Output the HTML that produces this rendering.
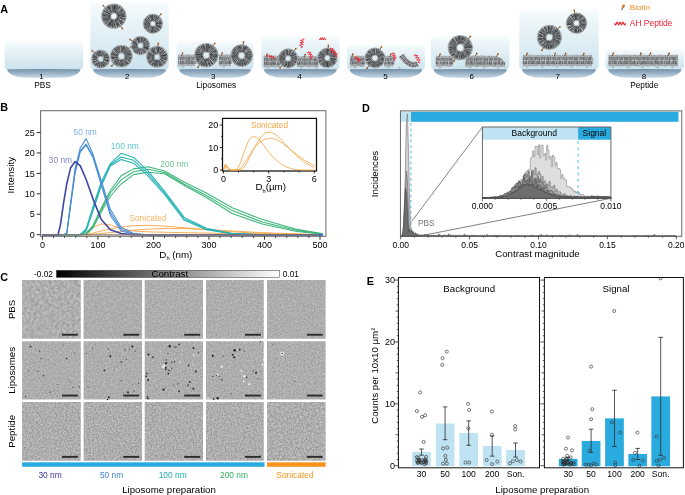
<!DOCTYPE html><html><head><meta charset="utf-8"><title>Figure</title><style>html,body{margin:0;padding:0;background:#fff;overflow:hidden}svg{display:block}text{font-family:"Liberation Sans",sans-serif}</style></head><body>
<svg width="685" height="495" viewBox="0 0 685 495" style="will-change:transform">
<defs>
<linearGradient id="wg" x1="0" y1="0" x2="0" y2="1"><stop offset="0" stop-color="#f9fcfd"/><stop offset="0.15" stop-color="#eff7fa"/><stop offset="1" stop-color="#cbe3ee"/></linearGradient>
<linearGradient id="bg" x1="0" y1="0" x2="0" y2="1"><stop offset="0" stop-color="#728da6"/><stop offset="0.45" stop-color="#96b0c6"/><stop offset="1" stop-color="#c8d8e4"/></linearGradient>
<linearGradient id="cb" x1="0" y1="0" x2="1" y2="0"><stop offset="0" stop-color="#000"/><stop offset="1" stop-color="#fff"/></linearGradient>
<pattern id="lp" patternUnits="userSpaceOnUse" width="9" height="8"><rect width="9" height="8" fill="#a9afb5" fill-opacity="0.6"/><path d="M6.42 5.93a0.82 0.82 0 1 0 0.01 0M0.35 5.92a0.87 0.87 0 1 0 0.01 0M9.35 5.92a0.87 0.87 0 1 0 0.01 0M1.14 3.72a0.88 0.88 0 1 0 0.01 0M10.14 3.72a0.88 0.88 0 1 0 0.01 0M6.39 -0.79a0.55 0.55 0 1 0 0.01 0M6.39 7.21a0.55 0.55 0 1 0 0.01 0M4.94 1.97a0.72 0.72 0 1 0 0.01 0M5.75 0.10a0.59 0.59 0 1 0 0.01 0M5.75 8.10a0.59 0.59 0 1 0 0.01 0M3.32 -0.67a0.81 0.81 0 1 0 0.01 0M3.32 7.33a0.81 0.81 0 1 0 0.01 0M1.99 6.38a0.56 0.56 0 1 0 0.01 0M6.06 1.01a0.50 0.50 0 1 0 0.01 0M8.43 1.68a0.59 0.59 0 1 0 0.01 0M0.46 6.98a0.62 0.62 0 1 0 0.01 0M9.46 6.98a0.62 0.62 0 1 0 0.01 0M0.42 4.31a0.77 0.77 0 1 0 0.01 0M9.42 4.31a0.77 0.77 0 1 0 0.01 0M2.62 -0.47a0.78 0.78 0 1 0 0.01 0M2.62 7.53a0.78 0.78 0 1 0 0.01 0M0.32 -0.85a0.62 0.62 0 1 0 0.01 0M0.32 7.15a0.62 0.62 0 1 0 0.01 0M9.32 -0.85a0.62 0.62 0 1 0 0.01 0M9.32 7.15a0.62 0.62 0 1 0 0.01 0M3.81 1.33a0.56 0.56 0 1 0 0.01 0M1.33 2.41a0.74 0.74 0 1 0 0.01 0M10.33 2.41a0.74 0.74 0 1 0 0.01 0M0.67 5.42a0.64 0.64 0 1 0 0.01 0M9.67 5.42a0.64 0.64 0 1 0 0.01 0M3.48 6.55a0.69 0.69 0 1 0 0.01 0M3.62 3.85a0.78 0.78 0 1 0 0.01 0M1.02 -0.20a0.51 0.51 0 1 0 0.01 0M1.02 7.80a0.51 0.51 0 1 0 0.01 0M10.02 -0.20a0.51 0.51 0 1 0 0.01 0M10.02 7.80a0.51 0.51 0 1 0 0.01 0M7.26 6.76a0.51 0.51 0 1 0 0.01 0M7.82 2.93a0.73 0.73 0 1 0 0.01 0M0.65 0.37a0.57 0.57 0 1 0 0.01 0M0.65 8.37a0.57 0.57 0 1 0 0.01 0M9.65 0.37a0.57 0.57 0 1 0 0.01 0M9.65 8.37a0.57 0.57 0 1 0 0.01 0M0.40 1.57a0.80 0.80 0 1 0 0.01 0M9.40 1.57a0.80 0.80 0 1 0 0.01 0M0.00 -0.46a0.64 0.64 0 1 0 0.01 0M0.00 7.54a0.64 0.64 0 1 0 0.01 0M9.00 -0.46a0.64 0.64 0 1 0 0.01 0M9.00 7.54a0.64 0.64 0 1 0 0.01 0M4.00 4.20a0.81 0.81 0 1 0 0.01 0M1.79 5.99a0.82 0.82 0 1 0 0.01 0M10.79 5.99a0.82 0.82 0 1 0 0.01 0M8.62 0.29a0.88 0.88 0 1 0 0.01 0M8.62 8.29a0.88 0.88 0 1 0 0.01 0M1.56 2.73a0.74 0.74 0 1 0 0.01 0M10.56 2.73a0.74 0.74 0 1 0 0.01 0M0.13 2.72a0.87 0.87 0 1 0 0.01 0M9.13 2.72a0.87 0.87 0 1 0 0.01 0M5.53 2.50a0.63 0.63 0 1 0 0.01 0M2.16 0.63a0.56 0.56 0 1 0 0.01 0M2.16 8.63a0.56 0.56 0 1 0 0.01 0M6.77 -0.03a0.56 0.56 0 1 0 0.01 0M6.77 7.97a0.56 0.56 0 1 0 0.01 0M1.15 -0.11a0.71 0.71 0 1 0 0.01 0M1.15 7.89a0.71 0.71 0 1 0 0.01 0M10.15 -0.11a0.71 0.71 0 1 0 0.01 0M10.15 7.89a0.71 0.71 0 1 0 0.01 0M4.39 1.90a0.74 0.74 0 1 0 0.01 0M8.11 3.65a0.67 0.67 0 1 0 0.01 0M1.01 -0.67a0.51 0.51 0 1 0 0.01 0M1.01 7.33a0.51 0.51 0 1 0 0.01 0M10.01 -0.67a0.51 0.51 0 1 0 0.01 0M10.01 7.33a0.51 0.51 0 1 0 0.01 0M4.99 6.71a0.55 0.55 0 1 0 0.01 0M7.34 -0.40a0.75 0.75 0 1 0 0.01 0M7.34 7.60a0.75 0.75 0 1 0 0.01 0M7.77 0.85a0.67 0.67 0 1 0 0.01 0M7.77 8.85a0.67 0.67 0 1 0 0.01 0M1.96 6.76a0.62 0.62 0 1 0 0.01 0M4.92 -0.01a0.84 0.84 0 1 0 0.01 0M4.92 7.99a0.84 0.84 0 1 0 0.01 0M0.48 3.63a0.70 0.70 0 1 0 0.01 0M9.48 3.63a0.70 0.70 0 1 0 0.01 0M7.18 3.83a0.62 0.62 0 1 0 0.01 0M4.28 1.17a0.65 0.65 0 1 0 0.01 0M0.65 -0.32a0.75 0.75 0 1 0 0.01 0M0.65 7.68a0.75 0.75 0 1 0 0.01 0M9.65 -0.32a0.75 0.75 0 1 0 0.01 0M9.65 7.68a0.75 0.75 0 1 0 0.01 0M5.03 2.71a0.54 0.54 0 1 0 0.01 0M3.30 6.26a0.85 0.85 0 1 0 0.01 0M4.06 6.29a0.81 0.81 0 1 0 0.01 0M7.06 5.31a0.80 0.80 0 1 0 0.01 0M3.88 5.64a0.61 0.61 0 1 0 0.01 0M5.15 6.16a0.78 0.78 0 1 0 0.01 0M3.40 -0.44a0.76 0.76 0 1 0 0.01 0M3.40 7.56a0.76 0.76 0 1 0 0.01 0M5.94 0.09a0.72 0.72 0 1 0 0.01 0M5.94 8.09a0.72 0.72 0 1 0 0.01 0M2.94 5.37a0.69 0.69 0 1 0 0.01 0M8.17 5.18a0.82 0.82 0 1 0 0.01 0M3.93 5.15a0.80 0.80 0 1 0 0.01 0M8.29 2.80a0.84 0.84 0 1 0 0.01 0" fill="none" stroke="#26282a" stroke-width="0.3"/></pattern>
<filter id="soft" x="-5%" y="-5%" width="110%" height="110%"><feGaussianBlur stdDeviation="0.22"/></filter>
<filter id="soft2" x="-2%" y="-2%" width="104%" height="104%"><feGaussianBlur stdDeviation="0.3"/></filter>
</defs>
<g id="panelA">
<text x="0.2" y="12.9" font-size="10.8" text-anchor="start" fill="#000" font-weight="bold">A</text>
<path d="M4.5 45Q4.5 41 8.5 41H79Q83 41 83 45V65.5Q83 68.6 80.6 69.4H6.9Q4.5 68.6 4.5 65.5Z" fill="url(#wg)"/>
<path d="M7.3 69.3Q43.75 68.5 80.2 69.3C80.7 73 73.2 77.8 60.2 77.8H27.3C14.3 77.8 6.8 73 7.3 69.3Z" fill="url(#bg)"/>
<path d="M90.4 6Q90.4 2 94.4 2H164.8Q168.8 2 168.8 6V65.5Q168.8 68.6 166.4 69.4H92.8Q90.4 68.6 90.4 65.5Z" fill="url(#wg)"/>
<path d="M93.2 69.3Q129.6 68.5 166 69.3C166.5 73 159 77.8 146 77.8H113.2C100.2 77.8 92.7 73 93.2 69.3Z" fill="url(#bg)"/>
<path d="M176.5 45Q176.5 41 180.5 41H249.7Q253.7 41 253.7 45V65.5Q253.7 68.6 251.3 69.4H178.9Q176.5 68.6 176.5 65.5Z" fill="url(#wg)"/>
<path d="M179.3 69.3Q215.1 68.5 250.9 69.3C251.4 73 243.9 77.8 230.9 77.8H199.3C186.3 77.8 178.8 73 179.3 69.3Z" fill="url(#bg)"/>
<path d="M261.2 40Q261.2 36 265.2 36H335.5Q339.5 36 339.5 40V65.5Q339.5 68.6 337.1 69.4H263.6Q261.2 68.6 261.2 65.5Z" fill="url(#wg)"/>
<path d="M264 69.3Q300.35 68.5 336.7 69.3C337.2 73 329.7 77.8 316.7 77.8H284C271 77.8 263.5 73 264 69.3Z" fill="url(#bg)"/>
<path d="M347 48.5Q347 44.5 351 44.5H420.9Q424.9 44.5 424.9 48.5V65.5Q424.9 68.6 422.5 69.4H349.4Q347 68.6 347 65.5Z" fill="url(#wg)"/>
<path d="M349.8 69.3Q385.95 68.5 422.1 69.3C422.6 73 415.1 77.8 402.1 77.8H369.8C356.8 77.8 349.3 73 349.8 69.3Z" fill="url(#bg)"/>
<path d="M431 40Q431 36 435 36H505.5Q509.5 36 509.5 40V65.5Q509.5 68.6 507.1 69.4H433.4Q431 68.6 431 65.5Z" fill="url(#wg)"/>
<path d="M433.8 69.3Q470.25 68.5 506.7 69.3C507.2 73 499.7 77.8 486.7 77.8H453.8C440.8 77.8 433.3 73 433.8 69.3Z" fill="url(#bg)"/>
<path d="M519.3 13.4Q519.3 9.4 523.3 9.4H594.6Q598.6 9.4 598.6 13.4V65.5Q598.6 68.6 596.2 69.4H521.7Q519.3 68.6 519.3 65.5Z" fill="url(#wg)"/>
<path d="M522.1 69.3Q558.95 68.5 595.8 69.3C596.3 73 588.8 77.8 575.8 77.8H542.1C529.1 77.8 521.6 73 522.1 69.3Z" fill="url(#bg)"/>
<path d="M605.5 53Q605.5 49 609.5 49H680Q684 49 684 53V65.5Q684 68.6 681.6 69.4H607.9Q605.5 68.6 605.5 65.5Z" fill="url(#wg)"/>
<path d="M608.3 69.3Q644.75 68.5 681.2 69.3C681.7 73 674.2 77.8 661.2 77.8H628.3C615.3 77.8 607.8 73 608.3 69.3Z" fill="url(#bg)"/>
<text x="41.4" y="79.1" font-size="8" text-anchor="middle" fill="#000">1</text>
<text x="127.14" y="79.1" font-size="8" text-anchor="middle" fill="#000">2</text>
<text x="213.28" y="79.1" font-size="8" text-anchor="middle" fill="#000">3</text>
<text x="299.42" y="79.1" font-size="8" text-anchor="middle" fill="#000">4</text>
<text x="385.56" y="79.1" font-size="8" text-anchor="middle" fill="#000">5</text>
<text x="471.7" y="79.1" font-size="8" text-anchor="middle" fill="#000">6</text>
<text x="557.84" y="79.1" font-size="8" text-anchor="middle" fill="#000">7</text>
<text x="643.98" y="79.1" font-size="8" text-anchor="middle" fill="#000">8</text>
<text x="42.5" y="88.2" font-size="8.3" text-anchor="middle" fill="#000">PBS</text>
<text x="216.2" y="88.2" font-size="8.3" text-anchor="middle" fill="#000">Liposomes</text>
<text x="644.2" y="88.1" font-size="8.3" text-anchor="middle" fill="#000">Peptide</text>
<g filter="url(#soft)">
<circle cx="100.6" cy="59" r="5.88" fill="none" stroke="#e9edf0" stroke-width="7.05"/>
<circle cx="100.6" cy="59" r="5.88" fill="none" stroke="url(#lp)" stroke-opacity="0.45" stroke-width="6.65"/>
<path d="M103.67 59.06L109.06 58.87M103.61 59.63L108.91 60.75M103.85 60.36L108.33 61.72M103.12 61.16L107.35 64.25M103.06 61.93L105.97 65.47M101.97 61.76L104.57 66.5M101.44 62.24L102.99 67.07M100.95 62.62L101.55 67.47M99.85 62.59L99.32 67.39M99.23 62L97.26 66.57M98.75 61.68L95.56 65.61M98.47 61.24L94.62 65.11M97.51 60.6L93.24 62.41M97.26 60.24L92.61 62.03M97.43 59.34L92.47 59.52M97.15 58.51L92.48 57.8M97.14 57.64L92.59 56.33M97.36 57.29L93.17 55.49M98.24 56.81L94.65 53.17M98.63 56.15L95.52 52.13M99.1 55.78L97.4 51.14M99.97 55.91L99.06 51.02M100.61 55.61L100.58 50.61M101.45 55.79L102.45 51.04M102.26 55.6L104.6 51.64M103.23 56.27L106.02 52.88M103.62 56.63L107.43 54M103.9 57.5L108.27 55.29M103.99 58.05L108.73 57.08" fill="none" stroke="#111214" stroke-opacity="0.95" stroke-width="0.58"/>
<path d="M106.77 59.93L108.64 60.21M106.13 60.52L108.5 61.17M105.98 62.2L108.04 63.29M104.65 63.64L105.71 65.11M103.87 64.24L104.8 65.86M102.82 64.33L104.16 66.88M101.69 65.42L101.83 67.1M100.23 65.19L99.86 67.25M98.9 64.55L97.55 67.1M97.32 64.03L96.28 66.07M96.88 63.39L95.42 65.11M95.94 62.73L94.01 64.34M94.86 61.55L93.09 62.32M94.27 60.63L92.86 61.01M94.4 59.12L92.39 59.17M94.85 57.83L92.32 57.29M94.94 55.76L93.17 54.75M95.53 55.6L93.89 54.29M96.64 54.69L95.32 53.11M97.59 53.64L96.13 51.62M99 53.64L98.4 50.9M100 52.68L99.44 50.92M101.43 52.82L101.15 51.06M102.57 53.34L103.07 51.12M103.6 54.3L105.26 52.26M105 55.3L106.6 53.62M105.65 55.82L107.71 54.72M106.51 57.36L108.65 56.79M107.01 57.7L108.89 57.3" fill="none" stroke="#1a1c1e" stroke-opacity="0.85" stroke-width="0.46"/>
<circle cx="100.6" cy="59" r="9.05" fill="none" stroke="#6c7074" stroke-width="0.6" stroke-dasharray="0.6 0.55"/>
<circle cx="100.6" cy="59" r="2.65" fill="none" stroke="#55595d" stroke-width="0.6" stroke-dasharray="0.5 0.4"/>
<path d="M94.31 52.71L92.4 50.8" stroke="#5a3c22" stroke-width="0.8"/>
<circle cx="92.22" cy="50.62" r="0.9" fill="#a95c19"/>
<circle cx="121.4" cy="56.2" r="7.08" fill="none" stroke="#e9edf0" stroke-width="8.45"/>
<circle cx="121.4" cy="56.2" r="7.08" fill="none" stroke="url(#lp)" stroke-opacity="0.45" stroke-width="8.05"/>
<path d="M125.49 56.24L131.78 55.83M125.36 56.88L131.39 58.46M124.92 57.6L130.89 60.3M124.68 57.96L130.27 61.57M124.4 59.02L128.41 63.6M124.02 59.61L128.13 64.17M123.08 59.51L126.27 65.14M122.59 59.78L124.4 66.26M121.91 59.72L122.41 66.61M121.37 59.85L120.83 66.53M120.69 59.76L118.96 66.01M119.54 60.11L116.66 65.11M118.95 59.66L115.8 64.6M118.59 59.32L114.71 63.99M118.02 58.76L113.57 62.45M118.05 57.62L112.34 60.47M117.71 57.12L111.5 58.66M117.15 56.81L111.24 57.4M117.61 55.79L111.17 54.66M117.74 55.23L111.29 53.63M117.77 54.55L111.74 52.09M118.38 54.03L113.36 49.82M118.8 53.4L114.76 48.6M119.15 52.98L115.21 48.25M119.93 52.76L116.85 47.1M120.29 52.03L118.24 46.46M121.28 51.86L121.68 46M122.08 52.27L123.39 46.35M122.73 52.46L124.56 46.52M123.15 52.98L126.57 47.19M123.69 53.27L128.13 48.41M124.05 53.83L129.29 49.54M124.87 54.15L130.16 50.62M124.83 54.87L130.8 52.07M125.36 55.27L131.55 53.77" fill="none" stroke="#111214" stroke-opacity="0.95" stroke-width="0.58"/>
<path d="M128.3 57.17L131.42 57.61M128.76 57.93L131.52 58.57M127.99 59.18L130.07 60.28M127.72 60.72L130.08 62.18M125.75 61.25L128.18 63.78M125.58 62.25L127.14 64.7M124.3 63.44L125.72 65.47M122.92 63.02L123.5 66.02M121.49 63.54L121.39 66.2M120.42 63.88L120.6 66.08M119.36 63.35L117.86 66.21M117.86 62.91L115.98 65.31M116.85 61.24L114.3 63.6M116.17 60.77L113.85 63.1M115.27 59.9L112.88 61.32M114.66 58.03L111.36 58.94M114.12 57.42L111.14 57.91M113.9 56.42L111.17 56.5M114.54 54.67L111.3 53.96M114.46 53.33L112.27 52.39M114.95 52.59L112.55 51.26M116.34 51.56L113.71 49.14M117.25 50.64L114.57 47.88M117.64 49.77L116.44 47.24M119.22 48.89L118.3 46.2M119.91 48.62L119.91 46.17M122.16 48.81L122.43 46.18M123.18 49.45L124.26 46.19M124.07 49.71L125.06 46.64M125.25 50.67L127.32 47.78M126.6 50.75L128.6 48.98M127.86 51.72L130.05 50.36M127.42 53.29L130.8 51.72M127.85 54.43L131.33 53.49M128.41 54.88L131.54 54.29" fill="none" stroke="#1a1c1e" stroke-opacity="0.85" stroke-width="0.46"/>
<circle cx="121.4" cy="56.2" r="10.95" fill="none" stroke="#6c7074" stroke-width="0.6" stroke-dasharray="0.6 0.55"/>
<circle cx="121.4" cy="56.2" r="3.15" fill="none" stroke="#55595d" stroke-width="0.6" stroke-dasharray="0.5 0.4"/>
<path d="M129.04 48.56L130.95 46.65" stroke="#5a3c22" stroke-width="0.8"/>
<circle cx="131.12" cy="46.48" r="0.9" fill="#a95c19"/>
<path d="M113.76 63.84L111.85 65.75" stroke="#5a3c22" stroke-width="0.8"/>
<circle cx="111.68" cy="65.92" r="0.9" fill="#a95c19"/>
<circle cx="140.5" cy="45.6" r="6.02" fill="none" stroke="#e9edf0" stroke-width="7.35"/>
<circle cx="140.5" cy="45.6" r="6.02" fill="none" stroke="url(#lp)" stroke-opacity="0.45" stroke-width="6.95"/>
<path d="M143.85 45.71L149 46.22M143.71 46.5L148.68 48.18M143.47 46.71L148.71 48.87M143.44 47.56L147.81 49.99M142.97 48.21L146.36 51.65M142.49 48.68L145.01 52.77M141.56 48.77L143.4 53.75M140.83 49.3L141.31 54.11M140.12 49.02L139.31 54.2M139.35 48.63L137.32 53.66M138.77 48.86L136.06 53.12M138.22 48.42L134.85 52.15M137.99 47.63L133.97 51.13M137.43 46.85L132.68 49.05M136.92 46.34L131.94 47.68M137.37 45.69L131.71 46.13M137.13 44.67L132.16 43.7M137.39 44.23L132.26 42.49M137.52 43.67L132.86 41.09M138.22 42.9L134.81 39.28M139.03 42.65L136.77 37.86M139.58 42.56L137.52 37.31M140 42.02L139.27 37.14M140.97 41.83L141.63 36.99M141.39 42.43L142.86 37.41M142.39 42.71L144.87 38.13M142.91 42.63L145.9 39.06M143.33 43.28L147.3 40.23M143.35 44.33L148.4 41.88M144.2 44.71L148.77 43.66" fill="none" stroke="#111214" stroke-opacity="0.95" stroke-width="0.58"/>
<path d="M146.21 46.25L149.33 46.6M146.5 48.08L148.34 48.78M145.76 48.27L147.89 49.44M145.54 50.05L147.55 51.45M143.88 50.24L145.36 52.45M143.77 51.49L144.77 52.97M141.7 52.05L141.47 54.29M140.23 52.32L139.72 54.33M139.25 52.08L139.45 53.85M138 50.71L137.2 53.14M137.07 50.48L134.88 52.88M135.91 50.02L134.03 51.57M135.29 48.92L133.31 50.21M134.98 47.36L132.31 48.26M134.08 46.26L132.23 46.44M134.83 45.34L131.92 45.21M134.82 43.13L132.86 42.26M135.27 42.29L133.32 41.11M135.86 41.81L133.76 40.34M137.06 40.5L136.1 38.44M138.31 39.27L137.25 37.31M139.04 39.62L138.2 37.3M140.4 38.92L140.54 37.17M142.11 39.14L141.97 37.45M142.52 40.17L143.71 37.64M144.15 40.67L145.4 38.61M145.49 41.05L146.56 39.88M145.52 42.59L147.93 41.21M146.81 43.66L148.89 43.04M146.45 44.79L149.19 44.42" fill="none" stroke="#1a1c1e" stroke-opacity="0.85" stroke-width="0.46"/>
<circle cx="140.5" cy="45.6" r="9.35" fill="none" stroke="#6c7074" stroke-width="0.6" stroke-dasharray="0.6 0.55"/>
<circle cx="140.5" cy="45.6" r="2.65" fill="none" stroke="#55595d" stroke-width="0.6" stroke-dasharray="0.5 0.4"/>
<path d="M132.53 41L130.19 39.65" stroke="#5a3c22" stroke-width="0.8"/>
<circle cx="129.98" cy="39.52" r="0.9" fill="#a95c19"/>
<circle cx="157.1" cy="56.9" r="6.67" fill="none" stroke="#e9edf0" stroke-width="8.65"/>
<circle cx="157.1" cy="56.9" r="6.67" fill="none" stroke="url(#lp)" stroke-opacity="0.45" stroke-width="8.25"/>
<path d="M160.56 56.86L166.81 56.98M160.57 57.65L166.77 58.64M160.72 58.13L166.56 59.79M160.2 59.06L165.53 62.22M159.91 59.33L164.63 63.03M159.23 59.98L162.53 65.37M158.64 59.81L161.2 65.92M158.03 60.26L159.98 66.45M157.29 59.98L157.47 66.72M156.6 60.31L155.62 66.97M156.16 60.18L154.48 66.38M155.55 60.15L152.48 65.63M154.83 59.76L151.46 64.87M154.53 59.12L149.31 63.41M154.07 59L148.92 62.74M154.24 58.13L148.08 60.63M153.92 57.58L147.06 58.68M153.58 56.96L147.22 57.16M153.91 56.31L147.37 55.01M153.8 55.72L147.92 53.3M153.92 55.03L148.48 52.04M154.4 54.35L150.25 49.77M155.28 54.36L151.5 48.55M155.43 53.51L152.51 48.26M156.19 53.89L153.88 47.73M156.95 53.21L157.04 46.88M157.49 53.4L158.7 47.24M158.16 53.27L159.42 47.08M158.66 53.43L161.21 47.73M159.35 54.03L163.03 49.19M159.59 54.62L163.9 49.95M160.07 54.87L165.61 51.78M160.33 55.79L166.49 53.85M160.51 56.11L167.07 54.94" fill="none" stroke="#111214" stroke-opacity="0.95" stroke-width="0.58"/>
<path d="M163.85 57.48L167.17 57.77M164.19 59.18L166.46 59.94M163.55 59.52L166.47 60.61M162.21 61.52L164.34 63.45M161.74 61.79L163.73 63.9M160.81 63.37L161.58 65.48M159.57 62.84L161.12 66.02M158.59 63.89L159.57 66.54M156.68 63.63L155.99 66.68M155.3 64.05L154.82 66.28M154.66 62.86L152.67 66.08M153.12 63.09L151.95 65.29M152.44 62.21L150.18 64.15M151.41 60.65L148.6 62.28M151.18 60.51L148.45 62.04M150.1 59.37L147.59 60.27M150 57.47L147.03 57.7M149.77 56.53L147.02 56.39M150.82 54.79L148.07 53.83M150.6 54.22L148.21 53.12M151.43 52.71L149.44 51.08M152.79 51.85L150.74 49.35M153.69 51.47L152.49 48.54M154.85 50.41L154.28 47.72M155.96 49.63L156.33 47.25M157.12 49.96L157.41 46.97M158.17 50.44L159.38 46.85M160.05 50.09L160.95 47.71M160.48 50.32L161.65 47.9M161.64 52.33L163.65 49.84M162.48 52.71L165.03 50.99M162.96 53.54L165.53 51.88M163.21 55.48L166.48 54.69M163.54 55.84L166.6 55.33" fill="none" stroke="#1a1c1e" stroke-opacity="0.85" stroke-width="0.46"/>
<circle cx="157.1" cy="56.9" r="10.65" fill="none" stroke="#6c7074" stroke-width="0.6" stroke-dasharray="0.6 0.55"/>
<circle cx="157.1" cy="56.9" r="2.65" fill="none" stroke="#55595d" stroke-width="0.6" stroke-dasharray="0.5 0.4"/>
<path d="M158.02 46.44L158.25 43.75" stroke="#5a3c22" stroke-width="0.8"/>
<circle cx="158.27" cy="43.5" r="0.9" fill="#a95c19"/>
<circle cx="113.8" cy="16.2" r="7.67" fill="none" stroke="#e9edf0" stroke-width="9.85"/>
<circle cx="113.8" cy="16.2" r="7.67" fill="none" stroke="url(#lp)" stroke-opacity="0.45" stroke-width="9.45"/>
<path d="M117.97 16.06L125.6 16.31M117.22 16.81L125.33 18.68M117.44 17.51L124.56 20.04M116.81 17.95L123.4 22.36M116.82 18.46L122.98 23.05M116.45 18.74L122.05 24.19M115.78 19.12L119.8 25.95M115.37 19.47L118.89 26.66M114.84 19.62L117.65 26.87M114.15 20.08L114.76 27.67M113.53 20.34L112.42 27.56M113.02 19.74L110.8 27.56M112.17 20.1L109.26 26.65M112.07 19.35L108.53 26.36M111.57 18.98L107.14 25.55M110.82 18.91L105.29 23.81M110.67 18.11L104.02 22.18M110.43 17.66L103.29 20.78M110.26 17.25L102.75 20.02M110.07 16.62L102.42 17.48M110.34 16.07L102.5 15.3M110.41 15.5L102.5 13.43M110.5 14.66L103.39 11.31M110.47 14.24L103.69 10.23M111.15 13.71L104.98 8.48M111.45 13.16L107.1 6.95M111.77 12.59L107.76 6.43M112.28 12.66L109.15 5.53M113.14 12.31L111.83 4.82M113.76 12.23L113.65 4.56M114.22 12.2L114.57 4.68M114.72 12.57L116.55 4.87M115.18 12.95L118 5.54M115.97 12.94L120.13 6.33M116.47 13.64L122.47 8.47M116.94 13.93L123.04 9.39M117.27 14.56L124.15 10.77M117.78 15.01L125.02 12.61M117.83 15.68L125.03 14.28" fill="none" stroke="#111214" stroke-opacity="0.95" stroke-width="0.58"/>
<path d="M121.17 16.28L125.44 16.33M121.26 17.95L125.35 18.88M120.94 19.68L124.34 21.35M120.25 20.7L123.43 22.62M119.07 21.24L122.14 24.33M119.66 22.56L121.64 24.65M117.78 23.51L119.68 26.19M116.49 23.01L117.75 26.94M115.11 23.4L115.46 27.75M114 23.56L113.81 27.78M112.61 23.81L112.55 27.52M111.47 24.18L110.06 27.2M110.4 22.57L107.99 26.12M109.95 22.27L107.65 25.72M108.52 21.53L105.89 24.41M108.24 20.87L104.7 23.73M107.04 19.65L104.03 21.36M106.9 18.43L102.74 19.75M106.34 17.97L102.23 18.93M105.43 16.18L102.06 16.18M105.83 15.2L102.5 14.79M105.76 13.74L102.85 12.91M107.12 12.5L103.51 10.58M107.68 11.52L105.14 9.3M108.29 9.98L105.81 7.66M109.09 9.06L107.7 6.63M110.22 9.23L108.13 5.86M110.76 8.36L110.2 5.24M113.12 7.88L112.8 4.97M114.06 8.93L114.96 4.47M115.06 8.47L115.69 4.81M116.29 8.53L117.54 5.43M117.74 9.06L119.81 6.34M119.19 10L121.52 7.47M120.3 11.25L123.04 9.35M120.34 12.1L123.41 9.99M121.56 12.9L124.79 11.61M121.05 14.86L125.05 14.1M121.58 15.77L125.14 15.58" fill="none" stroke="#1a1c1e" stroke-opacity="0.85" stroke-width="0.46"/>
<circle cx="113.8" cy="16.2" r="12.25" fill="none" stroke="#6c7074" stroke-width="0.6" stroke-dasharray="0.6 0.55"/>
<circle cx="113.8" cy="16.2" r="3.05" fill="none" stroke="#55595d" stroke-width="0.6" stroke-dasharray="0.5 0.4"/>
<path d="M105.24 7.64L103.33 5.73" stroke="#5a3c22" stroke-width="0.8"/>
<circle cx="103.16" cy="5.56" r="0.9" fill="#a95c19"/>
<path d="M120.74 26.11L122.29 28.32" stroke="#5a3c22" stroke-width="0.8"/>
<circle cx="122.43" cy="28.53" r="0.9" fill="#a95c19"/>
<circle cx="152.9" cy="23.7" r="6.08" fill="none" stroke="#e9edf0" stroke-width="7.85"/>
<circle cx="152.9" cy="23.7" r="6.08" fill="none" stroke="url(#lp)" stroke-opacity="0.45" stroke-width="7.45"/>
<path d="M155.98 23.68L161.72 23.59M155.95 24.46L161.23 26.29M156.04 25.26L160.94 27.28M155.89 25.57L160.45 28.17M155.41 26.3L159.25 30.2M154.93 26.73L158.33 30.9M154.1 26.54L156.12 31.87M153.52 26.69L154.62 32.31M152.82 26.59L152.35 32.67M152.27 26.9L151.53 32.67M151.56 26.29L149.31 31.64M150.96 26.28L147.16 30.48M150.3 25.81L145.9 29.05M149.93 25.5L145.13 28.18M149.96 24.64L144.26 26.81M149.86 23.99L144.15 24.87M149.76 23.53L144.18 22.96M149.47 22.63L144.47 20.72M150.19 22.18L145 19.06M150.68 21.86L146.05 18.23M150.71 21.15L147.27 16.66M151.72 21.07L149.43 15.22M152.07 20.19L151.11 14.87M152.66 20.77L152.18 14.9M153.43 20.09L154.66 14.82M154.16 20.75L156.68 15.36M154.8 20.69L157.77 16.4M154.87 21.42L159.12 17.01M155.65 21.81L160.33 18.34M155.62 22.66L161.09 20.72M156.21 23.14L161.95 22.68" fill="none" stroke="#111214" stroke-opacity="0.95" stroke-width="0.58"/>
<path d="M158.92 24.29L161.58 24.55M158.57 25.71L161.34 26.7M158.43 27L160.31 28.15M157.54 27.51L159.89 29.19M156.5 28.14L158.67 30.82M155.77 29.72L156.32 31.65M155.03 29.85L156.48 32.14M153.4 29.98L153.93 32.8M152.18 29.47L151.7 32.29M151.08 29.84L150.44 32.38M149.46 28.95L148.12 30.9M149.13 27.98L147.3 30.25M148.16 26.92L145.32 28.68M146.87 26.48L144.42 27.53M146.34 25.4L144.15 25.93M146.3 23.76L144.23 23.78M146.88 22.5L144.45 22.02M147.64 21.3L145.06 20.03M147.6 20.12L145.64 18.69M148.9 19.22L147.64 17.27M149.11 18.05L147.95 16.13M150.89 17.91L150.14 15.33M152.13 17.44L152.02 14.81M152.96 17.36L152.63 14.66M154.32 18.05L154.95 15.27M156.01 18.5L156.97 15.98M157.08 18.81L158.57 17.06M157.3 19.14L159.44 17.24M158.78 20.86L161.06 19.83M159.15 21.97L161.7 21.3M159.64 23.2L161.98 23.02" fill="none" stroke="#1a1c1e" stroke-opacity="0.85" stroke-width="0.46"/>
<circle cx="152.9" cy="23.7" r="9.65" fill="none" stroke="#6c7074" stroke-width="0.6" stroke-dasharray="0.6 0.55"/>
<circle cx="152.9" cy="23.7" r="2.45" fill="none" stroke="#55595d" stroke-width="0.6" stroke-dasharray="0.5 0.4"/>
<path d="M159.01 16.42L160.74 14.35" stroke="#5a3c22" stroke-width="0.8"/>
<circle cx="160.9" cy="14.16" r="0.9" fill="#a95c19"/>
<rect x="178.3" y="54.9" width="17.7" height="10.8" fill="#f2f4f5" fill-opacity="0.9"/>
<rect x="178.3" y="56.6" width="17.7" height="7.4" fill="url(#lp)" fill-opacity="0.32"/>
<path d="M178.8 56.7L178.56 59.96M178.57 63.9L178.71 60.38M180.13 56.7L180.41 59.9M180.37 63.9L180.47 60.54M181.22 56.7L181.08 60.1M181.24 63.9L181.01 60.85M182.32 56.7L182.43 60.18M182.47 63.9L182.71 60.55M183.61 56.7L183.28 60.21M183.3 63.9L183.35 60.62M184.89 56.7L184.84 60.1M184.99 63.9L185.08 60.33M186.23 56.7L186.22 60.25M186.44 63.9L186.3 60.16M187.3 56.7L187.26 59.86M187.29 63.9L187.36 60.35M188.56 56.7L188.73 60.48M188.82 63.9L188.56 60.4M189.78 56.7L189.66 59.91M189.76 63.9L189.58 60.18M190.92 56.7L190.84 59.9M191 63.9L191.26 60.23M192.07 56.7L192.12 60.31M191.94 63.9L191.94 60.51M193.27 56.7L193.13 60.46M192.93 63.9L192.94 60.87M194.38 56.7L194.28 60.1M194.07 63.9L194.34 60.62M195.57 56.7L195.6 60.04M195.82 63.9L196.08 60.68" fill="none" stroke="#101214" stroke-opacity="0.9" stroke-width="0.5"/>
<path d="M180.38 55.7a0.88 0.88 0 1 0 -1.76 0a0.88 0.88 0 1 0 1.76 0M182.78 55.88a0.88 0.88 0 1 0 -1.76 0a0.88 0.88 0 1 0 1.76 0M185.18 55.65a0.88 0.88 0 1 0 -1.76 0a0.88 0.88 0 1 0 1.76 0M187.58 55.53a0.88 0.88 0 1 0 -1.76 0a0.88 0.88 0 1 0 1.76 0M189.98 55.79a0.88 0.88 0 1 0 -1.76 0a0.88 0.88 0 1 0 1.76 0M192.38 55.84a0.88 0.88 0 1 0 -1.76 0a0.88 0.88 0 1 0 1.76 0M194.78 55.57a0.88 0.88 0 1 0 -1.76 0a0.88 0.88 0 1 0 1.76 0M180.38 64.9a0.88 0.88 0 1 0 -1.76 0a0.88 0.88 0 1 0 1.76 0M182.78 65.08a0.88 0.88 0 1 0 -1.76 0a0.88 0.88 0 1 0 1.76 0M185.18 64.85a0.88 0.88 0 1 0 -1.76 0a0.88 0.88 0 1 0 1.76 0M187.58 64.73a0.88 0.88 0 1 0 -1.76 0a0.88 0.88 0 1 0 1.76 0M189.98 64.99a0.88 0.88 0 1 0 -1.76 0a0.88 0.88 0 1 0 1.76 0M192.38 65.04a0.88 0.88 0 1 0 -1.76 0a0.88 0.88 0 1 0 1.76 0M194.78 64.77a0.88 0.88 0 1 0 -1.76 0a0.88 0.88 0 1 0 1.76 0" fill="#f8f9fa" stroke="#3c4044" stroke-width="0.48"/>
<path d="M181.8 67h2.4" fill="none" stroke="#9aa1a7" stroke-width="0.9"/>
<path d="M181.5 55.8L182.51 53.3" stroke="#5a3c22" stroke-width="0.8"/>
<circle cx="182.61" cy="53.06" r="0.9" fill="#a95c19"/>
<rect x="219" y="54.9" width="13" height="10.8" fill="#f2f4f5" fill-opacity="0.9"/>
<rect x="219" y="56.6" width="13" height="7.4" fill="url(#lp)" fill-opacity="0.32"/>
<path d="M219.5 56.7L219.41 60.16M219.43 63.9L219.22 60.54M220.57 56.7L220.58 59.92M220.76 63.9L221.1 60.64M221.66 56.7L221.99 60.34M221.58 63.9L221.47 60.85M222.93 56.7L222.72 60.1M222.94 63.9L222.62 60.21M224.08 56.7L224.07 60.19M224.05 63.9L224.06 60.36M225.32 56.7L225.08 60.29M225.66 63.9L225.52 60.37M226.62 56.7L226.64 59.94M226.76 63.9L226.98 60.39M227.87 56.7L228.2 60.34M227.93 63.9L228.08 60.65M228.93 56.7L228.91 60.33M229.25 63.9L229.45 60.56M230.19 56.7L230.25 60.2M229.96 63.9L230.05 60.77M231.29 56.7L231.41 60.46M230.96 63.9L230.69 60.12" fill="none" stroke="#101214" stroke-opacity="0.9" stroke-width="0.5"/>
<path d="M221.08 55.7a0.88 0.88 0 1 0 -1.76 0a0.88 0.88 0 1 0 1.76 0M223.48 55.88a0.88 0.88 0 1 0 -1.76 0a0.88 0.88 0 1 0 1.76 0M225.88 55.65a0.88 0.88 0 1 0 -1.76 0a0.88 0.88 0 1 0 1.76 0M228.28 55.53a0.88 0.88 0 1 0 -1.76 0a0.88 0.88 0 1 0 1.76 0M230.68 55.79a0.88 0.88 0 1 0 -1.76 0a0.88 0.88 0 1 0 1.76 0M221.08 64.9a0.88 0.88 0 1 0 -1.76 0a0.88 0.88 0 1 0 1.76 0M223.48 65.08a0.88 0.88 0 1 0 -1.76 0a0.88 0.88 0 1 0 1.76 0M225.88 64.85a0.88 0.88 0 1 0 -1.76 0a0.88 0.88 0 1 0 1.76 0M228.28 64.73a0.88 0.88 0 1 0 -1.76 0a0.88 0.88 0 1 0 1.76 0M230.68 64.99a0.88 0.88 0 1 0 -1.76 0a0.88 0.88 0 1 0 1.76 0" fill="#f8f9fa" stroke="#3c4044" stroke-width="0.48"/>
<path d="M222.5 67h2.4" fill="none" stroke="#9aa1a7" stroke-width="0.9"/>
<path d="M221.2 55.8L222.21 53.3" stroke="#5a3c22" stroke-width="0.8"/>
<circle cx="222.31" cy="53.06" r="0.9" fill="#a95c19"/>
<circle cx="206.3" cy="55.3" r="7.52" fill="none" stroke="#e9edf0" stroke-width="9.35"/>
<circle cx="206.3" cy="55.3" r="7.52" fill="none" stroke="url(#lp)" stroke-opacity="0.45" stroke-width="8.95"/>
<path d="M210.4 55.16L217.49 55.28M209.98 55.78L217.41 56.97M209.94 56.49L216.68 58.99M209.86 57.11L216.05 60.98M209.36 57.6L214.81 62.16M209 58.53L213 63.93M208.37 58.43L212.79 64.38M207.87 59L210.5 65.77M207.12 58.84L209.41 65.87M206.48 59.23L206.18 66.6M205.94 59.26L204.73 66.23M205.06 59.47L203.11 66.04M204.87 59.04L201.65 65.65M203.83 58.74L200.13 64.61M203.59 58.43L199.03 63.57M203.1 57.63L196.98 61.79M203.06 57.16L196.45 60.25M202.87 56.4L195.59 59.03M202.72 55.97L195.6 57.57M202.27 55.2L195.11 54.96M202.19 54.72L195.38 54.31M202.48 54.17L195.64 52.05M202.71 53.49L196.17 50.18M203.1 53.03L197.51 48.7M203.58 52.61L198.72 46.83M203.99 51.83L200.73 45.8M204.73 51.32L202.41 44.79M205.2 51.48L203.52 44.52M206.04 51.32L206 44.17M206.68 51.68L207.35 44.35M207.04 51.8L208.86 44.5M207.89 51.37L210.58 44.76M208.57 51.9L212.31 45.8M209.08 52.01L213.77 47.28M209.63 52.93L215.13 48.73M210.01 53.28L216.31 50.17M209.77 54.13L216.85 51.32M209.96 54.77L217.48 53.93" fill="none" stroke="#111214" stroke-opacity="0.95" stroke-width="0.58"/>
<path d="M214.55 56.05L217.26 56.29M213.63 56.9L217.15 57.71M213.66 58.52L216.62 59.72M212.73 59.09L215.82 61.03M211.81 59.97L214.82 62.41M210.72 61.31L213.02 64.13M210.3 62.65L212.1 64.95M208.77 62.86L209.98 66.11M207.46 63.58L207.07 66.35M206.14 63.26L206.8 66.15M204.75 62.44L204.55 65.92M202.9 62.99L201.33 65.22M202.81 62.99L201.74 65.39M201.8 61.03L199.77 64.05M200.95 60.28L197.88 62.72M200.22 59.26L197.17 61.42M199.06 58.86L195.96 60.33M198.76 57.13L195.67 57.86M198.96 55.96L195.1 56.32M198.53 54.49L195.32 54.15M198.45 53.56L195.24 52.85M199.2 52.83L195.62 51.66M199.87 51.08L196.98 49.22M199.97 50.08L197.94 48.33M201.9 49.66L199.01 46.76M202.7 48.55L201.03 45.77M204.16 47.79L203.02 44.71M204.72 48.42L203.4 44.2M206.24 47.76L207 44.07M208.06 47.19L208.2 44.17M208.27 47.45L208.55 44.48M209.84 47.9L210.75 45.42M211.04 48.87L212.69 46.23M211.77 49.94L214.8 47.53M212.52 51.54L216.09 49.52M214.03 52.16L216.83 51.14M214.44 53.42L216.73 52.84M214.57 54.89L217.59 54.73" fill="none" stroke="#1a1c1e" stroke-opacity="0.85" stroke-width="0.46"/>
<circle cx="206.3" cy="55.3" r="11.85" fill="none" stroke="#6c7074" stroke-width="0.6" stroke-dasharray="0.6 0.55"/>
<circle cx="206.3" cy="55.3" r="3.15" fill="none" stroke="#55595d" stroke-width="0.6" stroke-dasharray="0.5 0.4"/>
<path d="M213.01 45.72L214.56 43.5" stroke="#5a3c22" stroke-width="0.8"/>
<circle cx="214.7" cy="43.3" r="0.9" fill="#a95c19"/>
<path d="M199.59 64.88L198.04 67.1" stroke="#5a3c22" stroke-width="0.8"/>
<circle cx="197.9" cy="67.3" r="0.9" fill="#a95c19"/>
<circle cx="241.6" cy="55.6" r="7.08" fill="none" stroke="#e9edf0" stroke-width="8.45"/>
<circle cx="241.6" cy="55.6" r="7.08" fill="none" stroke="url(#lp)" stroke-opacity="0.45" stroke-width="8.05"/>
<path d="M245.6 55.7L251.84 56.3M245.15 56.43L251.34 57.85M245.5 57.09L251.22 59.32M245.41 57.66L250.43 60.84M244.43 57.93L249.26 62.59M244.27 58.86L247.95 63.65M243.42 59.1L246.06 65.01M242.84 59.47L245.34 65.38M242.21 59.78L242.84 65.91M241.35 59.64L240.97 65.84M240.74 59.85L239.13 65.8M240.31 59.03L237.9 65.32M239.43 58.96L236.45 64.18M239.02 58.15L234.22 62.8M238.24 58.08L233.12 61.31M237.69 57.29L232.42 60.19M237.52 56.95L231.62 58.3M237.95 56.1L231.27 56.59M237.26 55.38L231.48 55.08M237.57 54.56L231.86 53.22M238.14 53.94L232.52 51.33M238.35 53.07L233.08 49.53M239.04 53.14L234.02 48.56M239.48 52.35L235.72 46.92M240 52.09L237.74 45.88M240.74 52.04L239.16 45.54M241.26 51.86L240.82 45.25M242.29 51.85L243.82 45.65M242.91 52.18L245.81 46.15M243.46 51.94L246.34 46.51M243.96 52.37L247.67 47.4M244.59 53.1L249.7 49.15M244.84 53.73L250.53 50.74M245.29 54.17L251.04 52.19M245.6 54.89L251.95 54.11" fill="none" stroke="#111214" stroke-opacity="0.95" stroke-width="0.58"/>
<path d="M249.43 56.36L251.94 56.62M248.7 57.74L251.31 58.6M247.92 58.58L250.82 59.94M247.37 59.78L249.84 61.61M246.68 60.68L249.16 62.96M245.41 61.45L246.43 63.98M244.7 62.5L245.15 64.91M243.05 63.32L243.04 65.53M242.35 62.85L242.47 65.82M240.84 62.91L240.47 66.04M239.28 62.91L239.19 65.09M238.36 61.8L237.03 64.69M236.73 61.6L234.79 63.45M236.65 60.07L233.88 62.57M235.5 59.65L233.15 61.39M234.28 58.37L232.25 59.13M234.18 57.27L231.81 57.81M233.82 56.04L231.3 56.18M235 54.34L231.66 53.68M235.36 53.19L232.28 51.87M235.24 51.65L232.83 50.09M236.25 50.4L234.19 48.59M237.01 50.56L234.54 47.92M237.86 49.2L236.24 46.7M239.3 48.05L238.13 45.89M240.23 48.53L239.63 45.54M241.66 48.7L241.36 45.16M243.39 48.75L244.68 45.91M244.51 49.18L246.36 46.56M245.24 49.47L246.56 46.99M246.55 50.17L248.25 48.27M248.03 51.44L250.21 50.03M247.8 52.94L250.69 51.69M248.97 53.52L251.65 52.8M248.69 55.1L251.61 54.89" fill="none" stroke="#1a1c1e" stroke-opacity="0.85" stroke-width="0.46"/>
<circle cx="241.6" cy="55.6" r="10.95" fill="none" stroke="#6c7074" stroke-width="0.6" stroke-dasharray="0.6 0.55"/>
<circle cx="241.6" cy="55.6" r="3.15" fill="none" stroke="#55595d" stroke-width="0.6" stroke-dasharray="0.5 0.4"/>
<path d="M243.1 44.91L243.48 42.23" stroke="#5a3c22" stroke-width="0.8"/>
<circle cx="243.51" cy="41.98" r="0.9" fill="#a95c19"/>
<rect x="263.6" y="55.9" width="16.4" height="11" fill="#f2f4f5" fill-opacity="0.9"/>
<rect x="263.6" y="57.6" width="16.4" height="7.6" fill="url(#lp)" fill-opacity="0.32"/>
<path d="M264.1 57.7L264.44 61.12M264.22 65.1L264.4 61.97M265.28 57.7L264.94 61.21M265.11 65.1L265.12 61.66M266.5 57.7L266.46 61.42M266.43 65.1L266.49 61.6M267.66 57.7L267.32 61.13M267.38 65.1L267.7 61.29M268.99 57.7L268.74 61.16M268.86 65.1L268.65 61.59M270.18 57.7L270.14 61.06M270.32 65.1L270.18 61.85M271.26 57.7L271.51 61.34M271.37 65.1L271.13 61.99M272.39 57.7L272.16 61.25M272.15 65.1L272.47 61.39M273.56 57.7L273.34 61.15M273.66 65.1L273.33 61.69M274.67 57.7L274.73 61.36M274.59 65.1L274.38 61.8M275.96 57.7L275.66 61.5M275.68 65.1L275.46 61.46M277.15 57.7L276.98 61.22M277.4 65.1L277.5 61.68M278.38 57.7L278.44 61.48M278.28 65.1L278.36 61.85M279.64 57.7L279.5 60.87M279.72 65.1L279.47 61.29" fill="none" stroke="#101214" stroke-opacity="0.9" stroke-width="0.5"/>
<path d="M265.68 56.7a0.88 0.88 0 1 0 -1.76 0a0.88 0.88 0 1 0 1.76 0M268.08 56.88a0.88 0.88 0 1 0 -1.76 0a0.88 0.88 0 1 0 1.76 0M270.48 56.65a0.88 0.88 0 1 0 -1.76 0a0.88 0.88 0 1 0 1.76 0M272.88 56.53a0.88 0.88 0 1 0 -1.76 0a0.88 0.88 0 1 0 1.76 0M275.28 56.79a0.88 0.88 0 1 0 -1.76 0a0.88 0.88 0 1 0 1.76 0M277.68 56.84a0.88 0.88 0 1 0 -1.76 0a0.88 0.88 0 1 0 1.76 0M280.08 56.57a0.88 0.88 0 1 0 -1.76 0a0.88 0.88 0 1 0 1.76 0M265.68 66.1a0.88 0.88 0 1 0 -1.76 0a0.88 0.88 0 1 0 1.76 0M268.08 66.28a0.88 0.88 0 1 0 -1.76 0a0.88 0.88 0 1 0 1.76 0M270.48 66.05a0.88 0.88 0 1 0 -1.76 0a0.88 0.88 0 1 0 1.76 0M272.88 65.93a0.88 0.88 0 1 0 -1.76 0a0.88 0.88 0 1 0 1.76 0M275.28 66.19a0.88 0.88 0 1 0 -1.76 0a0.88 0.88 0 1 0 1.76 0M277.68 66.24a0.88 0.88 0 1 0 -1.76 0a0.88 0.88 0 1 0 1.76 0M280.08 65.97a0.88 0.88 0 1 0 -1.76 0a0.88 0.88 0 1 0 1.76 0" fill="#f8f9fa" stroke="#3c4044" stroke-width="0.48"/>
<path d="M267.1 68.2h2.4" fill="none" stroke="#9aa1a7" stroke-width="0.9"/>
<path d="M266 56.8L267.01 54.3" stroke="#5a3c22" stroke-width="0.8"/>
<circle cx="267.11" cy="54.06" r="0.9" fill="#a95c19"/>
<rect x="296.9" y="56.5" width="21.6" height="10.1" fill="#f2f4f5" fill-opacity="0.9"/>
<rect x="296.9" y="58.2" width="21.6" height="6.7" fill="url(#lp)" fill-opacity="0.32"/>
<path d="M297.4 58.3L297.18 61.36M297.54 64.8L297.48 61.46M298.57 58.3L298.35 61.5M298.66 64.8L298.76 62.15M299.78 58.3L299.77 61.2M299.53 64.8L299.5 61.39M300.94 58.3L300.6 61.6M300.68 64.8L301.01 61.75M302.14 58.3L302.27 61.62M302.08 64.8L302.07 61.42M303.2 58.3L303.38 61.17M303.05 64.8L303.08 61.48M304.38 58.3L304.55 61.39M304.57 64.8L304.3 61.44M305.67 58.3L305.89 61.61M305.57 64.8L305.25 61.93M306.88 58.3L307.22 61.61M306.6 64.8L306.78 61.59M308.23 58.3L308.2 61.6M308.12 64.8L308.08 62.15M309.51 58.3L309.33 61.42M309.73 64.8L309.63 61.92M310.75 58.3L310.52 61.12M310.5 64.8L310.3 61.4M311.91 58.3L311.76 61.21M311.94 64.8L312.08 61.58M313.04 58.3L313.29 61.49M313.38 64.8L313.09 62.12M314.32 58.3L314.62 61.64M314.67 64.8L314.41 62.04M315.45 58.3L315.6 61.56M315.68 64.8L315.8 61.74M316.67 58.3L316.51 61.31M316.61 64.8L316.71 62.05M317.75 58.3L317.76 61.7M317.59 64.8L317.5 62.11" fill="none" stroke="#101214" stroke-opacity="0.9" stroke-width="0.5"/>
<path d="M298.98 57.3a0.88 0.88 0 1 0 -1.76 0a0.88 0.88 0 1 0 1.76 0M301.38 57.48a0.88 0.88 0 1 0 -1.76 0a0.88 0.88 0 1 0 1.76 0M303.78 57.25a0.88 0.88 0 1 0 -1.76 0a0.88 0.88 0 1 0 1.76 0M306.18 57.13a0.88 0.88 0 1 0 -1.76 0a0.88 0.88 0 1 0 1.76 0M308.58 57.39a0.88 0.88 0 1 0 -1.76 0a0.88 0.88 0 1 0 1.76 0M310.98 57.44a0.88 0.88 0 1 0 -1.76 0a0.88 0.88 0 1 0 1.76 0M313.38 57.17a0.88 0.88 0 1 0 -1.76 0a0.88 0.88 0 1 0 1.76 0M315.78 57.19a0.88 0.88 0 1 0 -1.76 0a0.88 0.88 0 1 0 1.76 0M318.18 57.45a0.88 0.88 0 1 0 -1.76 0a0.88 0.88 0 1 0 1.76 0M298.98 65.8a0.88 0.88 0 1 0 -1.76 0a0.88 0.88 0 1 0 1.76 0M301.38 65.98a0.88 0.88 0 1 0 -1.76 0a0.88 0.88 0 1 0 1.76 0M303.78 65.75a0.88 0.88 0 1 0 -1.76 0a0.88 0.88 0 1 0 1.76 0M306.18 65.63a0.88 0.88 0 1 0 -1.76 0a0.88 0.88 0 1 0 1.76 0M308.58 65.89a0.88 0.88 0 1 0 -1.76 0a0.88 0.88 0 1 0 1.76 0M310.98 65.94a0.88 0.88 0 1 0 -1.76 0a0.88 0.88 0 1 0 1.76 0M313.38 65.67a0.88 0.88 0 1 0 -1.76 0a0.88 0.88 0 1 0 1.76 0M315.78 65.69a0.88 0.88 0 1 0 -1.76 0a0.88 0.88 0 1 0 1.76 0M318.18 65.95a0.88 0.88 0 1 0 -1.76 0a0.88 0.88 0 1 0 1.76 0" fill="#f8f9fa" stroke="#3c4044" stroke-width="0.48"/>
<path d="M300.4 67.9h2.4M315.2 67.9h2.4" fill="none" stroke="#9aa1a7" stroke-width="0.9"/>
<path d="M304 57.4L305.01 54.9" stroke="#5a3c22" stroke-width="0.8"/>
<circle cx="305.11" cy="54.66" r="0.9" fill="#a95c19"/>
<circle cx="288.1" cy="58.4" r="6.17" fill="none" stroke="#e9edf0" stroke-width="7.65"/>
<circle cx="288.1" cy="58.4" r="6.17" fill="none" stroke="url(#lp)" stroke-opacity="0.45" stroke-width="7.25"/>
<path d="M291.76 58.18L296.93 58.11M291.26 59.06L296.95 59.94M291.25 59.78L296.29 62.21M291.26 60.39L295.97 62.72M290.25 60.74L294.17 64.68M290 61.18L293.01 66M289.2 61.36L291.1 66.98M288.61 61.51L289.7 67.42M288.08 62.07L288.43 67.22M287.19 61.68L285.6 66.88M286.86 61.28L284.53 66.47M286.26 60.92L282.75 65.54M285.56 60.5L281.2 64.08M285 59.9L279.87 62.39M285.04 59.18L279.59 60.51M285.04 58.61L278.98 59.29M284.67 58L279.2 57.13M284.78 57.44L279.46 55.56M285.42 56.83L280.58 53.73M285.4 56.11L281.38 52.35M285.65 55.48L282.58 51.37M286.35 55.07L283.56 50.84M287.35 55.38L285.79 49.73M287.75 54.91L286.94 49.64M288.6 55.08L289.92 49.46M289.22 55.29L291.36 50.02M289.92 55.78L293.52 51.47M290.48 56.1L294.14 51.83M290.98 56.37L295.59 53.5M291.12 56.88L296.14 54.17M291.77 57.72L296.7 56.38" fill="none" stroke="#111214" stroke-opacity="0.95" stroke-width="0.58"/>
<path d="M294.65 58.64L297.08 58.73M294.57 60.3L296.7 60.93M293.37 61.07L295.91 62.35M292.67 62.32L295.09 64.12M291.66 63.33L292.87 65.68M291.37 64.07L293.08 66M290.08 64.69L290.06 66.71M288.32 64.31L287.88 67.41M287.17 64.28L287.4 67.17M286.02 64.31L284.71 66.69M284.82 64.47L284.28 66.33M283.57 63.32L281.8 64.87M282.92 61.68L280.06 63.3M282.07 60.54L279.78 61.28M281.61 59.47L279.39 59.82M282.24 58.48L279.37 58.51M281.79 57.27L279.36 56.85M282.32 56.05L280.12 55.08M283.49 54.79L280.84 52.76M284.09 54.03L282.38 51.93M284.84 53.38L283.48 50.75M285.99 52.67L285.23 49.8M287.18 52.02L286.48 49.51M288.12 52.56L287.77 49.72M289.91 52.23L290.86 50.1M290.52 53.04L291.79 50.22M292.12 54.12L293.97 51.89M293.04 54.26L295.12 52.61M293.95 54.88L295.4 53.89M294.53 56.2L296.01 55.6M294.15 57.92L296.91 57.7" fill="none" stroke="#1a1c1e" stroke-opacity="0.85" stroke-width="0.46"/>
<circle cx="288.1" cy="58.4" r="9.65" fill="none" stroke="#6c7074" stroke-width="0.6" stroke-dasharray="0.6 0.55"/>
<circle cx="288.1" cy="58.4" r="2.65" fill="none" stroke="#55595d" stroke-width="0.6" stroke-dasharray="0.5 0.4"/>
<path d="M293.95 50.91L295.61 48.79" stroke="#5a3c22" stroke-width="0.8"/>
<circle cx="295.76" cy="48.59" r="0.9" fill="#a95c19"/>
<path d="M281.99 65.68L280.26 67.75" stroke="#5a3c22" stroke-width="0.8"/>
<circle cx="280.1" cy="67.94" r="0.9" fill="#a95c19"/>
<circle cx="327.3" cy="57.9" r="6.27" fill="none" stroke="#e9edf0" stroke-width="7.85"/>
<circle cx="327.3" cy="57.9" r="6.27" fill="none" stroke="url(#lp)" stroke-opacity="0.45" stroke-width="7.45"/>
<path d="M330.91 58.11L336.6 58.92M330.32 58.68L336.45 59.83M330.22 59.3L335.74 61.72M329.93 59.56L335 63.12M329.79 60.33L333.89 63.91M329.29 61.03L332.58 65.25M328.68 61.07L331.15 66.1M327.84 61.1L328.49 66.99M327.46 61.61L327.56 67.11M326.87 60.97L326.11 66.77M326.16 61.12L324.13 66.66M325.61 60.65L322.64 65.96M324.97 60.35L321.36 64.83M324.34 59.87L319.63 62.61M323.81 59.35L318.9 61.53M324.24 58.4L318.51 59.32M324.04 57.84L318.33 57.28M324.06 57.14L318.65 55.48M324.52 56.59L319.34 53.6M324.53 55.86L319.85 52.43M324.47 55.39L320.08 52.04M325.18 55.09L322.16 50.58M326.18 54.73L323.97 49.16M326.79 54.37L326.5 48.62M327.33 54.71L327.61 48.66M328 54.12L328.43 49.05M328.78 54.4L331.19 49.42M329.16 54.8L332.33 50.34M329.45 55.62L333.66 50.98M330.17 55.92L334.99 52.58M330.67 56.3L335.57 53.75M330.74 57.31L336.04 55.97" fill="none" stroke="#111214" stroke-opacity="0.95" stroke-width="0.58"/>
<path d="M333.67 59.17L336.14 59.65M332.84 60.13L335.74 61.28M332.93 61.55L334.95 62.78M332.06 61.66L334.63 63.67M331.37 62.57L333.81 64.93M329.94 63.58L331.58 66.37M328.84 63.62L329.74 66.74M327.92 63.76L327.55 66.75M326.85 64.45L326.2 67.12M325.91 64.71L325.76 66.62M324.43 63.56L322.81 66.27M323.54 62.48L321.86 64.88M322.81 61.95L320.04 64.11M321.14 60.79L318.96 61.8M321.38 59.92L318.36 60.89M320.25 58.17L318.53 58.24M320.26 57.39L318.11 57.23M321.01 55.97L318.86 55.29M321.71 54.5L319.76 53.08M322.56 53.98L320.18 51.99M322.69 52.68L321.22 51.24M323.92 51.89L322.82 50.21M325.63 52.07L325.27 49.41M327.13 50.93L326.69 48.97M327.78 51.18L328.56 49.09M329.31 51.23L329.46 49.45M330.5 51.63L332.03 49.62M330.97 52.91L332.25 50.44M332.71 53.41L334.12 52.24M333.23 54.9L335.09 53.84M333 56.14L336.13 55.16M333.89 57.49L336.33 57.34" fill="none" stroke="#1a1c1e" stroke-opacity="0.85" stroke-width="0.46"/>
<circle cx="327.3" cy="57.9" r="9.85" fill="none" stroke="#6c7074" stroke-width="0.6" stroke-dasharray="0.6 0.55"/>
<circle cx="327.3" cy="57.9" r="2.65" fill="none" stroke="#55595d" stroke-width="0.6" stroke-dasharray="0.5 0.4"/>
<path d="M328.15 48.24L328.38 45.55" stroke="#5a3c22" stroke-width="0.8"/>
<circle cx="328.4" cy="45.3" r="0.9" fill="#a95c19"/>
<path d="M300.8 47.8L302.7 46.93L299.59 45.1L303.16 44.55L300.06 42.71L303.63 42.17L300.52 40.33L304.09 39.79L302.65 38.28" fill="none" stroke="#e8242c" stroke-width="0.85" stroke-linejoin="round"/>
<path d="M319.1 38.8L319.99 40L320.88 37.6L321.76 40L322.65 37.6L323.54 40L324.43 37.6L325.31 40L326.2 38.8" fill="none" stroke="#e8242c" stroke-width="0.85" stroke-linejoin="round"/>
<path d="M267.4 55.2L267.9 56.68L269.7 54.8L269.77 57.4L271.56 55.51L271.64 58.11L273.43 56.23L273.51 58.83L274.87 58.07" fill="none" stroke="#e8242c" stroke-width="0.85" stroke-linejoin="round"/>
<path d="M308.6 51.2L307.61 52.82L310.94 52.34L308.51 54.67L311.84 54.18L309.41 56.51L312.73 56.03L310.31 58.35L312.19 58.57" fill="none" stroke="#e8242c" stroke-width="0.85" stroke-linejoin="round"/>
<path d="M330.6 47.7L330.01 49.54L333.2 48.43L331.35 51.26L334.55 50.15L332.69 52.98L335.89 51.87L334.04 54.7L337.23 53.59L335.38 56.42L337.31 56.29" fill="none" stroke="#e8242c" stroke-width="0.85" stroke-linejoin="round"/>
<rect x="350.3" y="56.1" width="15.2" height="10.2" fill="#f2f4f5" fill-opacity="0.9"/>
<rect x="350.3" y="57.8" width="15.2" height="6.8" fill="url(#lp)" fill-opacity="0.32"/>
<path d="M350.8 57.9L351.11 61.31M350.57 64.5L350.33 61.08M351.91 57.9L351.69 61.18M352.05 64.5L352.21 61.21M353.05 57.9L352.86 61.06M352.73 64.5L352.97 61.12M354.2 57.9L354.15 61.13M354.06 64.5L354.13 61.16M355.26 57.9L355.03 60.67M355.12 64.5L355.36 61.25M356.43 57.9L356.42 60.67M356.54 64.5L356.57 61.15M357.75 57.9L357.66 60.81M357.71 64.5L357.68 61.18M358.88 57.9L358.57 61.13M359.05 64.5L358.76 61.28M360.09 57.9L360.42 61.04M360.15 64.5L360.39 61.65M361.27 57.9L361.29 60.98M361.52 64.5L361.79 61.38M362.34 57.9L362.62 61M362.49 64.5L362.77 61.64M363.59 57.9L363.68 61.21M363.33 64.5L363.1 61.79M364.93 57.9L365.15 60.94M364.67 64.5L365.01 61.35" fill="none" stroke="#101214" stroke-opacity="0.9" stroke-width="0.5"/>
<path d="M352.38 56.9a0.88 0.88 0 1 0 -1.76 0a0.88 0.88 0 1 0 1.76 0M354.78 57.08a0.88 0.88 0 1 0 -1.76 0a0.88 0.88 0 1 0 1.76 0M357.18 56.85a0.88 0.88 0 1 0 -1.76 0a0.88 0.88 0 1 0 1.76 0M359.58 56.73a0.88 0.88 0 1 0 -1.76 0a0.88 0.88 0 1 0 1.76 0M361.98 56.99a0.88 0.88 0 1 0 -1.76 0a0.88 0.88 0 1 0 1.76 0M364.38 57.04a0.88 0.88 0 1 0 -1.76 0a0.88 0.88 0 1 0 1.76 0M352.38 65.5a0.88 0.88 0 1 0 -1.76 0a0.88 0.88 0 1 0 1.76 0M354.78 65.68a0.88 0.88 0 1 0 -1.76 0a0.88 0.88 0 1 0 1.76 0M357.18 65.45a0.88 0.88 0 1 0 -1.76 0a0.88 0.88 0 1 0 1.76 0M359.58 65.33a0.88 0.88 0 1 0 -1.76 0a0.88 0.88 0 1 0 1.76 0M361.98 65.59a0.88 0.88 0 1 0 -1.76 0a0.88 0.88 0 1 0 1.76 0M364.38 65.64a0.88 0.88 0 1 0 -1.76 0a0.88 0.88 0 1 0 1.76 0" fill="#f8f9fa" stroke="#3c4044" stroke-width="0.48"/>
<path d="M353.8 67.6h2.4" fill="none" stroke="#9aa1a7" stroke-width="0.9"/>
<path d="M351.8 57L352.81 54.5" stroke="#5a3c22" stroke-width="0.8"/>
<circle cx="352.91" cy="54.26" r="0.9" fill="#a95c19"/>
<rect x="384" y="56.1" width="10.5" height="10.2" fill="#f2f4f5" fill-opacity="0.9"/>
<rect x="384" y="57.8" width="10.5" height="6.8" fill="url(#lp)" fill-opacity="0.32"/>
<path d="M384.5 57.9L384.59 60.81M384.73 64.5L385.02 61.73M385.57 57.9L385.49 60.86M385.5 64.5L385.34 61.37M386.88 57.9L387.08 61.02M386.97 64.5L386.91 61.33M387.98 57.9L388.04 61.35M388.16 64.5L388.45 61.45M389.06 57.9L388.91 60.88M389.08 64.5L389.02 61.31M390.25 57.9L390.33 60.82M389.93 64.5L389.68 61.49M391.51 57.9L391.19 60.87M391.78 64.5L391.6 61.6M392.84 57.9L393.11 61.25M392.5 64.5L392.36 61.22M394.03 57.9L394.17 61.3M393.75 64.5L393.5 61.78" fill="none" stroke="#101214" stroke-opacity="0.9" stroke-width="0.5"/>
<path d="M386.08 56.9a0.88 0.88 0 1 0 -1.76 0a0.88 0.88 0 1 0 1.76 0M388.48 57.08a0.88 0.88 0 1 0 -1.76 0a0.88 0.88 0 1 0 1.76 0M390.88 56.85a0.88 0.88 0 1 0 -1.76 0a0.88 0.88 0 1 0 1.76 0M393.28 56.73a0.88 0.88 0 1 0 -1.76 0a0.88 0.88 0 1 0 1.76 0M386.08 65.5a0.88 0.88 0 1 0 -1.76 0a0.88 0.88 0 1 0 1.76 0M388.48 65.68a0.88 0.88 0 1 0 -1.76 0a0.88 0.88 0 1 0 1.76 0M390.88 65.45a0.88 0.88 0 1 0 -1.76 0a0.88 0.88 0 1 0 1.76 0M393.28 65.33a0.88 0.88 0 1 0 -1.76 0a0.88 0.88 0 1 0 1.76 0" fill="#f8f9fa" stroke="#3c4044" stroke-width="0.48"/>
<path d="M387.5 67.6h2.4" fill="none" stroke="#9aa1a7" stroke-width="0.9"/>
<path d="M389.7 57L390.71 54.5" stroke="#5a3c22" stroke-width="0.8"/>
<circle cx="390.81" cy="54.26" r="0.9" fill="#a95c19"/>
<circle cx="375" cy="58" r="6.48" fill="none" stroke="#e9edf0" stroke-width="7.85"/>
<circle cx="375" cy="58" r="6.48" fill="none" stroke="url(#lp)" stroke-opacity="0.45" stroke-width="7.45"/>
<path d="M378.46 58.13L384.38 58.52M378.84 58.89L383.95 60.08M378.59 59.66L383.84 61.71M378.06 60.27L382.38 63.93M377.67 60.59L381.52 64.92M377.02 61.22L380.13 65.95M376.39 61.53L378.57 66.77M375.56 61.73L376.91 67.1M374.94 61.59L375.01 67.41M374.39 61.28L373.11 67.15M373.8 61.11L371.03 66.71M372.93 60.81L369.11 65.48M372.27 60.63L368.23 64.28M371.95 60.29L367.76 63.86M371.44 59.28L366.08 60.79M371.64 58.82L366 59.9M371.16 58.07L365.55 57.83M371.13 57.24L365.97 55.73M371.76 56.71L366.26 54.09M372.09 55.85L367.56 52.19M372.74 55.66L368.63 51M372.77 54.99L369.39 50.61M373.71 55.01L371.61 49.19M374.39 54.53L373.22 48.63M374.91 54.17L374.59 48.71M375.61 54.65L377.08 49.11M376.52 54.6L378.74 49.25M376.84 55.27L380.23 50.55M377.57 55.36L381.24 51.02M377.92 56.13L382.6 52.65M378.02 56.59L383.45 53.66M378.2 57.28L384.05 55.64" fill="none" stroke="#111214" stroke-opacity="0.95" stroke-width="0.58"/>
<path d="M381.3 58.67L384.01 58.96M381.18 59.85L384.05 60.67M380.97 61.79L383.01 63.06M380.06 62.59L382.51 64.4M379.15 62.99L380.6 65.31M378.21 63.94L378.83 65.94M377.24 64.63L378.59 66.66M375.52 65.01L375 67.39M374.4 64.61L373.7 67.16M372.97 64.2L371.98 66.75M371.72 64.29L370.35 66.37M370.09 63.03L368.53 64.52M369.8 61.7L367.48 63.42M369.5 61.17L366.76 62.63M368.05 59.5L365.87 60M368.22 59.19L365.87 59.62M368.62 57.59L365.64 57.39M368.09 56.25L366.14 55.72M369.29 55.3L366.58 54.01M370.19 53.4L368.01 51.63M370.48 52.68L369.28 50.91M371.91 52.24L370.07 49.56M372.7 51.52L371.57 49.31M374.58 51.73L374.1 48.91M375.81 50.79L376.65 48.66M376.68 51.88L376.9 49.16M378.12 52.72L379.31 50.19M378.96 53.36L380.87 51.01M380.3 53.7L382.46 52.06M380.62 55.36L383.05 54.11M381.26 55.62L383.96 54.63M381.45 57.49L384.59 57.24" fill="none" stroke="#1a1c1e" stroke-opacity="0.85" stroke-width="0.46"/>
<circle cx="375" cy="58" r="10.05" fill="none" stroke="#6c7074" stroke-width="0.6" stroke-dasharray="0.6 0.55"/>
<circle cx="375" cy="58" r="2.85" fill="none" stroke="#55595d" stroke-width="0.6" stroke-dasharray="0.5 0.4"/>
<path d="M379.95 49.43L381.3 47.09" stroke="#5a3c22" stroke-width="0.8"/>
<circle cx="381.43" cy="46.87" r="0.9" fill="#a95c19"/>
<path d="M368.9 65.8L367.24 67.93" stroke="#5a3c22" stroke-width="0.8"/>
<circle cx="367.09" cy="68.13" r="0.9" fill="#a95c19"/>
<path d="M401.5 55.5Q405.5 62 411 64.3Q414.5 65.3 417.5 63.8" fill="none" stroke="#eef0f2" stroke-width="6.8"/>
<path d="M401.5 55.5Q405.5 62 411 64.3Q414.5 65.3 417.5 63.8" fill="none" stroke="url(#lp)" stroke-opacity="0.4" stroke-width="5"/>
<path d="M401.5 55.5Q405.5 62 411 64.3Q414.5 65.3 417.5 63.8" fill="none" stroke="#101214" stroke-opacity="0.8" stroke-width="4.4" stroke-dasharray="0.5 0.8"/><path d="M401.5 55.5Q405.5 62 411 64.3Q414.5 65.3 417.5 63.8" fill="none" stroke="#eef0f2" stroke-opacity="0.8" stroke-width="0.5"/><path d="M401.5 55.5Q405.5 62 411 64.3Q414.5 65.3 417.5 63.8" fill="none" stroke="#4a4e52" stroke-width="6.8" stroke-opacity="0.35" stroke-dasharray="1.2 1.1"/>
<path d="M399 66.6v1.8h1.6" fill="none" stroke="#8d9499" stroke-width="0.6"/>
<path d="M355.3 56.5L354.93 58.11L357.53 56.75L356.17 59.35L358.76 57.98L357.4 60.58L360 59.22L358.64 61.82L360.25 61.45" fill="none" stroke="#e8242c" stroke-width="0.85" stroke-linejoin="round"/>
<path d="M393 52.3L391.87 53.74L395.05 53.87L392.49 55.75L395.66 55.88L393.1 57.76L396.28 57.89L393.71 59.77L395.46 60.33" fill="none" stroke="#e8242c" stroke-width="0.85" stroke-linejoin="round"/>
<path d="M415.1 54L414.34 55.88L417.74 55.37L415.59 58.05L418.99 57.53L416.84 60.21L420.24 59.7L418.09 62.38L420.1 62.66" fill="none" stroke="#e8242c" stroke-width="0.85" stroke-linejoin="round"/>
<rect x="435.7" y="56.1" width="17.8" height="10.2" fill="#f2f4f5" fill-opacity="0.9"/>
<rect x="435.7" y="57.8" width="17.8" height="6.8" fill="url(#lp)" fill-opacity="0.32"/>
<path d="M436.2 57.9L436.48 61.14M436.43 64.5L436.19 61.07M437.4 57.9L437.56 60.8M437.12 64.5L436.94 61.79M438.54 57.9L438.52 60.74M438.26 64.5L437.94 61.23M439.83 57.9L439.7 60.68M440 64.5L440.18 61.04M441.14 57.9L441.25 60.89M440.91 64.5L440.86 61.5M442.45 57.9L442.17 60.75M442.67 64.5L442.6 61.77M443.58 57.9L443.5 61.24M443.83 64.5L443.93 61.64M444.67 57.9L444.8 61.35M444.36 64.5L444.12 61.33M445.89 57.9L446.11 60.75M446.02 64.5L445.94 61.29M446.95 57.9L447.08 61.38M447.19 64.5L446.93 61.74M448.04 57.9L447.98 60.81M447.72 64.5L447.59 61.56M449.29 57.9L449.48 61.05M449.34 64.5L449.68 61.54M450.44 57.9L450.46 60.68M450.58 64.5L450.7 61.2M451.6 57.9L451.72 61.27M451.52 64.5L451.56 61.79M452.66 57.9L452.76 61.28M452.42 64.5L452.67 61.7" fill="none" stroke="#101214" stroke-opacity="0.9" stroke-width="0.5"/>
<path d="M437.78 56.9a0.88 0.88 0 1 0 -1.76 0a0.88 0.88 0 1 0 1.76 0M440.18 57.08a0.88 0.88 0 1 0 -1.76 0a0.88 0.88 0 1 0 1.76 0M442.58 56.85a0.88 0.88 0 1 0 -1.76 0a0.88 0.88 0 1 0 1.76 0M444.98 56.73a0.88 0.88 0 1 0 -1.76 0a0.88 0.88 0 1 0 1.76 0M447.38 56.99a0.88 0.88 0 1 0 -1.76 0a0.88 0.88 0 1 0 1.76 0M449.78 57.04a0.88 0.88 0 1 0 -1.76 0a0.88 0.88 0 1 0 1.76 0M452.18 56.77a0.88 0.88 0 1 0 -1.76 0a0.88 0.88 0 1 0 1.76 0M437.78 65.5a0.88 0.88 0 1 0 -1.76 0a0.88 0.88 0 1 0 1.76 0M440.18 65.68a0.88 0.88 0 1 0 -1.76 0a0.88 0.88 0 1 0 1.76 0M442.58 65.45a0.88 0.88 0 1 0 -1.76 0a0.88 0.88 0 1 0 1.76 0M444.98 65.33a0.88 0.88 0 1 0 -1.76 0a0.88 0.88 0 1 0 1.76 0M447.38 65.59a0.88 0.88 0 1 0 -1.76 0a0.88 0.88 0 1 0 1.76 0M449.78 65.64a0.88 0.88 0 1 0 -1.76 0a0.88 0.88 0 1 0 1.76 0M452.18 65.37a0.88 0.88 0 1 0 -1.76 0a0.88 0.88 0 1 0 1.76 0" fill="#f8f9fa" stroke="#3c4044" stroke-width="0.48"/>
<path d="M439.2 67.6h2.4" fill="none" stroke="#9aa1a7" stroke-width="0.9"/>
<path d="M439 57L440.01 54.5" stroke="#5a3c22" stroke-width="0.8"/>
<circle cx="440.11" cy="54.26" r="0.9" fill="#a95c19"/>
<clipPath id="c6"><path d="M465 68L465.6 60L468.5 56.6L474 55.2L486 55.6L497 56L502 59L505.5 63.5L505 68Z"/></clipPath>
<g clip-path="url(#c6)">
<rect x="465" y="55.7" width="41" height="10.8" fill="#f2f4f5" fill-opacity="0.9"/>
<rect x="465" y="57.4" width="41" height="7.4" fill="url(#lp)" fill-opacity="0.32"/>
<path d="M465.5 57.5L465.49 61.28M465.32 64.7L465 61.08M466.74 57.5L466.68 60.87M466.56 64.7L466.77 61.26M468.05 57.5L468.01 60.9M467.78 64.7L467.89 60.98M469.22 57.5L469.26 60.57M468.87 64.7L468.95 61.4M470.37 57.5L470.37 61.04M470.16 64.7L470.48 61.19M471.43 57.5L471.24 60.95M471.4 64.7L471.48 61.28M472.68 57.5L472.83 61.11M472.41 64.7L472.21 61.17M473.98 57.5L474.3 60.92M473.83 64.7L473.97 60.94M475.08 57.5L474.83 61.08M475.23 64.7L474.95 61.39M476.18 57.5L476.48 60.87M476.11 64.7L476.3 61.47M477.27 57.5L477.21 61.17M477.56 64.7L477.63 61.52M478.45 57.5L478.56 60.61M478.77 64.7L478.77 61.32M479.52 57.5L479.82 60.89M479.75 64.7L479.76 61.64M480.62 57.5L480.67 60.6M480.78 64.7L480.7 61.38M481.93 57.5L481.94 61.28M481.85 64.7L482.14 61.51M483.07 57.5L483.39 60.86M483.39 64.7L483.14 61.23M484.33 57.5L484.5 61.06M484.18 64.7L484.44 61.47M485.66 57.5L485.75 61M485.45 64.7L485.3 61.18M486.91 57.5L487.24 61.27M487.01 64.7L487.02 61.46M488.05 57.5L487.78 60.88M487.95 64.7L488 61.43M489.23 57.5L489.4 60.73M489.47 64.7L489.71 61.55M490.44 57.5L490.1 61.04M490.19 64.7L489.98 61.5M491.53 57.5L491.39 61.17M491.36 64.7L491.49 61.14M492.81 57.5L492.48 60.58M493.03 64.7L493.29 61.49M494.12 57.5L494.29 60.69M494.16 64.7L494.36 61.54M495.26 57.5L495.37 60.81M495.55 64.7L495.87 61.68M496.4 57.5L496.44 60.7M496.06 64.7L496.14 61.52M497.71 57.5L497.94 61.06M498 64.7L498.1 61.5M498.93 57.5L499 61.27M499.12 64.7L498.97 61.04M500.18 57.5L499.96 60.91M499.95 64.7L499.87 61.24M501.4 57.5L501.14 60.7M501.46 64.7L501.34 61.47M502.49 57.5L502.25 60.54M502.37 64.7L502.67 61.39M503.74 57.5L503.74 60.79M503.79 64.7L503.99 61.15M504.86 57.5L504.64 60.9M504.56 64.7L504.5 61.33" fill="none" stroke="#101214" stroke-opacity="0.9" stroke-width="0.5"/>
<path d="M467.08 56.5a0.88 0.88 0 1 0 -1.76 0a0.88 0.88 0 1 0 1.76 0M469.48 56.68a0.88 0.88 0 1 0 -1.76 0a0.88 0.88 0 1 0 1.76 0M471.88 56.45a0.88 0.88 0 1 0 -1.76 0a0.88 0.88 0 1 0 1.76 0M474.28 56.33a0.88 0.88 0 1 0 -1.76 0a0.88 0.88 0 1 0 1.76 0M476.68 56.59a0.88 0.88 0 1 0 -1.76 0a0.88 0.88 0 1 0 1.76 0M479.08 56.64a0.88 0.88 0 1 0 -1.76 0a0.88 0.88 0 1 0 1.76 0M481.48 56.37a0.88 0.88 0 1 0 -1.76 0a0.88 0.88 0 1 0 1.76 0M483.88 56.39a0.88 0.88 0 1 0 -1.76 0a0.88 0.88 0 1 0 1.76 0M486.28 56.65a0.88 0.88 0 1 0 -1.76 0a0.88 0.88 0 1 0 1.76 0M488.68 56.57a0.88 0.88 0 1 0 -1.76 0a0.88 0.88 0 1 0 1.76 0M491.08 56.33a0.88 0.88 0 1 0 -1.76 0a0.88 0.88 0 1 0 1.76 0M493.48 56.47a0.88 0.88 0 1 0 -1.76 0a0.88 0.88 0 1 0 1.76 0M495.88 56.68a0.88 0.88 0 1 0 -1.76 0a0.88 0.88 0 1 0 1.76 0M498.28 56.48a0.88 0.88 0 1 0 -1.76 0a0.88 0.88 0 1 0 1.76 0M500.68 56.33a0.88 0.88 0 1 0 -1.76 0a0.88 0.88 0 1 0 1.76 0M503.08 56.56a0.88 0.88 0 1 0 -1.76 0a0.88 0.88 0 1 0 1.76 0M505.48 56.66a0.88 0.88 0 1 0 -1.76 0a0.88 0.88 0 1 0 1.76 0M467.08 65.7a0.88 0.88 0 1 0 -1.76 0a0.88 0.88 0 1 0 1.76 0M469.48 65.88a0.88 0.88 0 1 0 -1.76 0a0.88 0.88 0 1 0 1.76 0M471.88 65.65a0.88 0.88 0 1 0 -1.76 0a0.88 0.88 0 1 0 1.76 0M474.28 65.53a0.88 0.88 0 1 0 -1.76 0a0.88 0.88 0 1 0 1.76 0M476.68 65.79a0.88 0.88 0 1 0 -1.76 0a0.88 0.88 0 1 0 1.76 0M479.08 65.84a0.88 0.88 0 1 0 -1.76 0a0.88 0.88 0 1 0 1.76 0M481.48 65.57a0.88 0.88 0 1 0 -1.76 0a0.88 0.88 0 1 0 1.76 0M483.88 65.59a0.88 0.88 0 1 0 -1.76 0a0.88 0.88 0 1 0 1.76 0M486.28 65.85a0.88 0.88 0 1 0 -1.76 0a0.88 0.88 0 1 0 1.76 0M488.68 65.77a0.88 0.88 0 1 0 -1.76 0a0.88 0.88 0 1 0 1.76 0M491.08 65.53a0.88 0.88 0 1 0 -1.76 0a0.88 0.88 0 1 0 1.76 0M493.48 65.67a0.88 0.88 0 1 0 -1.76 0a0.88 0.88 0 1 0 1.76 0M495.88 65.88a0.88 0.88 0 1 0 -1.76 0a0.88 0.88 0 1 0 1.76 0M498.28 65.68a0.88 0.88 0 1 0 -1.76 0a0.88 0.88 0 1 0 1.76 0M500.68 65.53a0.88 0.88 0 1 0 -1.76 0a0.88 0.88 0 1 0 1.76 0M503.08 65.76a0.88 0.88 0 1 0 -1.76 0a0.88 0.88 0 1 0 1.76 0M505.48 65.86a0.88 0.88 0 1 0 -1.76 0a0.88 0.88 0 1 0 1.76 0" fill="#f8f9fa" stroke="#3c4044" stroke-width="0.48"/>
</g>
<path d="M469 67.8h2.4M483 67.8h2.4M497 67.8h2.4" fill="none" stroke="#9aa1a7" stroke-width="0.9"/>
<path d="M475.4 56L476.67 53.62" stroke="#5a3c22" stroke-width="0.8"/>
<circle cx="476.78" cy="53.4" r="0.9" fill="#a95c19"/>
<path d="M496.5 56.5L497.77 54.12" stroke="#5a3c22" stroke-width="0.8"/>
<circle cx="497.88" cy="53.9" r="0.9" fill="#a95c19"/>
<circle cx="460.3" cy="47.7" r="7.92" fill="none" stroke="#e9edf0" stroke-width="9.35"/>
<circle cx="460.3" cy="47.7" r="7.92" fill="none" stroke="url(#lp)" stroke-opacity="0.45" stroke-width="8.95"/>
<path d="M464.42 47.59L471.92 47.19M464.95 48.61L471.83 50.19M464.5 49.31L470.94 52.41M464.29 50L470.14 53.86M464.06 50.53L469.26 55.25M463.43 51.13L468.5 55.89M462.92 51.61L467.05 56.92M462.07 51.72L465.28 58.08M461.75 51.95L463.84 58.68M461.06 52.33L461.8 59.35M460.17 52.18L459.91 59.26M459.31 51.64L456.96 58.66M458.72 51.8L456.74 58.89M457.87 51.69L454.35 57.69M457.6 50.79L452.29 56.24M457.03 50.62L452.02 55.9M456.61 50.23L450.51 54.19M456.27 49.51L449.87 52.58M455.92 48.91L449.02 50.32M456.12 48.09L448.88 49.23M456.15 47.35L448.95 47.32M456.16 46.64L449.3 44.32M456.44 45.93L449.84 42.49M456.6 45.41L450.81 41.27M457.22 45L451.93 40.07M457.46 44.41L452.47 38.91M458.13 43.97L454.98 37.19M458.95 43.76L456.14 36.95M459.46 43.53L458.07 36.57M460.17 43.35L459.48 36M460.79 43.2L461.18 35.99M461.32 43.75L462.52 36.54M462.01 43.64L464.55 36.72M462.69 43.86L466.11 37.81M463.39 44.27L468.3 39.43M463.73 45.24L469.77 41.05M464.22 45.81L470.52 42.24M464.46 46.44L471.53 44.26M464.73 47.1L471.71 45.97" fill="none" stroke="#111214" stroke-opacity="0.95" stroke-width="0.58"/>
<path d="M468.81 47.92L471.72 47.99M468.72 50.01L471.26 50.72M467.35 51.48L470.6 53.12M466.51 51.93L469.91 54.04M465.86 52.68L468.85 55.54M465.44 54.4L466.73 56.6M464.19 54.6L466.79 57.93M463.11 55.19L464.42 58.4M462.29 55.98L462.62 58.83M461.07 55.24L461.56 58.98M459.71 55.68L459.38 58.99M457.35 55.65L455.5 58.55M456.67 55.07L455.65 57.77M455.4 54.24L453.71 57.07M453.9 53.52L451.41 55.26M453.75 53.08L451.61 55.01M453.29 51.34L449.97 53.02M452.76 50.53L449.43 51.85M452.03 49.59L449.32 50.21M451.66 47.73L449.04 47.73M452.87 46.79L448.82 46.3M452.54 45L449.71 44.01M453.53 43.7L450.39 41.84M453.75 42.57L451.11 40.48M454.68 41.34L452.49 39.07M455.45 41.66L453.06 38.93M456.52 40.15L455.71 37.43M458.45 39.95L458.25 36.6M459.14 39.1L458.73 36.3M460.37 39.34L459.81 36.03M462.14 39.43L462.76 36.46M462.65 39.78L463.87 36.48M464.1 39.76L465.35 37.38M464.84 41.01L467.13 38.43M466.07 42.59L468.55 40.14M467.04 43.39L469.87 41.38M467.76 44.47L470.43 43.16M468.34 45.64L471.41 44.89M468.46 46.88L471.95 46.54" fill="none" stroke="#1a1c1e" stroke-opacity="0.85" stroke-width="0.46"/>
<circle cx="460.3" cy="47.7" r="12.25" fill="none" stroke="#6c7074" stroke-width="0.6" stroke-dasharray="0.6 0.55"/>
<circle cx="460.3" cy="47.7" r="3.55" fill="none" stroke="#55595d" stroke-width="0.6" stroke-dasharray="0.5 0.4"/>
<path d="M468.4 38.71L470.2 36.7" stroke="#5a3c22" stroke-width="0.8"/>
<circle cx="470.37" cy="36.52" r="0.9" fill="#a95c19"/>
<path d="M455.19 58.67L454.05 61.11" stroke="#5a3c22" stroke-width="0.8"/>
<circle cx="453.94" cy="61.34" r="0.9" fill="#a95c19"/>
<rect x="522.7" y="55.3" width="70.5" height="10.5" fill="#f2f4f5" fill-opacity="0.9"/>
<rect x="522.7" y="57" width="70.5" height="7.1" fill="url(#lp)" fill-opacity="0.32"/>
<path d="M523.2 57.1L523.4 60.42M523.12 64L523.29 60.96M524.46 57.1L524.18 60.33M524.2 64L524.02 61.04M525.59 57.1L525.86 60.1M525.53 64L525.68 60.98M526.82 57.1L526.55 60.47M526.47 64L526.6 60.6M527.98 57.1L527.73 60.15M528.08 64L528.33 60.69M529.14 57.1L528.98 60.55M529.26 64L529.2 60.98M530.33 57.1L530.24 60.15M530.37 64L530.23 60.63M531.59 57.1L531.76 60.48M531.84 64L532.01 60.71M532.85 57.1L532.62 60.27M532.65 64L532.54 60.79M534.11 57.1L534.26 60.72M533.87 64L533.53 60.42M535.2 57.1L535.5 60M535.16 64L534.96 60.41M536.27 57.1L536.19 60.44M536.61 64L536.62 60.92M537.5 57.1L537.81 60.46M537.72 64L537.68 60.51M538.74 57.1L538.96 59.98M538.59 64L538.66 60.76M539.86 57.1L539.63 60.14M539.54 64L539.19 60.48M541.21 57.1L541.41 60.27M541.11 64L541.17 60.76M542.48 57.1L542.18 60.18M542.2 64L542.43 61.08M543.64 57.1L543.96 60.44M543.48 64L543.27 61.09M544.86 57.1L544.69 60.04M544.79 64L544.49 60.59M546.19 57.1L546.4 60.65M546.51 64L546.73 60.81M547.45 57.1L547.78 60.57M547.5 64L547.68 61.12M548.64 57.1L548.61 59.97M548.7 64L548.43 60.4M549.88 57.1L550.22 60.13M550 64L549.87 61.11M551.08 57.1L550.74 60.15M551.32 64L551.03 60.89M552.38 57.1L552.08 60.33M552.68 64L552.58 61.07M553.51 57.1L553.82 60.68M553.64 64L553.64 60.51M554.78 57.1L555.04 60.11M554.58 64L554.4 60.84M555.88 57.1L555.6 60.49M556.17 64L556.29 60.84M557.16 57.1L557.19 60.34M556.84 64L556.92 60.74M558.5 57.1L558.78 60.34M558.76 64L559.1 61.08M559.64 57.1L559.44 59.99M559.69 64L559.9 60.73M560.85 57.1L560.85 60.5M560.78 64L560.55 61.13M562.11 57.1L562.08 59.96M562.24 64L562.04 60.81M563.26 57.1L563.34 60.39M563.09 64L562.9 60.73M564.49 57.1L564.4 60.12M564.49 64L564.63 60.65M565.8 57.1L565.64 60.05M565.57 64L565.63 60.53M566.88 57.1L566.72 60.3M566.69 64L566.61 60.47M568.21 57.1L567.97 60.09M568.43 64L568.43 61.15M569.52 57.1L569.53 60.58M569.67 64L569.53 60.8M570.74 57.1L570.67 60M570.87 64L571.09 60.73M571.98 57.1L571.94 60.24M571.86 64L571.91 61.1M573.11 57.1L572.77 60.64M572.84 64L573.17 60.51M574.33 57.1L574.43 60.57M574.1 64L574 60.89M575.53 57.1L575.69 60.25M575.8 64L575.65 60.86M576.62 57.1L576.39 60.22M576.83 64L576.93 60.81M577.92 57.1L577.62 60.13M577.69 64L577.56 60.58M579.05 57.1L579.15 60.31M578.89 64L579.15 60.64M580.28 57.1L580.61 60.1M580.22 64L579.89 60.93M581.53 57.1L581.84 60.01M581.67 64L581.44 60.43M582.6 57.1L582.86 59.97M582.63 64L582.56 60.96M583.67 57.1L583.51 60.47M583.43 64L583.7 60.6M584.8 57.1L584.65 60.06M584.88 64L585.12 60.37M586.05 57.1L586.3 60.33M585.92 64L586.26 60.78M587.18 57.1L587.14 60.51M587.51 64L587.28 60.83M588.42 57.1L588.51 60.37M588.46 64L588.56 60.6M589.57 57.1L589.6 60.3M589.78 64L589.69 60.56M590.71 57.1L590.36 60.63M590.93 64L590.82 60.73M591.76 57.1L592.06 60.33M592.08 64L591.73 60.69" fill="none" stroke="#101214" stroke-opacity="0.9" stroke-width="0.5"/>
<path d="M524.78 56.1a0.88 0.88 0 1 0 -1.76 0a0.88 0.88 0 1 0 1.76 0M527.18 56.28a0.88 0.88 0 1 0 -1.76 0a0.88 0.88 0 1 0 1.76 0M529.58 56.05a0.88 0.88 0 1 0 -1.76 0a0.88 0.88 0 1 0 1.76 0M531.98 55.93a0.88 0.88 0 1 0 -1.76 0a0.88 0.88 0 1 0 1.76 0M534.38 56.19a0.88 0.88 0 1 0 -1.76 0a0.88 0.88 0 1 0 1.76 0M536.78 56.24a0.88 0.88 0 1 0 -1.76 0a0.88 0.88 0 1 0 1.76 0M539.18 55.97a0.88 0.88 0 1 0 -1.76 0a0.88 0.88 0 1 0 1.76 0M541.58 55.99a0.88 0.88 0 1 0 -1.76 0a0.88 0.88 0 1 0 1.76 0M543.98 56.25a0.88 0.88 0 1 0 -1.76 0a0.88 0.88 0 1 0 1.76 0M546.38 56.17a0.88 0.88 0 1 0 -1.76 0a0.88 0.88 0 1 0 1.76 0M548.78 55.93a0.88 0.88 0 1 0 -1.76 0a0.88 0.88 0 1 0 1.76 0M551.18 56.07a0.88 0.88 0 1 0 -1.76 0a0.88 0.88 0 1 0 1.76 0M553.58 56.28a0.88 0.88 0 1 0 -1.76 0a0.88 0.88 0 1 0 1.76 0M555.98 56.08a0.88 0.88 0 1 0 -1.76 0a0.88 0.88 0 1 0 1.76 0M558.38 55.93a0.88 0.88 0 1 0 -1.76 0a0.88 0.88 0 1 0 1.76 0M560.78 56.16a0.88 0.88 0 1 0 -1.76 0a0.88 0.88 0 1 0 1.76 0M563.18 56.26a0.88 0.88 0 1 0 -1.76 0a0.88 0.88 0 1 0 1.76 0M565.58 55.99a0.88 0.88 0 1 0 -1.76 0a0.88 0.88 0 1 0 1.76 0M567.98 55.97a0.88 0.88 0 1 0 -1.76 0a0.88 0.88 0 1 0 1.76 0M570.38 56.24a0.88 0.88 0 1 0 -1.76 0a0.88 0.88 0 1 0 1.76 0M572.78 56.2a0.88 0.88 0 1 0 -1.76 0a0.88 0.88 0 1 0 1.76 0M575.18 55.94a0.88 0.88 0 1 0 -1.76 0a0.88 0.88 0 1 0 1.76 0M577.58 56.05a0.88 0.88 0 1 0 -1.76 0a0.88 0.88 0 1 0 1.76 0M579.98 56.28a0.88 0.88 0 1 0 -1.76 0a0.88 0.88 0 1 0 1.76 0M582.38 56.11a0.88 0.88 0 1 0 -1.76 0a0.88 0.88 0 1 0 1.76 0M584.78 55.92a0.88 0.88 0 1 0 -1.76 0a0.88 0.88 0 1 0 1.76 0M587.18 56.14a0.88 0.88 0 1 0 -1.76 0a0.88 0.88 0 1 0 1.76 0M589.58 56.27a0.88 0.88 0 1 0 -1.76 0a0.88 0.88 0 1 0 1.76 0M591.98 56.02a0.88 0.88 0 1 0 -1.76 0a0.88 0.88 0 1 0 1.76 0M524.78 65a0.88 0.88 0 1 0 -1.76 0a0.88 0.88 0 1 0 1.76 0M527.18 65.18a0.88 0.88 0 1 0 -1.76 0a0.88 0.88 0 1 0 1.76 0M529.58 64.95a0.88 0.88 0 1 0 -1.76 0a0.88 0.88 0 1 0 1.76 0M531.98 64.83a0.88 0.88 0 1 0 -1.76 0a0.88 0.88 0 1 0 1.76 0M534.38 65.09a0.88 0.88 0 1 0 -1.76 0a0.88 0.88 0 1 0 1.76 0M536.78 65.14a0.88 0.88 0 1 0 -1.76 0a0.88 0.88 0 1 0 1.76 0M539.18 64.87a0.88 0.88 0 1 0 -1.76 0a0.88 0.88 0 1 0 1.76 0M541.58 64.89a0.88 0.88 0 1 0 -1.76 0a0.88 0.88 0 1 0 1.76 0M543.98 65.15a0.88 0.88 0 1 0 -1.76 0a0.88 0.88 0 1 0 1.76 0M546.38 65.07a0.88 0.88 0 1 0 -1.76 0a0.88 0.88 0 1 0 1.76 0M548.78 64.83a0.88 0.88 0 1 0 -1.76 0a0.88 0.88 0 1 0 1.76 0M551.18 64.97a0.88 0.88 0 1 0 -1.76 0a0.88 0.88 0 1 0 1.76 0M553.58 65.18a0.88 0.88 0 1 0 -1.76 0a0.88 0.88 0 1 0 1.76 0M555.98 64.98a0.88 0.88 0 1 0 -1.76 0a0.88 0.88 0 1 0 1.76 0M558.38 64.83a0.88 0.88 0 1 0 -1.76 0a0.88 0.88 0 1 0 1.76 0M560.78 65.06a0.88 0.88 0 1 0 -1.76 0a0.88 0.88 0 1 0 1.76 0M563.18 65.16a0.88 0.88 0 1 0 -1.76 0a0.88 0.88 0 1 0 1.76 0M565.58 64.89a0.88 0.88 0 1 0 -1.76 0a0.88 0.88 0 1 0 1.76 0M567.98 64.87a0.88 0.88 0 1 0 -1.76 0a0.88 0.88 0 1 0 1.76 0M570.38 65.14a0.88 0.88 0 1 0 -1.76 0a0.88 0.88 0 1 0 1.76 0M572.78 65.1a0.88 0.88 0 1 0 -1.76 0a0.88 0.88 0 1 0 1.76 0M575.18 64.84a0.88 0.88 0 1 0 -1.76 0a0.88 0.88 0 1 0 1.76 0M577.58 64.95a0.88 0.88 0 1 0 -1.76 0a0.88 0.88 0 1 0 1.76 0M579.98 65.18a0.88 0.88 0 1 0 -1.76 0a0.88 0.88 0 1 0 1.76 0M582.38 65.01a0.88 0.88 0 1 0 -1.76 0a0.88 0.88 0 1 0 1.76 0M584.78 64.82a0.88 0.88 0 1 0 -1.76 0a0.88 0.88 0 1 0 1.76 0M587.18 65.04a0.88 0.88 0 1 0 -1.76 0a0.88 0.88 0 1 0 1.76 0M589.58 65.17a0.88 0.88 0 1 0 -1.76 0a0.88 0.88 0 1 0 1.76 0M591.98 64.92a0.88 0.88 0 1 0 -1.76 0a0.88 0.88 0 1 0 1.76 0" fill="#f8f9fa" stroke="#3c4044" stroke-width="0.48"/>
<path d="M526.2 67.1h2.4M541 67.1h2.4M555.8 67.1h2.4M570.6 67.1h2.4M585.4 67.1h2.4" fill="none" stroke="#9aa1a7" stroke-width="0.9"/>
<path d="M526.2 56.2L527.21 53.7" stroke="#5a3c22" stroke-width="0.8"/>
<circle cx="527.31" cy="53.46" r="0.9" fill="#a95c19"/>
<path d="M554.2 56.2L555.21 53.7" stroke="#5a3c22" stroke-width="0.8"/>
<circle cx="555.31" cy="53.46" r="0.9" fill="#a95c19"/>
<path d="M564.5 56.2L565.51 53.7" stroke="#5a3c22" stroke-width="0.8"/>
<circle cx="565.61" cy="53.46" r="0.9" fill="#a95c19"/>
<path d="M582.8 56.2L583.81 53.7" stroke="#5a3c22" stroke-width="0.8"/>
<circle cx="583.91" cy="53.46" r="0.9" fill="#a95c19"/>
<circle cx="549.4" cy="37.4" r="7.72" fill="none" stroke="#e9edf0" stroke-width="9.55"/>
<circle cx="549.4" cy="37.4" r="7.72" fill="none" stroke="url(#lp)" stroke-opacity="0.45" stroke-width="9.15"/>
<path d="M553.05 37.31L560.91 36.98M553.31 37.99L560.85 39.03M553.06 38.69L559.93 41.57M553.04 39.37L559.49 43.06M552.45 39.55L558.68 44.31M552.14 40.17L556.86 45.89M551.36 40.53L555.9 46.66M550.9 40.84L554.23 47.63M550.6 41.49L551.98 48.54M549.8 41.06L550.59 48.57M549.11 41.21L548.34 48.99M548.57 40.96L546.36 48.68M548.2 40.92L545.16 47.97M547.19 41.07L543.71 47.55M547.01 40.36L542.42 46.36M546.31 40.25L541.17 45.58M545.86 39.45L539.55 43.65M545.74 38.9L538.93 42.42M545.42 38.32L538.18 39.95M545.67 37.65L538.04 38.76M545.68 37.11L538.07 36.04M545.37 36.46L538.19 34.17M546.04 35.85L539.29 32.08M546.24 35.5L539.26 31.63M546.56 34.87L540.64 30.05M546.65 34.28L541.74 28.8M547.41 34.02L544.1 27.06M547.94 33.73L545.12 26.92M548.63 33.08L548.01 25.91M549.27 33.34L548.79 26.21M550.04 33.25L551.22 25.98M550.4 33.77L552.56 26.33M551.37 33.65L555.02 27.55M551.88 34.1L556.58 28.36M552.34 34.25L557.6 29.35M552.69 34.68L558.09 29.85M552.62 35.6L559.22 31.74M553.14 36.07L560.15 32.95M553.61 36.72L560.79 35.03" fill="none" stroke="#111214" stroke-opacity="0.95" stroke-width="0.58"/>
<path d="M557.2 37.87L560.95 38.1M557.57 39.1L560.2 39.67M557.16 40.79L560.17 42.04M555.62 41.18L559.34 43.46M555.11 42.38L558.16 45.03M554.82 43.79L556.35 46.17M552.89 44.06L554.09 47.31M551.76 44.92L553.56 48.14M551.1 45.45L552.09 48.66M549.83 45.55L549.29 48.96M548.37 44.82L548.51 48.82M546.95 45.12L546.65 48.34M545.79 44.7L543.98 47.85M544.19 43.96L541.98 46.2M543.75 43.8L541.94 45.96M542.95 42.61L540.06 44.65M542.58 40.81L539.57 42.53M541.35 39.66L538.17 40.52M541.45 38.57L538.24 39.05M541.97 37.05L538.22 36.87M541.52 36L538.23 35.43M541.76 35.2L538.49 34.31M542.59 33.64L539.82 31.95M542.62 32.07L540.51 30.2M544.29 31.91L541.62 29.17M544.41 30.5L542.13 28M545.97 30.45L545.13 27.08M547.19 29.59L545.8 26.47M548.62 29.62L549.14 26.19M549.62 29.84L548.87 26.22M551.42 29.07L551.3 26.12M552.06 29.42L552.91 26.35M553.67 30.13L555.24 27.67M554.32 31.92L557.56 28.72M555.18 32.51L558.15 30.09M555.75 32.5L558.6 30.31M556.75 33.99L559.51 32.6M556.48 35.56L560.27 34.51M557.32 36.81L560.62 36.56" fill="none" stroke="#1a1c1e" stroke-opacity="0.85" stroke-width="0.46"/>
<circle cx="549.4" cy="37.4" r="12.15" fill="none" stroke="#6c7074" stroke-width="0.6" stroke-dasharray="0.6 0.55"/>
<circle cx="549.4" cy="37.4" r="3.25" fill="none" stroke="#55595d" stroke-width="0.6" stroke-dasharray="0.5 0.4"/>
<path d="M557.89 28.91L559.79 27.01" stroke="#5a3c22" stroke-width="0.8"/>
<circle cx="559.97" cy="26.83" r="0.9" fill="#a95c19"/>
<path d="M543.4 47.79L542.05 50.13" stroke="#5a3c22" stroke-width="0.8"/>
<circle cx="541.92" cy="50.35" r="0.9" fill="#a95c19"/>
<circle cx="576.5" cy="23.2" r="6.53" fill="none" stroke="#e9edf0" stroke-width="8.15"/>
<circle cx="576.5" cy="23.2" r="6.53" fill="none" stroke="url(#lp)" stroke-opacity="0.45" stroke-width="7.75"/>
<path d="M580.24 23.25L586.17 22.83M579.91 23.93L585.96 25M580.14 24.71L585.49 26.5M579.66 25.37L584.82 28.27M579.32 25.6L583.95 29.48M578.44 25.94L581.81 31.15M577.77 26.12L580.6 32.01M577.5 26.51L578.91 32.56M576.6 26.53L576.24 32.81M576.12 26.73L574.99 32.65M575.47 26.31L573.63 32.39M574.56 26.29L571.17 30.89M574.09 26.22L570.96 30.88M573.94 25.35L568.71 29.02M573.39 24.97L568.14 27.49M572.67 24.09L566.92 24.91M573.13 23.67L567.2 24.24M572.62 22.85L567.24 21.89M573.04 22.07L567.34 20.13M573.4 21.51L568.17 18.54M573.82 21.27L568.75 17.23M574.2 20.23L570.93 15.18M574.81 20.31L571.21 15.19M575.41 19.74L574.04 13.98M575.73 19.33L574.53 13.86M576.49 19.82L576.24 13.6M577.16 19.7L578.69 13.72M578.21 19.91L580.89 14.51M578.44 20.27L582.02 15.26M578.93 20.67L583.18 16.28M579.38 21.29L584.6 18.39M579.9 21.69L585.18 19.11M579.72 22.44L585.66 20.74" fill="none" stroke="#111214" stroke-opacity="0.95" stroke-width="0.58"/>
<path d="M582.95 24.08L585.72 24.45M582.35 25.1L585.39 26.18M582.93 26.26L585.32 27.36M581.85 28.09L583.02 29.46M581.15 27.56L583.71 29.68M580.18 29.12L581.56 31.51M578.44 29.79L579.02 32.57M577.81 30.25L577.71 32.83M576.34 29.7L576.22 32.48M575.51 29.54L575.29 32.57M573.84 29.03L572.67 31.58M572.6 27.96L570.77 30.53M571.49 28.5L569.88 30.05M570.98 26.67L568.72 28.24M570.19 26.18L568.17 27.25M570.02 23.8L567.04 24.07M569.31 23.32L566.95 23.36M569.52 22.06L566.82 21.64M570.56 20.8L567.72 19.68M571.13 19.41L568.9 17.85M571.45 19.19L569.26 17.26M572.97 16.95L571.59 14.92M573.88 17.16L572.83 14.38M575.28 16.56L575.27 13.83M575.98 16.42L575.97 13.74M577.33 16.57L577.85 13.73M578.42 16.47L579.58 13.84M579.91 17.86L581.85 15.24M581.18 17.87L582.25 16.16M581.82 18.52L584.06 16.93M582.63 19.98L585.35 18.69M582.87 21.26L585.33 20.46M583.59 22.19L585.74 21.86" fill="none" stroke="#1a1c1e" stroke-opacity="0.85" stroke-width="0.46"/>
<circle cx="576.5" cy="23.2" r="10.25" fill="none" stroke="#6c7074" stroke-width="0.6" stroke-dasharray="0.6 0.55"/>
<circle cx="576.5" cy="23.2" r="2.75" fill="none" stroke="#55595d" stroke-width="0.6" stroke-dasharray="0.5 0.4"/>
<path d="M574.75 13.25L574.28 10.59" stroke="#5a3c22" stroke-width="0.8"/>
<circle cx="574.23" cy="10.35" r="0.9" fill="#a95c19"/>
<rect x="608.5" y="55.1" width="69.8" height="11" fill="#f2f4f5" fill-opacity="0.9"/>
<rect x="608.5" y="56.8" width="69.8" height="7.6" fill="url(#lp)" fill-opacity="0.32"/>
<path d="M609 56.9L609.27 60.47M608.82 64.3L608.8 60.73M610.07 56.9L610.14 60.44M609.9 64.3L609.98 60.85M611.37 56.9L611.06 60.52M611.13 64.3L610.8 61.08M612.62 56.9L612.86 60.74M612.48 64.3L612.16 60.73M613.72 56.9L613.85 60.55M613.8 64.3L613.87 61.03M614.83 56.9L614.8 60.75M614.88 64.3L614.6 60.64M615.99 56.9L615.9 60.34M615.69 64.3L615.72 60.63M617.08 56.9L617.22 60.42M616.92 64.3L616.94 60.96M618.31 56.9L618.04 60.5M618.47 64.3L618.81 60.79M619.57 56.9L619.87 60.23M619.91 64.3L619.99 60.65M620.78 56.9L621.12 60.1M620.67 64.3L620.72 60.82M622.02 56.9L622.01 60.49M621.79 64.3L621.94 61.18M623.07 56.9L622.73 60.09M623.15 64.3L623.4 61.04M624.42 56.9L624.36 60.45M624.3 64.3L624.4 60.41M625.53 56.9L625.37 60.25M625.73 64.3L625.73 60.66M626.58 56.9L626.71 60.58M626.47 64.3L626.55 60.42M627.68 56.9L627.56 60.54M627.57 64.3L627.86 61.04M628.93 56.9L628.91 60.71M629.01 64.3L629.04 60.67M630.21 56.9L630.15 60.67M630.38 64.3L630.24 60.98M631.36 56.9L631.38 60.55M631.15 64.3L631.36 61.11M632.51 56.9L632.84 60.02M632.36 64.3L632.7 60.9M633.81 56.9L633.86 60.48M633.74 64.3L633.99 61M635.08 56.9L634.95 60.33M634.75 64.3L634.75 60.59M636.26 56.9L636.58 60.24M636.06 64.3L635.79 61.03M637.54 56.9L637.83 60.02M637.51 64.3L637.49 60.8M638.65 56.9L638.95 60.42M638.81 64.3L639.01 60.51M639.96 56.9L640.19 60.54M640.27 64.3L640.01 60.98M641.15 56.9L641.3 60M641.17 64.3L641.47 60.95M642.38 56.9L642.09 60.04M642.36 64.3L642.37 60.93M643.52 56.9L643.58 60.71M643.39 64.3L643.27 60.55M644.66 56.9L644.53 60.09M644.61 64.3L644.37 60.62M645.71 56.9L645.8 60.17M645.72 64.3L645.62 60.65M646.8 56.9L646.95 60.2M646.65 64.3L646.35 60.89M647.95 56.9L647.92 60.38M647.7 64.3L647.82 60.48M649.02 56.9L648.97 60.48M648.8 64.3L648.86 61.07M650.28 56.9L650.36 60.65M650.15 64.3L650.3 60.94M651.49 56.9L651.82 60.37M651.67 64.3L651.41 61.05M652.82 56.9L652.79 60.55M652.79 64.3L652.93 60.77M653.94 56.9L653.74 60.49M654.19 64.3L654.48 60.71M655.2 56.9L655.31 60.71M655.4 64.3L655.37 60.42M656.39 56.9L656.28 60.14M656.36 64.3L656.55 60.88M657.48 56.9L657.2 60.64M657.7 64.3L657.58 60.92M658.76 56.9L658.79 60.33M658.69 64.3L658.78 60.84M660.11 56.9L660.03 60.65M660 64.3L660.06 61.03M661.29 56.9L661.49 60.19M661.32 64.3L661.43 60.46M662.62 56.9L662.67 60.47M662.61 64.3L662.58 60.84M663.91 56.9L663.69 60.06M664.23 64.3L663.96 61.05M665.19 56.9L665.11 60.53M665.19 64.3L664.9 61.05M666.51 56.9L666.79 60M666.61 64.3L666.36 60.52M667.72 56.9L667.64 60.16M667.77 64.3L667.9 60.65M668.94 56.9L669.23 60.75M668.8 64.3L668.76 61.19M670.09 56.9L669.81 60.79M669.75 64.3L669.68 60.5M671.23 56.9L671.14 60.04M671.27 64.3L671.41 61.06M672.39 56.9L672.64 60.19M672.65 64.3L672.79 60.72M673.54 56.9L673.45 60.44M673.45 64.3L673.57 60.78M674.64 56.9L674.56 60.67M674.94 64.3L674.7 61.2M675.89 56.9L675.64 60.01M675.59 64.3L675.75 60.79M677.07 56.9L677.42 60.51M676.78 64.3L676.72 60.76" fill="none" stroke="#101214" stroke-opacity="0.9" stroke-width="0.5"/>
<path d="M610.58 55.9a0.88 0.88 0 1 0 -1.76 0a0.88 0.88 0 1 0 1.76 0M612.98 56.08a0.88 0.88 0 1 0 -1.76 0a0.88 0.88 0 1 0 1.76 0M615.38 55.85a0.88 0.88 0 1 0 -1.76 0a0.88 0.88 0 1 0 1.76 0M617.78 55.73a0.88 0.88 0 1 0 -1.76 0a0.88 0.88 0 1 0 1.76 0M620.18 55.99a0.88 0.88 0 1 0 -1.76 0a0.88 0.88 0 1 0 1.76 0M622.58 56.04a0.88 0.88 0 1 0 -1.76 0a0.88 0.88 0 1 0 1.76 0M624.98 55.77a0.88 0.88 0 1 0 -1.76 0a0.88 0.88 0 1 0 1.76 0M627.38 55.79a0.88 0.88 0 1 0 -1.76 0a0.88 0.88 0 1 0 1.76 0M629.78 56.05a0.88 0.88 0 1 0 -1.76 0a0.88 0.88 0 1 0 1.76 0M632.18 55.97a0.88 0.88 0 1 0 -1.76 0a0.88 0.88 0 1 0 1.76 0M634.58 55.73a0.88 0.88 0 1 0 -1.76 0a0.88 0.88 0 1 0 1.76 0M636.98 55.87a0.88 0.88 0 1 0 -1.76 0a0.88 0.88 0 1 0 1.76 0M639.38 56.08a0.88 0.88 0 1 0 -1.76 0a0.88 0.88 0 1 0 1.76 0M641.78 55.88a0.88 0.88 0 1 0 -1.76 0a0.88 0.88 0 1 0 1.76 0M644.18 55.73a0.88 0.88 0 1 0 -1.76 0a0.88 0.88 0 1 0 1.76 0M646.58 55.96a0.88 0.88 0 1 0 -1.76 0a0.88 0.88 0 1 0 1.76 0M648.98 56.06a0.88 0.88 0 1 0 -1.76 0a0.88 0.88 0 1 0 1.76 0M651.38 55.79a0.88 0.88 0 1 0 -1.76 0a0.88 0.88 0 1 0 1.76 0M653.78 55.77a0.88 0.88 0 1 0 -1.76 0a0.88 0.88 0 1 0 1.76 0M656.18 56.04a0.88 0.88 0 1 0 -1.76 0a0.88 0.88 0 1 0 1.76 0M658.58 56a0.88 0.88 0 1 0 -1.76 0a0.88 0.88 0 1 0 1.76 0M660.98 55.74a0.88 0.88 0 1 0 -1.76 0a0.88 0.88 0 1 0 1.76 0M663.38 55.85a0.88 0.88 0 1 0 -1.76 0a0.88 0.88 0 1 0 1.76 0M665.78 56.08a0.88 0.88 0 1 0 -1.76 0a0.88 0.88 0 1 0 1.76 0M668.18 55.91a0.88 0.88 0 1 0 -1.76 0a0.88 0.88 0 1 0 1.76 0M670.58 55.72a0.88 0.88 0 1 0 -1.76 0a0.88 0.88 0 1 0 1.76 0M672.98 55.94a0.88 0.88 0 1 0 -1.76 0a0.88 0.88 0 1 0 1.76 0M675.38 56.07a0.88 0.88 0 1 0 -1.76 0a0.88 0.88 0 1 0 1.76 0M677.78 55.82a0.88 0.88 0 1 0 -1.76 0a0.88 0.88 0 1 0 1.76 0M610.58 65.3a0.88 0.88 0 1 0 -1.76 0a0.88 0.88 0 1 0 1.76 0M612.98 65.48a0.88 0.88 0 1 0 -1.76 0a0.88 0.88 0 1 0 1.76 0M615.38 65.25a0.88 0.88 0 1 0 -1.76 0a0.88 0.88 0 1 0 1.76 0M617.78 65.13a0.88 0.88 0 1 0 -1.76 0a0.88 0.88 0 1 0 1.76 0M620.18 65.39a0.88 0.88 0 1 0 -1.76 0a0.88 0.88 0 1 0 1.76 0M622.58 65.44a0.88 0.88 0 1 0 -1.76 0a0.88 0.88 0 1 0 1.76 0M624.98 65.17a0.88 0.88 0 1 0 -1.76 0a0.88 0.88 0 1 0 1.76 0M627.38 65.19a0.88 0.88 0 1 0 -1.76 0a0.88 0.88 0 1 0 1.76 0M629.78 65.45a0.88 0.88 0 1 0 -1.76 0a0.88 0.88 0 1 0 1.76 0M632.18 65.37a0.88 0.88 0 1 0 -1.76 0a0.88 0.88 0 1 0 1.76 0M634.58 65.13a0.88 0.88 0 1 0 -1.76 0a0.88 0.88 0 1 0 1.76 0M636.98 65.27a0.88 0.88 0 1 0 -1.76 0a0.88 0.88 0 1 0 1.76 0M639.38 65.48a0.88 0.88 0 1 0 -1.76 0a0.88 0.88 0 1 0 1.76 0M641.78 65.28a0.88 0.88 0 1 0 -1.76 0a0.88 0.88 0 1 0 1.76 0M644.18 65.13a0.88 0.88 0 1 0 -1.76 0a0.88 0.88 0 1 0 1.76 0M646.58 65.36a0.88 0.88 0 1 0 -1.76 0a0.88 0.88 0 1 0 1.76 0M648.98 65.46a0.88 0.88 0 1 0 -1.76 0a0.88 0.88 0 1 0 1.76 0M651.38 65.19a0.88 0.88 0 1 0 -1.76 0a0.88 0.88 0 1 0 1.76 0M653.78 65.17a0.88 0.88 0 1 0 -1.76 0a0.88 0.88 0 1 0 1.76 0M656.18 65.44a0.88 0.88 0 1 0 -1.76 0a0.88 0.88 0 1 0 1.76 0M658.58 65.4a0.88 0.88 0 1 0 -1.76 0a0.88 0.88 0 1 0 1.76 0M660.98 65.14a0.88 0.88 0 1 0 -1.76 0a0.88 0.88 0 1 0 1.76 0M663.38 65.25a0.88 0.88 0 1 0 -1.76 0a0.88 0.88 0 1 0 1.76 0M665.78 65.48a0.88 0.88 0 1 0 -1.76 0a0.88 0.88 0 1 0 1.76 0M668.18 65.31a0.88 0.88 0 1 0 -1.76 0a0.88 0.88 0 1 0 1.76 0M670.58 65.12a0.88 0.88 0 1 0 -1.76 0a0.88 0.88 0 1 0 1.76 0M672.98 65.34a0.88 0.88 0 1 0 -1.76 0a0.88 0.88 0 1 0 1.76 0M675.38 65.47a0.88 0.88 0 1 0 -1.76 0a0.88 0.88 0 1 0 1.76 0M677.78 65.22a0.88 0.88 0 1 0 -1.76 0a0.88 0.88 0 1 0 1.76 0" fill="#f8f9fa" stroke="#3c4044" stroke-width="0.48"/>
<path d="M612 67.4h2.4M626.8 67.4h2.4M641.6 67.4h2.4M656.4 67.4h2.4M671.2 67.4h2.4" fill="none" stroke="#9aa1a7" stroke-width="0.9"/>
<path d="M612.2 56L613.21 53.5" stroke="#5a3c22" stroke-width="0.8"/>
<circle cx="613.31" cy="53.26" r="0.9" fill="#a95c19"/>
<path d="M639.9 56L640.91 53.5" stroke="#5a3c22" stroke-width="0.8"/>
<circle cx="641.01" cy="53.26" r="0.9" fill="#a95c19"/>
<path d="M649.4 56L650.41 53.5" stroke="#5a3c22" stroke-width="0.8"/>
<circle cx="650.51" cy="53.26" r="0.9" fill="#a95c19"/>
<path d="M668 56L669.01 53.5" stroke="#5a3c22" stroke-width="0.8"/>
<circle cx="669.11" cy="53.26" r="0.9" fill="#a95c19"/>
</g>
<path d="M621.6 10.1L623.2 6.8" stroke="#4a3420" stroke-width="0.9"/><circle cx="623.6" cy="5.8" r="1.35" fill="#d4781a"/><circle cx="622.6" cy="7.4" r="0.8" fill="#b86818"/>
<text x="629.8" y="9.7" font-size="8.1" text-anchor="start" fill="#f28e20">Biotin</text>
<path d="M614.3 23.5L615.76 25L617.22 22L618.69 25L620.15 22L621.61 25L623.07 22L624.54 25L626 23.5" fill="none" stroke="#e8242c" stroke-width="1.1" stroke-linejoin="round"/>
<text x="629.8" y="26.2" font-size="8.45" text-anchor="start" fill="#ed1c2e">AH Peptide</text>
</g>
<g id="panelB">
<text x="0.3" y="111.1" font-size="10.8" text-anchor="start" fill="#000" font-weight="bold">B</text>
<rect x="40.6" y="110.7" width="285.3" height="125.6" fill="none" stroke="#6e6e6e" stroke-width="1.05"/>
<path d="M42.4 236.3v3.4M97.92 236.3v3.4M153.44 236.3v3.4M208.96 236.3v3.4M264.48 236.3v3.4M320 236.3v3.4M40.7 234.7h-4M40.7 214.26h-4M40.7 193.82h-4M40.7 173.38h-4M40.7 152.94h-4M40.7 132.5h-4M53.5 236.3v1.6M64.61 236.3v1.6M75.71 236.3v1.6M86.82 236.3v1.6M109.02 236.3v1.6M120.13 236.3v1.6M131.23 236.3v1.6M142.34 236.3v1.6M164.54 236.3v1.6M175.65 236.3v1.6M186.75 236.3v1.6M197.86 236.3v1.6M220.06 236.3v1.6M231.17 236.3v1.6M242.27 236.3v1.6M253.38 236.3v1.6M275.58 236.3v1.6M286.69 236.3v1.6M297.79 236.3v1.6M308.9 236.3v1.6" stroke="#222" stroke-width="0.95" fill="none"/>
<text x="42.4" y="248" font-size="9" text-anchor="middle" fill="#000">0</text>
<text x="97.92" y="248" font-size="9" text-anchor="middle" fill="#000">100</text>
<text x="153.44" y="248" font-size="9" text-anchor="middle" fill="#000">200</text>
<text x="208.96" y="248" font-size="9" text-anchor="middle" fill="#000">300</text>
<text x="264.48" y="248" font-size="9" text-anchor="middle" fill="#000">400</text>
<text x="320" y="248" font-size="9" text-anchor="middle" fill="#000">500</text>
<text x="34.8" y="237.9" font-size="9" text-anchor="end" fill="#000">0</text>
<text x="34.8" y="217.46" font-size="9" text-anchor="end" fill="#000">5</text>
<text x="34.8" y="197.02" font-size="9" text-anchor="end" fill="#000">10</text>
<text x="34.8" y="176.58" font-size="9" text-anchor="end" fill="#000">15</text>
<text x="34.8" y="156.14" font-size="9" text-anchor="end" fill="#000">20</text>
<text x="34.8" y="135.7" font-size="9" text-anchor="end" fill="#000">25</text>
<text x="159.3" y="257.8" font-size="9.8" fill="#000">D<tspan font-size="5.6" dy="2.6">h</tspan><tspan dy="-2.6"> (nm)</tspan></text>
<text transform="translate(14.4,175.2) rotate(-90)" font-size="9.8" text-anchor="middle" fill="#000">Intensity</text>
<path d="M42.4 234.7L55.95 234.7L58.06 234.7L60.56 234.7L63.39 234.7L66.72 234.7L70.55 234.7L75.05 234.7L80.21 234.29L86.15 232.25L93.09 227.34L101.08 224.07L110.36 224.89L121.13 228.57L133.56 231.02L147.94 231.84L164.66 232.25L183.98 232.66L206.35 233.06L232.28 233.68L262.31 234.29L297.07 234.7L322.78 234.7" fill="none" stroke="#f5a545" stroke-width="0.9" stroke-linejoin="round" stroke-opacity="1"/>
<path d="M42.4 234.7L55.95 234.7L58.06 234.7L60.56 234.7L63.39 234.7L66.72 234.7L70.55 234.7L75.05 234.7L80.21 234.7L86.15 234.29L93.09 233.06L101.08 231.02L110.36 228.98L121.13 226.93L133.56 225.71L147.94 225.3L164.66 226.12L183.98 227.75L206.35 229.79L232.28 231.84L262.31 233.47L297.07 234.29L322.78 234.7" fill="none" stroke="#f5a545" stroke-width="0.9" stroke-linejoin="round" stroke-opacity="1"/>
<path d="M42.4 234.7L55.95 234.7L58.06 234.7L60.56 234.7L63.39 234.7L66.72 234.7L70.55 234.7L75.05 234.7L80.21 234.7L86.15 234.7L93.09 234.29L101.08 233.47L110.36 232.66L121.13 231.43L133.56 230.2L147.94 229.18L164.66 228.57L183.98 228.57L206.35 229.39L232.28 231.02L262.31 232.66L297.07 233.88L322.78 234.7" fill="none" stroke="#f5a545" stroke-width="0.9" stroke-linejoin="round" stroke-opacity="1"/>
<path d="M42.4 234.7L55.95 234.7L58.06 234.7L60.56 234.7L63.39 234.7L66.72 234.7L70.55 234.7L75.05 234.7L80.21 234.7L86.15 233.47L93.09 225.3L101.08 208.54L110.36 190.55L121.13 175.83L133.56 168.88L147.94 166.84L164.66 170.93L183.98 181.96L206.35 193L232.28 207.72L262.31 219.57L297.07 229.39L322.78 233.88" fill="none" stroke="#3db57a" stroke-width="1.05" stroke-linejoin="round" stroke-opacity="1"/>
<path d="M42.4 234.7L55.95 234.7L58.06 234.7L60.56 234.7L63.39 234.7L66.72 234.7L70.55 234.7L75.05 234.7L80.21 234.7L86.15 233.88L93.09 226.52L101.08 210.17L110.36 193L121.13 179.92L133.56 171.74L147.94 169.29L164.66 172.56L183.98 184.01L206.35 195.46L232.28 210.58L262.31 222.03L297.07 230.61L322.78 233.88" fill="none" stroke="#3db57a" stroke-width="1.05" stroke-linejoin="round" stroke-opacity="1"/>
<path d="M42.4 234.7L55.95 234.7L58.06 234.7L60.56 234.7L63.39 234.7L66.72 234.7L70.55 234.7L75.05 234.7L80.21 234.7L86.15 234.29L93.09 227.75L101.08 212.22L110.36 196.27L121.13 184.01L133.56 174.61L147.94 172.15L164.66 173.79L183.98 185.24L206.35 197.5L232.28 213.44L262.31 224.07L297.07 231.43L322.78 234.29" fill="none" stroke="#3db57a" stroke-width="1.05" stroke-linejoin="round" stroke-opacity="1"/>
<path d="M42.4 234.7L55.95 234.7L58.06 234.7L60.56 234.7L63.39 234.7L66.72 234.7L70.55 234.7L75.05 234.7L80.21 234.7L86.15 228.57L93.09 206.49L101.08 182.37L110.36 163.57L121.13 153.35L133.56 157.44L147.94 170.93L164.66 191.37L183.98 217.12L206.35 228.16L232.28 233.47L262.31 234.7L297.07 234.7L322.78 234.7" fill="none" stroke="#27b3b6" stroke-width="1.05" stroke-linejoin="round" stroke-opacity="1"/>
<path d="M42.4 234.7L55.95 234.7L58.06 234.7L60.56 234.7L63.39 234.7L66.72 234.7L70.55 234.7L75.05 234.7L80.21 234.7L86.15 229.79L93.09 208.54L101.08 184.42L110.36 164.8L121.13 157.03L133.56 160.3L147.94 173.38L164.66 193L183.98 218.76L206.35 228.98L232.28 233.47L262.31 234.7L297.07 234.7L322.78 234.7" fill="none" stroke="#27b3b6" stroke-width="1.05" stroke-linejoin="round" stroke-opacity="1"/>
<path d="M42.4 234.7L55.95 234.7L58.06 234.7L60.56 234.7L63.39 234.7L66.72 234.7L70.55 234.7L75.05 234.7L80.21 234.7L86.15 231.02L93.09 210.58L101.08 186.46L110.36 166.02L121.13 159.48L133.56 163.16L147.94 175.83L164.66 194.64L183.98 219.98L206.35 229.79L232.28 233.88L262.31 234.7L297.07 234.7L322.78 234.7" fill="none" stroke="#27b3b6" stroke-width="1.05" stroke-linejoin="round" stroke-opacity="1"/>
<path d="M42.4 234.7L55.95 234.7L58.06 234.7L60.56 234.7L63.39 234.7L66.72 233.47L70.55 202.81L75.05 168.47L80.21 148.03L86.15 138.63L93.09 154.58L101.08 179.92L110.36 209.35L121.13 227.34L133.56 233.47L147.94 234.7L164.66 234.7L183.98 234.7L206.35 234.7L232.28 234.7L262.31 234.7L297.07 234.7L322.78 234.7" fill="none" stroke="#4a8fd6" stroke-width="1.05" stroke-linejoin="round" stroke-opacity="1"/>
<path d="M42.4 234.7L55.95 234.7L58.06 234.7L60.56 234.7L63.39 234.7L66.72 233.47L70.55 204.86L75.05 171.74L80.21 150.9L86.15 143.95L93.09 156.62L101.08 182.37L110.36 212.62L121.13 229.39L133.56 233.88L147.94 234.7L164.66 234.7L183.98 234.7L206.35 234.7L232.28 234.7L262.31 234.7L297.07 234.7L322.78 234.7" fill="none" stroke="#4a8fd6" stroke-width="1.05" stroke-linejoin="round" stroke-opacity="1"/>
<path d="M42.4 234.7L55.95 234.7L58.06 234.7L60.56 234.7L63.39 234.7L66.72 233.88L70.55 206.08L75.05 173.38L80.21 152.12L86.15 145.17L93.09 157.85L101.08 184.42L110.36 215.49L121.13 231.02L133.56 234.29L147.94 234.7L164.66 234.7L183.98 234.7L206.35 234.7L232.28 234.7L262.31 234.7L297.07 234.7L322.78 234.7" fill="none" stroke="#4a8fd6" stroke-width="1.05" stroke-linejoin="round" stroke-opacity="1"/>
<path d="M42.4 234.7L55.95 234.7L58.06 234.7L60.56 224.07L63.39 204.04L66.72 184.01L70.55 168.07L75.05 161.52L80.21 165.61L86.15 179.51L93.09 199.13L101.08 219.17L110.36 229.79L121.13 233.47L133.56 234.7L147.94 234.7L164.66 234.7L183.98 234.7L206.35 234.7L232.28 234.7L262.31 234.7L297.07 234.7L322.78 234.7" fill="none" stroke="#3f46a6" stroke-width="1.6" stroke-linejoin="round" stroke-opacity="1"/>
<path d="M42.4 234.8H318.33" stroke="#8f7868" stroke-width="1.3" fill="none"/>
<path d="M318.33 234.8H322.78" stroke="#3f6fd0" stroke-width="1.3" fill="none"/>
<text x="60.4" y="162.8" font-size="8.4" text-anchor="middle" fill="#8287cb">30 nm</text>
<text x="85.2" y="134.7" font-size="8.4" text-anchor="middle" fill="#7fb0e2">50 nm</text>
<text x="124.8" y="148.6" font-size="8.4" text-anchor="middle" fill="#5cc6c8">100 nm</text>
<text x="174.3" y="166.8" font-size="8.4" text-anchor="middle" fill="#6cc79a">200 nm</text>
<text x="148" y="221" font-size="8.4" text-anchor="middle" fill="#f7b260">Sonicated</text>
<rect x="222.5" y="118.4" width="94" height="52.6" fill="#fff" stroke="#111" stroke-width="1.25"/>
<path d="M223.4 171v2.6M268.8 171v2.6M314.2 171v2.6M222.4 170h-2.6M222.4 147.55h-2.6M222.4 125.1h-2.6M238.53 171v1.4M253.67 171v1.4M283.93 171v1.4M299.07 171v1.4M222.4 158.78h-1.4M222.4 136.32h-1.4" stroke="#000" stroke-width="0.8" fill="none"/>
<text x="223.4" y="182" font-size="9" text-anchor="middle" fill="#000">0</text>
<text x="268.8" y="182" font-size="9" text-anchor="middle" fill="#000">3</text>
<text x="314.2" y="182" font-size="9" text-anchor="middle" fill="#000">6</text>
<text x="218.3" y="173.2" font-size="9" text-anchor="end" fill="#000">0</text>
<text x="218.3" y="150.75" font-size="9" text-anchor="end" fill="#000">10</text>
<text x="218.3" y="128.3" font-size="9" text-anchor="end" fill="#000">20</text>
<text x="255.5" y="190.2" font-size="9.8" fill="#000">D<tspan font-size="5.6" dy="2.4">h</tspan><tspan dy="-2.4">(µm)</tspan></text>
<text x="269.5" y="127.5" font-size="8.4" text-anchor="middle" fill="#f5a545">Sonicated</text>
<path d="M223.4 170L224.46 166.63L225.06 164.16L225.82 165.73L226.73 168.2L227.94 169.55L230.21 170L235.51 170L237.02 169.33L240.5 162.82L244.74 150.24L248.98 139.92L251.4 137.22L253.67 136.55L256.69 137.45L259.57 139.92L265.92 148.45L272.73 156.98L279.54 162.82L286.35 167.08L294.83 169.55L303.3 170L314.2 170" fill="none" stroke="#f5a545" stroke-width="0.8" stroke-linejoin="round"/>
<path d="M223.4 170L224.31 167.75L225.22 165.06L226.43 164.61L227.49 166.86L228.85 169.1L230.97 170L240.05 170L243.07 168.43L246.1 164.16L250.64 155.41L255.18 146.2L260.48 137.45L265.77 132.73L271.07 132.06L276.37 134.98L282.42 141.04L289.99 149.35L297.55 156.75L305.12 162.59L314.2 167.75" fill="none" stroke="#f5a545" stroke-width="0.8" stroke-linejoin="round"/>
<path d="M223.4 170L224.61 168.2L225.67 165.96L227.18 166.41L228.7 168.43L230.97 169.78L237.02 170L240.05 168.88L243.07 165.51L247.61 158.33L252.15 150.69L258.21 143.51L264.26 139.47L270.31 138.12L276.37 139.47L282.42 143.06L289.99 149.12L297.55 155.18L305.12 160.57L314.2 165.51" fill="none" stroke="#f5a545" stroke-width="0.8" stroke-linejoin="round"/>
</g>
<g id="panelD">
<text x="362.1" y="111.7" font-size="10.8" text-anchor="start" fill="#000" font-weight="bold">D</text>
<rect x="400.7" y="111.8" width="10.3" height="10" fill="#bfe3f3"/>
<rect x="411" y="111.8" width="267.5" height="10" fill="#2aabe0"/>
<path d="M411.7 221.4L482.4 127" stroke="#333" stroke-width="0.6" fill="none"/><path d="M425 235L610.9 198.3" stroke="#2a2a2a" stroke-width="0.6" fill="none"/>
<path d="M410.9 123V236" stroke="#7fcdee" stroke-width="1.4" stroke-dasharray="2.7 2.8" fill="none"/>
<path d="M401.53 236.3L401.53 236.06L401.94 235.67L402.35 234.89L402.77 233.44L403.18 230.55L403.59 225.73L404.01 217.79L404.42 206.17L404.83 193.44L405.25 176.39L405.66 152.37L406.07 136.59L406.49 119.03L406.9 118.25L407.31 113.89L407.73 119.4L408.14 138.23L408.55 151.66L408.97 172.05L409.38 193.66L409.79 207.97L410.21 217.95L410.62 225.32L411.03 230.6L411.45 233.45L411.86 234.93L412.28 235.71L412.69 236.05L413.1 236.2L413.52 236.27L413.93 236.29L414.34 236.3L414.76 236.3L415.17 236.3L415.58 236.3L416 236.3L416.41 236.3L416.82 236.3L417.24 236.3L417.24 236.3Z" fill="#d2d2d2" stroke="#6e6e6e" stroke-width="0.6" stroke-linejoin="round"/>
<path d="M401.53 236.3L401.53 236.19L401.94 235.99L402.35 235.62L402.77 234.69L403.18 232.4L403.59 228.75L404.01 222.88L404.42 215.53L404.83 203.63L405.25 191.53L405.66 180.46L406.07 176.65L406.49 171.03L406.9 174.28L407.31 179.21L407.73 188.79L408.14 201.86L408.55 214.72L408.97 223.35L409.38 229.29L409.79 232.87L410.21 234.71L410.62 235.57L411.03 236.02L411.45 236.2L411.86 236.27L412.28 236.29L412.69 236.3L413.1 236.3L413.52 236.3L413.93 236.3L414.34 236.3L414.76 236.3L415.17 236.3L415.58 236.3L416 236.3L416.41 236.3L416.82 236.3L417.24 236.3L417.24 236.3Z" fill="#a8a8a8" stroke="#666" stroke-width="0.6" stroke-linejoin="round"/>
<path d="M401.53 236.3L401.53 235.2L402.15 234.71L402.77 232.22L403.39 225.77L404.01 212.16L404.63 203.1L405.25 188.03L405.87 189.8L406.49 192.6L407.11 203.4L407.73 215.78L408.35 226.23L408.97 232.23L409.59 229.01L410.21 231.48L410.83 231.3L411.45 229.77L412.07 230.61L412.69 233.1L413.31 231.59L413.93 233.59L414.55 233.69L415.17 232.62L415.79 233.92L416.41 233.55L417.03 233.98L417.65 234.53L418.27 234.43L418.89 235.05L419.51 234.99L420.13 235.11L420.75 235.01L421.37 235.01L421.99 234.83L422.61 234.91L423.23 235.11L423.85 235.26L424.47 233.91L425.09 235.53L425.71 235.52L426.33 235.08L426.95 234.38L427.57 234.93L428.19 235.21L428.81 235.41L429.43 235.43L430.05 235.62L430.67 235.44L431.29 235.5L431.91 235.21L432.53 235.45L433.15 235.13L433.77 235.26L434.39 235.54L435.01 235.56L435.63 235.57L436.25 235.29L436.87 235.61L437.49 235.53L438.11 235.44L438.73 233.68L439.35 235.1L439.97 235.14L440.59 235.2L441.21 235.53L441.83 235.67L442.45 235.23L443.07 235.3L443.69 235.18L444.31 235.27L444.93 235.33L445.55 235.17L446.17 235.57L446.79 235.26L447.41 235.41L448.03 235.26L448.65 233.77L449.27 235.69L449.89 235.42L450.51 234.6L451.13 235.66L451.75 235.24L452.37 235.55L453 235.36L453.62 235.62L454.24 235.42L454.86 235.69L455.48 235.39L456.1 235.29L456.72 235.53L457.34 235.5L457.96 235.6L458.58 235.7L459.2 235.25L459.82 235.24L460.44 235.49L461.06 235.38L461.68 235.38L462.3 235.69L462.92 235.67L463.54 235.7L464.16 233.87L464.78 235.29L465.4 235.23L466.02 235.73L466.64 235.36L467.26 235.25L467.88 235.45L468.5 235.66L469.12 235.35L469.74 235.54L470.36 235.71L470.98 235.54L471.6 235.39L472.22 235.48L472.84 235.28L473.46 235.36L474.08 235.53L474.7 235.62L475.32 235.6L475.94 235.26L476.56 235.55L477.18 235.63L477.8 235.52L478.42 235.58L479.04 235.7L479.66 235.46L480.28 235.34L480.9 235.4L481.52 235.39L482.14 235.66L482.76 235.42L483.38 235.65L484 235.68L484.62 235.31L485.24 235.62L485.86 235.74L486.48 235.63L487.1 234.36L487.72 235.53L488.34 235.29L488.96 235.72L489.58 235.73L490.2 235.74L490.82 235.39L491.44 235.44L492.06 235.65L492.68 235.44L493.3 235.54L493.92 235.44L494.54 235.46L495.16 235.34L495.78 235.32L496.4 235.43L497.02 235.46L497.64 235.7L498.26 235.41L498.88 235.61L499.5 235.35L500.12 235.67L500.74 235.63L501.36 235.41L501.98 235.74L502.6 235.74L503.22 235.71L503.84 235.43L504.46 235.5L505.08 235.7L505.7 235.7L506.32 235.79L506.94 235.33L507.56 235.51L508.18 235.46L508.8 235.56L509.42 235.8L510.04 235.56L510.66 235.71L511.28 235.56L511.9 235.53L512.52 235.74L513.14 235.78L513.76 235.77L514.39 235.65L515.01 235.74L515.63 235.35L516.25 235.64L516.87 235.39L517.49 235.57L518.11 235.77L518.73 235.57L519.35 235.6L519.97 235.58L520.59 235.72L521.21 235.63L521.83 235.52L522.45 235.71L523.07 235.59L523.69 235.73L524.31 235.8L524.93 235.58L525.55 235.6L526.17 235.79L526.79 235.8L527.41 235.77L528.03 235.52L528.65 235.79L529.27 235.44L529.89 235.67L530.51 235.43L531.13 235.77L531.75 234.89L532.37 235.74L532.99 235.51L533.61 235.35L534.23 235.38L534.85 235.67L535.47 235.78L536.09 235.77L536.71 235.5L537.33 235.47L537.95 235.56L538.57 235.62L539.19 235.59L539.81 235.48L540.43 235.64L541.05 234.23L541.67 235.5L542.29 235.42L542.91 235.41L543.53 235.48L544.15 235.79L544.77 235.78L545.39 235.79L546.01 235.8L546.63 234.63L547.25 235.72L547.87 235.46L548.49 235.58L549.11 235.79L549.73 235.82L550.35 235.41L550.97 235.72L551.59 235.53L552.21 235.67L552.83 235.78L553.45 235.45L554.07 235.61L554.69 235.67L555.31 235.57L555.93 235.53L556.55 235.67L557.17 235.63L557.79 235.75L558.41 235.42L559.03 235.4L559.65 235.39L560.27 235.61L560.89 235.37L561.51 235.4L562.13 235.5L562.75 235.54L563.37 235.71L563.99 235.49L564.61 235.79L565.23 235.8L565.85 235.51L566.47 235.43L567.09 235.69L567.71 235.58L568.33 235.7L568.95 235.46L569.57 234.68L570.19 235.59L570.81 235.74L571.43 235.38L572.05 235.82L572.67 235.64L573.29 235.59L573.91 235.72L574.53 235.72L575.15 235.55L575.77 235.47L576.4 235.49L577.02 235.46L577.64 234.26L578.26 235.42L578.88 235.41L579.5 235.65L580.12 235.76L580.74 235.59L581.36 235.63L581.98 235.4L582.6 235.6L583.22 235.46L583.84 235.83L584.46 235.62L585.08 235.42L585.7 235.67L586.32 235.4L586.94 235.42L587.56 235.46L588.18 235.41L588.8 235.66L589.42 235.73L590.04 235.74L590.66 235.6L591.28 235.55L591.9 235.71L592.52 235.72L593.14 235.59L593.76 235.41L594.38 235.76L595 235.55L595.62 235.5L596.24 235.47L596.86 235.41L597.48 235.8L598.1 235.72L598.72 235.79L599.34 235.81L599.96 235.39L600.58 235.68L601.2 235.52L601.82 235.69L602.44 235.59L603.06 235.64L603.68 235.75L604.3 235.46L604.92 235.46L605.54 235.75L606.16 235.66L606.78 235.84L607.4 235.4L608.02 235.5L608.64 235.65L609.26 235.7L609.88 235.7L610.5 235.4L611.12 235.47L611.74 235.72L612.36 235.52L612.98 235.72L613.6 235.63L614.22 235.4L614.84 235.57L615.46 235.46L616.08 235.46L616.7 235.68L617.32 235.45L617.94 235.53L618.56 235.62L619.18 235.55L619.8 235.78L620.42 235.57L621.04 235.7L621.66 235.61L622.28 235.52L622.9 235.44L623.52 235.79L624.14 235.64L624.76 235.76L625.38 235.81L626 235.85L626.62 235.73L627.24 235.66L627.86 235.65L628.48 235.54L629.1 235.51L629.72 235.85L630.34 235.45L630.96 235.66L631.58 235.76L632.2 235.56L632.82 235.62L633.44 235.75L634.06 235.61L634.68 235.55L635.3 235.72L635.92 235.61L636.54 235.51L637.16 235.52L637.78 235.66L638.41 235.46L639.03 235.43L639.65 235.67L640.27 235.83L640.89 235.47L641.51 235.67L642.13 235.74L642.75 235.7L643.37 235.65L643.99 235.54L644.61 235.58L645.23 235.68L645.85 235.57L646.47 235.5L647.09 235.59L647.71 235.55L648.33 235.41L648.95 235.64L649.57 235.7L650.19 235.8L650.81 235.64L651.43 235.65L652.05 235.48L652.67 235.51L653.29 235.45L653.91 235.41L654.53 234.17L655.15 235.7L655.77 235.74L656.39 235.68L657.01 235.71L657.63 235.68L658.25 235.6L658.87 235.64L659.49 235.78L660.11 235.44L660.73 235.68L661.35 235.71L661.97 235.43L662.59 235.74L663.21 235.6L663.83 235.75L664.45 235.53L665.07 235.54L665.69 235.65L666.31 235.51L666.93 235.73L667.55 235.47L668.17 235.55L668.79 235.74L669.41 235.68L670.03 235.57L670.65 235.63L671.27 235.53L671.89 235.61L672.51 235.76L673.13 235.53L673.75 235.79L674.37 235.59L674.99 235.58L675.61 235.85L676.23 235.68L676.23 236.3Z" fill="#6c6c6c" stroke="#4a4a4a" stroke-width="0.6" stroke-linejoin="round"/>
<text x="418" y="225.6" font-size="8.3" text-anchor="start" fill="#747474">PBS</text>
<rect x="400.4" y="110.9" width="281.4" height="125.4" fill="none" stroke="#555" stroke-width="0.9"/>
<path d="M400.7 236.3v3M469.6 236.3v3M538.5 236.3v3M607.4 236.3v3M676.3 236.3v3M414.48 236.3v1.4M428.26 236.3v1.4M442.04 236.3v1.4M455.82 236.3v1.4M483.38 236.3v1.4M497.16 236.3v1.4M510.94 236.3v1.4M524.72 236.3v1.4M552.28 236.3v1.4M566.06 236.3v1.4M579.84 236.3v1.4M593.62 236.3v1.4M621.18 236.3v1.4M634.96 236.3v1.4M648.74 236.3v1.4M662.52 236.3v1.4" stroke="#333" stroke-width="0.8" fill="none"/>
<text x="400.7" y="248" font-size="8.5" text-anchor="middle" fill="#000">0.00</text>
<text x="469.6" y="248" font-size="8.5" text-anchor="middle" fill="#000">0.05</text>
<text x="538.5" y="248" font-size="8.5" text-anchor="middle" fill="#000">0.10</text>
<text x="607.4" y="248" font-size="8.5" text-anchor="middle" fill="#000">0.15</text>
<text x="676.3" y="248" font-size="8.5" text-anchor="middle" fill="#000">0.20</text>
<text x="537.5" y="257.4" font-size="9.7" text-anchor="middle" fill="#000">Contrast magnitude</text>
<text transform="translate(377.7,174) rotate(-90)" font-size="9.7" text-anchor="middle" fill="#000">Incidences</text>
<rect x="482.4" y="127.0" width="128.5" height="71.3" fill="#fff"/>
<rect x="482.4" y="127.0" width="95.7" height="12.7" fill="#bfe3f3"/>
<rect x="578.1" y="127.0" width="32.8" height="12.7" fill="#2aabe0"/>
<text x="534.2" y="136.2" font-size="8.5" text-anchor="middle" fill="#000">Background</text>
<text x="594.4" y="136.2" font-size="8.5" text-anchor="middle" fill="#000">Signal</text>
<path d="M482.4 198.3L482.4 197.55H483.57L483.57 197.67H484.74L484.74 197.35H485.9L485.9 197.55H487.07L487.07 197.79H488.24L488.24 197.62H489.41L489.41 197.9H490.58L490.58 197.67H491.75L491.75 197.87H492.91L492.91 196.91H494.08L494.08 196.98H495.25L495.25 197.34H496.42L496.42 197.51H497.59L497.59 196.97H498.75L498.75 196.27H499.92L499.92 195.94H501.09L501.09 196.25H502.26L502.26 196.16H503.43L503.43 196.74H504.6L504.6 195.7H505.76L505.76 195.37H506.93L506.93 193.38H508.1L508.1 193.23H509.27L509.27 192.86H510.44L510.44 193.37H511.6L511.6 191.79H512.77L512.77 189.17H513.94L513.94 190.35H515.11L515.11 189H516.28L516.28 185.57H517.45L517.45 188.63H518.61L518.61 182.03H519.78L519.78 182.33H520.95L520.95 179.55H522.12L522.12 180.15H523.29L523.29 175.42H524.45L524.45 177.44H525.62L525.62 172.26H526.79L526.79 170.69H527.96L527.96 169.89H529.13L529.13 169.49H530.3L530.3 158.58H531.46L531.46 156.96H532.63L532.63 150.88H533.8L533.8 156.68H534.97L534.97 146.45H536.14L536.14 146.35H537.3L537.3 154.64H538.47L538.47 144.84H539.64L539.64 157.95H540.81L540.81 145.3H541.98L541.98 145.06H543.15L543.15 155.65H544.31L544.31 153.44H545.48L545.48 160.14H546.65L546.65 145.2H547.82L547.82 150.16H548.99L548.99 158.87H550.15L550.15 156.34H551.32L551.32 166.57H552.49L552.49 155.15H553.66L553.66 157.05H554.83L554.83 165.23H556L556 162.52H557.16L557.16 168.46H558.33L558.33 168.53H559.5L559.5 169.74H560.67L560.67 178.48H561.84L561.84 174.42H563L563 177.96H564.17L564.17 179.64H565.34L565.34 179.78H566.51L566.51 186.14H567.68L567.68 187.04H568.85L568.85 186.85H570.01L570.01 187.38H571.18L571.18 188.63H572.35L572.35 190.04H573.52L573.52 191.91H574.69L574.69 191.17H575.85L575.85 192.85H577.02L577.02 191.7H578.19L578.19 192.43H579.36L579.36 194.55H580.53L580.53 194.29H581.7L581.7 194.63H582.86L582.86 194.9H584.03L584.03 196.39H585.2L585.2 196.08H586.37L586.37 196.11H587.54L587.54 195.95H588.7L588.7 196.85H589.87L589.87 196.29H591.04L591.04 195.49H592.21L592.21 196.16H593.38L593.38 196.47H594.55L594.55 196.08H595.71L595.71 196.93H596.88L596.88 195.79H598.05L598.05 197.58H599.22L599.22 196.19H600.39L600.39 196.89H601.55L601.55 197.73H602.72L602.72 196.93H603.89L603.89 197.04H605.06L605.06 197.37H606.23L606.23 196.97H607.4L607.4 196.46H608.56L608.56 196.42H609.73L609.73 197.36H610.9L610.9 198.3Z" fill="#dedede" stroke="#858585" stroke-width="0.6" stroke-linejoin="round"/>
<path d="M482.4 198.3L482.4 198.04H483.57L483.57 197.42H484.74L484.74 198.02H485.9L485.9 197.83H487.07L487.07 197.89H488.24L488.24 197.8H489.41L489.41 197.2H490.58L490.58 197.16H491.75L491.75 197.99H492.91L492.91 197.4H494.08L494.08 197.8H495.25L495.25 197.31H496.42L496.42 197.02H497.59L497.59 197.2H498.75L498.75 197.09H499.92L499.92 196.59H501.09L501.09 196.72H502.26L502.26 196.67H503.43L503.43 196.45H504.6L504.6 197.08H505.76L505.76 196.61H506.93L506.93 195.81H508.1L508.1 195.88H509.27L509.27 195.4H510.44L510.44 194.95H511.6L511.6 194.72H512.77L512.77 194.3H513.94L513.94 193.36H515.11L515.11 192H516.28L516.28 192.28H517.45L517.45 191.31H518.61L518.61 189.25H519.78L519.78 185.64H520.95L520.95 188.2H522.12L522.12 183.13H523.29L523.29 183.97H524.45L524.45 184.5H525.62L525.62 185.15H526.79L526.79 179.09H527.96L527.96 177.46H529.13L529.13 175.91H530.3L530.3 177.31H531.46L531.46 170.29H532.63L532.63 170.61H533.8L533.8 174.67H534.97L534.97 167.81H536.14L536.14 175.26H537.3L537.3 173.78H538.47L538.47 171.58H539.64L539.64 174.36H540.81L540.81 183.31H541.98L541.98 176.55H543.15L543.15 182.36H544.31L544.31 180.87H545.48L545.48 184.82H546.65L546.65 183.9H547.82L547.82 185.89H548.99L548.99 181.47H550.15L550.15 187.48H551.32L551.32 186.87H552.49L552.49 187.85H553.66L553.66 185.3H554.83L554.83 191.73H556L556 189.29H557.16L557.16 192.13H558.33L558.33 191.72H559.5L559.5 191.83H560.67L560.67 194.15H561.84L561.84 194.86H563L563 194.4H564.17L564.17 193.77H565.34L565.34 195.61H566.51L566.51 195.98H567.68L567.68 196.43H568.85L568.85 196.51H570.01L570.01 195.28H571.18L571.18 196.57H572.35L572.35 197.03H573.52L573.52 196.06H574.69L574.69 197.4H575.85L575.85 196.58H577.02L577.02 196.42H578.19L578.19 196.78H579.36L579.36 196.41H580.53L580.53 197.48H581.7L581.7 197.57H582.86L582.86 197H584.03L584.03 196.54H585.2L585.2 197.55H586.37L586.37 196.48H587.54L587.54 197.26H588.7L588.7 197.57H589.87L589.87 197.81H591.04L591.04 197.52H592.21L592.21 196.34H593.38L593.38 197H594.55L594.55 196.94H595.71L595.71 196.67H596.88L596.88 196.38H598.05L598.05 196.61H599.22L599.22 197.74H600.39L600.39 197.61H601.55L601.55 196.4H602.72L602.72 197.24H603.89L603.89 196.72H605.06L605.06 196.35H606.23L606.23 196.74H607.4L607.4 196.62H608.56L608.56 197.39H609.73L609.73 197.52H610.9L610.9 198.3Z" fill="#bdbdbd" stroke="#6a6a6a" stroke-width="0.6" stroke-linejoin="round"/>
<path d="M482.4 198.3L482.4 197.5H483.57L483.57 198.05H484.74L484.74 197.78H485.9L485.9 197.97H487.07L487.07 197.69H488.24L488.24 197.64H489.41L489.41 197.94H490.58L490.58 197.53H491.75L491.75 197.16H492.91L492.91 197.8H494.08L494.08 197.06H495.25L495.25 196.91H496.42L496.42 196.96H497.59L497.59 196.82H498.75L498.75 196.3H499.92L499.92 196.95H501.09L501.09 195.69H502.26L502.26 195.57H503.43L503.43 195.42H504.6L504.6 195.42H505.76L505.76 193.88H506.93L506.93 194.92H508.1L508.1 194.29H509.27L509.27 191.01H510.44L510.44 191.74H511.6L511.6 191.14H512.77L512.77 187.21H513.94L513.94 189.72H515.11L515.11 184.16H516.28L516.28 183.13H517.45L517.45 182.94H518.61L518.61 181.23H519.78L519.78 184.17H520.95L520.95 185.39H522.12L522.12 184.43H523.29L523.29 175.79H524.45L524.45 173.62H525.62L525.62 176.28H526.79L526.79 174.3H527.96L527.96 171.23H529.13L529.13 181.75H530.3L530.3 178.25H531.46L531.46 171.52H532.63L532.63 182.16H533.8L533.8 178.79H534.97L534.97 178.25H536.14L536.14 182.81H537.3L537.3 176.69H538.47L538.47 182.58H539.64L539.64 179.03H540.81L540.81 182.04H541.98L541.98 182.42H543.15L543.15 184.87H544.31L544.31 188H545.48L545.48 185.64H546.65L546.65 187.54H547.82L547.82 190.99H548.99L548.99 190.73H550.15L550.15 189.93H551.32L551.32 190.7H552.49L552.49 192.04H553.66L553.66 193.53H554.83L554.83 193.64H556L556 194.36H557.16L557.16 194.21H558.33L558.33 194.79H559.5L559.5 195.28H560.67L560.67 195.94H561.84L561.84 196.53H563L563 195.91H564.17L564.17 196.04H565.34L565.34 196.31H566.51L566.51 195.95H567.68L567.68 196.15H568.85L568.85 196.64H570.01L570.01 196.47H571.18L571.18 197.18H572.35L572.35 197.18H573.52L573.52 196.24H574.69L574.69 197.18H575.85L575.85 196.51H577.02L577.02 196.95H578.19L578.19 197.41H579.36L579.36 197.53H580.53L580.53 196.51H581.7L581.7 197.7H582.86L582.86 197.69H584.03L584.03 197.18H585.2L585.2 197.48H586.37L586.37 197.5H587.54L587.54 196.88H588.7L588.7 196.61H589.87L589.87 197.32H591.04L591.04 196.56H592.21L592.21 196.72H593.38L593.38 196.81H594.55L594.55 197.77H595.71L595.71 196.85H596.88L596.88 196.34H598.05L598.05 197.61H599.22L599.22 196.92H600.39L600.39 196.73H601.55L601.55 196.77H602.72L602.72 196.67H603.89L603.89 196.94H605.06L605.06 197.38H606.23L606.23 197.75H607.4L607.4 197.57H608.56L608.56 197.39H609.73L609.73 197.05H610.9L610.9 198.3Z" fill="#9a9a9a" stroke="#555" stroke-width="0.6" stroke-linejoin="round"/>
<path d="M482.4 198.3L482.4 197.64H483.57L483.57 197.5H484.74L484.74 197.67H485.9L485.9 197.56H487.07L487.07 197.55H488.24L488.24 197.44H489.41L489.41 197.3H490.58L490.58 197.85H491.75L491.75 197.06H492.91L492.91 197.41H494.08L494.08 196.87H495.25L495.25 196.99H496.42L496.42 197.27H497.59L497.59 197.1H498.75L498.75 196.72H499.92L499.92 195.56H501.09L501.09 195.66H502.26L502.26 196.55H503.43L503.43 194.51H504.6L504.6 193.39H505.76L505.76 193.55H506.93L506.93 192.04H508.1L508.1 193.62H509.27L509.27 193.27H510.44L510.44 190.49H511.6L511.6 188.04H512.77L512.77 187.86H513.94L513.94 185.93H515.11L515.11 187.89H516.28L516.28 186.82H517.45L517.45 183.27H518.61L518.61 180.96H519.78L519.78 182.2H520.95L520.95 184.42H522.12L522.12 180.39H523.29L523.29 177.19H524.45L524.45 182.24H525.62L525.62 180.99H526.79L526.79 180.43H527.96L527.96 184.42H529.13L529.13 178.23H530.3L530.3 180.68H531.46L531.46 182.65H532.63L532.63 185.03H533.8L533.8 184.9H534.97L534.97 179.85H536.14L536.14 183.98H537.3L537.3 186.84H538.47L538.47 184.84H539.64L539.64 185.45H540.81L540.81 189.21H541.98L541.98 187.45H543.15L543.15 188.47H544.31L544.31 192.24H545.48L545.48 192.13H546.65L546.65 190.41H547.82L547.82 191.5H548.99L548.99 193.5H550.15L550.15 194.01H551.32L551.32 194.21H552.49L552.49 194.04H553.66L553.66 194.9H554.83L554.83 195.42H556L556 196.36H557.16L557.16 196.41H558.33L558.33 195.84H559.5L559.5 196.49H560.67L560.67 196.42H561.84L561.84 196.65H563L563 196.05H564.17L564.17 196.95H565.34L565.34 197.45H566.51L566.51 196.34H567.68L567.68 196.51H568.85L568.85 196.91H570.01L570.01 197.39H571.18L571.18 196.95H572.35L572.35 197.5H573.52L573.52 197.8H574.69L574.69 196.49H575.85L575.85 197.22H577.02L577.02 196.82H578.19L578.19 197.7H579.36L579.36 197.68H580.53L580.53 196.87H581.7L581.7 197.6H582.86L582.86 196.96H584.03L584.03 197.59H585.2L585.2 197.6H586.37L586.37 197.14H587.54L587.54 197.59H588.7L588.7 197.12H589.87L589.87 197.41H591.04L591.04 196.76H592.21L592.21 197.21H593.38L593.38 197.82H594.55L594.55 196.61H595.71L595.71 197.29H596.88L596.88 197.6H598.05L598.05 197.19H599.22L599.22 196.68H600.39L600.39 196.81H601.55L601.55 197.1H602.72L602.72 197.66H603.89L603.89 196.95H605.06L605.06 197.74H606.23L606.23 196.75H607.4L607.4 197.2H608.56L608.56 196.92H609.73L609.73 197.19H610.9L610.9 198.3Z" fill="#858585" stroke="#4a4a4a" stroke-width="0.6" stroke-linejoin="round"/>
<path d="M482.4 198.3L482.4 197.71H483.57L483.57 198.05H484.74L484.74 197.8H485.9L485.9 197.58H487.07L487.07 197.94H488.24L488.24 197.74H489.41L489.41 197.64H490.58L490.58 197.72H491.75L491.75 197.59H492.91L492.91 197.9H494.08L494.08 197.63H495.25L495.25 197.15H496.42L496.42 197.82H497.59L497.59 197.45H498.75L498.75 197.62H499.92L499.92 197.56H501.09L501.09 196.94H502.26L502.26 196.45H503.43L503.43 196.99H504.6L504.6 196.39H505.76L505.76 195.8H506.93L506.93 195.45H508.1L508.1 194.93H509.27L509.27 194.38H510.44L510.44 194.51H511.6L511.6 192.78H512.77L512.77 192.12H513.94L513.94 191.82H515.11L515.11 190.52H516.28L516.28 191.15H517.45L517.45 189.63H518.61L518.61 186.53H519.78L519.78 188.39H520.95L520.95 184.99H522.12L522.12 186.76H523.29L523.29 184.65H524.45L524.45 185.15H525.62L525.62 184.56H526.79L526.79 183.75H527.96L527.96 184.43H529.13L529.13 185.79H530.3L530.3 184.78H531.46L531.46 184.33H532.63L532.63 185.52H533.8L533.8 187.42H534.97L534.97 187.87H536.14L536.14 186.16H537.3L537.3 189.18H538.47L538.47 188.99H539.64L539.64 189.25H540.81L540.81 190.15H541.98L541.98 190.21H543.15L543.15 191.3H544.31L544.31 192.39H545.48L545.48 193H546.65L546.65 193.18H547.82L547.82 193.14H548.99L548.99 194.14H550.15L550.15 194.44H551.32L551.32 195.52H552.49L552.49 195.45H553.66L553.66 195.34H554.83L554.83 196.1H556L556 195.91H557.16L557.16 196.75H558.33L558.33 196.78H559.5L559.5 196.74H560.67L560.67 197.21H561.84L561.84 196.37H563L563 197.11H564.17L564.17 197.19H565.34L565.34 197.2H566.51L566.51 197.48H567.68L567.68 196.93H568.85L568.85 197.83H570.01L570.01 197.82H571.18L571.18 197.25H572.35L572.35 197.8H573.52L573.52 197.16H574.69L574.69 196.9H575.85L575.85 196.9H577.02L577.02 196.9H578.19L578.19 196.97H579.36L579.36 197.87H580.53L580.53 197.02H581.7L581.7 197.15H582.86L582.86 197.1H584.03L584.03 196.84H585.2L585.2 197.9H586.37L586.37 197.42H587.54L587.54 197.53H588.7L588.7 197.68H589.87L589.87 197.19H591.04L591.04 197.56H592.21L592.21 196.82H593.38L593.38 196.88H594.55L594.55 197.36H595.71L595.71 197.4H596.88L596.88 197.46H598.05L598.05 196.89H599.22L599.22 197.78H600.39L600.39 197.84H601.55L601.55 197.43H602.72L602.72 196.81H603.89L603.89 196.95H605.06L605.06 197.83H606.23L606.23 196.91H607.4L607.4 197.49H608.56L608.56 197.42H609.73L609.73 197.12H610.9L610.9 198.3Z" fill="#6e6e6e" stroke="#444" stroke-width="0.6" stroke-linejoin="round"/>
<path d="M578.1 141V197" stroke="#45b5e5" stroke-width="0.9" stroke-dasharray="3 3.3" fill="none"/>
<rect x="482.4" y="127.0" width="128.5" height="71.3" fill="none" stroke="#5a5a5a" stroke-width="0.9"/>
<path d="M482.4 198.3v2.8M495.25 198.3v1.4M508.1 198.3v1.4M520.95 198.3v1.4M533.8 198.3v1.4M546.65 198.3v2.8M559.5 198.3v1.4M572.35 198.3v1.4M585.2 198.3v1.4M598.05 198.3v1.4M610.9 198.3v2.8" stroke="#333" stroke-width="0.7" fill="none"/>
<text x="482.4" y="209" font-size="8.5" text-anchor="middle" fill="#000">0.000</text>
<text x="546.65" y="209" font-size="8.5" text-anchor="middle" fill="#000">0.005</text>
<text x="610.9" y="209" font-size="8.5" text-anchor="middle" fill="#000">0.010</text>
</g>
<g id="panelC">
<text x="0.3" y="280.8" font-size="10.8" text-anchor="start" fill="#000" font-weight="bold">C</text>
<rect x="56.4" y="270.3" width="223.2" height="7.1" fill="url(#cb)" stroke="#333" stroke-width="0.5"/>
<text x="53" y="277.3" font-size="8.3" text-anchor="end" fill="#000">-0.02</text>
<text x="282.8" y="277.3" font-size="8.3" text-anchor="start" fill="#000">0.01</text>
<text x="169.8" y="277.1" font-size="9.7" text-anchor="middle" fill="#000">Contrast</text>
<filter id="n0" x="0" y="0" width="100%" height="100%" color-interpolation-filters="sRGB"><feTurbulence type="fractalNoise" baseFrequency="0.4" numOctaves="1" seed="3"/><feColorMatrix type="matrix" values="0.33 0 0 0 0.52 0.33 0 0 0 0.52 0.33 0 0 0 0.52 0 0 0 0 1"/></filter>
<clipPath id="cc0"><rect x="21" y="279" width="61" height="62"/></clipPath>
<g clip-path="url(#cc0)"><rect x="5.5" y="264" width="92" height="92" fill="#acacac" filter="url(#n0)" transform="rotate(27 51.5 310)"/></g>
<filter id="n1" x="0" y="0" width="100%" height="100%" color-interpolation-filters="sRGB"><feTurbulence type="fractalNoise" baseFrequency="0.55" numOctaves="1" seed="4"/><feColorMatrix type="matrix" values="0.28 0 0 0 0.54 0.28 0 0 0 0.54 0.28 0 0 0 0.54 0 0 0 0 1"/></filter>
<clipPath id="cc1"><rect x="82" y="279" width="61" height="62"/></clipPath>
<g clip-path="url(#cc1)"><rect x="66.5" y="264" width="92" height="92" fill="#acacac" filter="url(#n1)" transform="rotate(-31 112.5 310)"/></g>
<filter id="n2" x="0" y="0" width="100%" height="100%" color-interpolation-filters="sRGB"><feTurbulence type="fractalNoise" baseFrequency="0.79 0.83" numOctaves="1" seed="5"/><feColorMatrix type="matrix" values="0.42 0 0 0 0.47 0.42 0 0 0 0.47 0.42 0 0 0 0.47 0 0 0 0 1"/></filter>
<clipPath id="cc2"><rect x="143" y="279" width="61" height="62"/></clipPath>
<g clip-path="url(#cc2)"><rect x="127.5" y="264" width="92" height="92" fill="#acacac" filter="url(#n2)" transform="rotate(38 173.5 310)"/></g>
<filter id="n3" x="0" y="0" width="100%" height="100%" color-interpolation-filters="sRGB"><feTurbulence type="fractalNoise" baseFrequency="0.79 0.83" numOctaves="1" seed="6"/><feColorMatrix type="matrix" values="0.42 0 0 0 0.47 0.42 0 0 0 0.47 0.42 0 0 0 0.47 0 0 0 0 1"/></filter>
<clipPath id="cc3"><rect x="205" y="279" width="61" height="62"/></clipPath>
<g clip-path="url(#cc3)"><rect x="189.5" y="264" width="92" height="92" fill="#acacac" filter="url(#n3)" transform="rotate(-24 235.5 310)"/></g>
<filter id="n4" x="0" y="0" width="100%" height="100%" color-interpolation-filters="sRGB"><feTurbulence type="fractalNoise" baseFrequency="0.79 0.83" numOctaves="1" seed="7"/><feColorMatrix type="matrix" values="0.42 0 0 0 0.47 0.42 0 0 0 0.47 0.42 0 0 0 0.47 0 0 0 0 1"/></filter>
<clipPath id="cc4"><rect x="266" y="279" width="61" height="62"/></clipPath>
<g clip-path="url(#cc4)"><rect x="250.5" y="264" width="92" height="92" fill="#acacac" filter="url(#n4)" transform="rotate(33 296.5 310)"/></g>
<filter id="n5" x="0" y="0" width="100%" height="100%" color-interpolation-filters="sRGB"><feTurbulence type="fractalNoise" baseFrequency="0.82 0.78" numOctaves="1" seed="8"/><feColorMatrix type="matrix" values="0.42 0 0 0 0.47 0.42 0 0 0 0.47 0.42 0 0 0 0.47 0 0 0 0 1"/></filter>
<clipPath id="cc5"><rect x="21" y="340" width="61" height="62"/></clipPath>
<g clip-path="url(#cc5)"><rect x="5.5" y="325" width="92" height="92" fill="#acacac" filter="url(#n5)" transform="rotate(34 51.5 371)"/></g>
<filter id="n6" x="0" y="0" width="100%" height="100%" color-interpolation-filters="sRGB"><feTurbulence type="fractalNoise" baseFrequency="0.82 0.78" numOctaves="1" seed="9"/><feColorMatrix type="matrix" values="0.42 0 0 0 0.47 0.42 0 0 0 0.47 0.42 0 0 0 0.47 0 0 0 0 1"/></filter>
<clipPath id="cc6"><rect x="82" y="340" width="61" height="62"/></clipPath>
<g clip-path="url(#cc6)"><rect x="66.5" y="325" width="92" height="92" fill="#acacac" filter="url(#n6)" transform="rotate(-24 112.5 371)"/></g>
<filter id="n7" x="0" y="0" width="100%" height="100%" color-interpolation-filters="sRGB"><feTurbulence type="fractalNoise" baseFrequency="0.82 0.78" numOctaves="1" seed="10"/><feColorMatrix type="matrix" values="0.42 0 0 0 0.47 0.42 0 0 0 0.47 0.42 0 0 0 0.47 0 0 0 0 1"/></filter>
<clipPath id="cc7"><rect x="143" y="340" width="61" height="62"/></clipPath>
<g clip-path="url(#cc7)"><rect x="127.5" y="325" width="92" height="92" fill="#acacac" filter="url(#n7)" transform="rotate(45 173.5 371)"/></g>
<filter id="n8" x="0" y="0" width="100%" height="100%" color-interpolation-filters="sRGB"><feTurbulence type="fractalNoise" baseFrequency="0.82 0.78" numOctaves="1" seed="11"/><feColorMatrix type="matrix" values="0.42 0 0 0 0.47 0.42 0 0 0 0.47 0.42 0 0 0 0.47 0 0 0 0 1"/></filter>
<clipPath id="cc8"><rect x="205" y="340" width="61" height="62"/></clipPath>
<g clip-path="url(#cc8)"><rect x="189.5" y="325" width="92" height="92" fill="#acacac" filter="url(#n8)" transform="rotate(-17 235.5 371)"/></g>
<filter id="n9" x="0" y="0" width="100%" height="100%" color-interpolation-filters="sRGB"><feTurbulence type="fractalNoise" baseFrequency="0.82 0.78" numOctaves="1" seed="12"/><feColorMatrix type="matrix" values="0.42 0 0 0 0.47 0.42 0 0 0 0.47 0.42 0 0 0 0.47 0 0 0 0 1"/></filter>
<clipPath id="cc9"><rect x="266" y="340" width="61" height="62"/></clipPath>
<g clip-path="url(#cc9)"><rect x="250.5" y="325" width="92" height="92" fill="#acacac" filter="url(#n9)" transform="rotate(40 296.5 371)"/></g>
<filter id="n10" x="0" y="0" width="100%" height="100%" color-interpolation-filters="sRGB"><feTurbulence type="fractalNoise" baseFrequency="0.8 0.84" numOctaves="1" seed="13"/><feColorMatrix type="matrix" values="0.6 0 0 0 0.38 0.6 0 0 0 0.38 0.6 0 0 0 0.38 0 0 0 0 1"/></filter>
<clipPath id="cc10"><rect x="21" y="400" width="61" height="62"/></clipPath>
<g clip-path="url(#cc10)"><rect x="5.5" y="385" width="92" height="92" fill="#acacac" filter="url(#n10)" transform="rotate(41 51.5 431)"/></g>
<filter id="n11" x="0" y="0" width="100%" height="100%" color-interpolation-filters="sRGB"><feTurbulence type="fractalNoise" baseFrequency="0.8 0.84" numOctaves="1" seed="14"/><feColorMatrix type="matrix" values="0.6 0 0 0 0.38 0.6 0 0 0 0.38 0.6 0 0 0 0.38 0 0 0 0 1"/></filter>
<clipPath id="cc11"><rect x="82" y="400" width="61" height="62"/></clipPath>
<g clip-path="url(#cc11)"><rect x="66.5" y="385" width="92" height="92" fill="#acacac" filter="url(#n11)" transform="rotate(-17 112.5 431)"/></g>
<filter id="n12" x="0" y="0" width="100%" height="100%" color-interpolation-filters="sRGB"><feTurbulence type="fractalNoise" baseFrequency="0.8 0.84" numOctaves="1" seed="15"/><feColorMatrix type="matrix" values="0.6 0 0 0 0.38 0.6 0 0 0 0.38 0.6 0 0 0 0.38 0 0 0 0 1"/></filter>
<clipPath id="cc12"><rect x="143" y="400" width="61" height="62"/></clipPath>
<g clip-path="url(#cc12)"><rect x="127.5" y="385" width="92" height="92" fill="#acacac" filter="url(#n12)" transform="rotate(52 173.5 431)"/></g>
<filter id="n13" x="0" y="0" width="100%" height="100%" color-interpolation-filters="sRGB"><feTurbulence type="fractalNoise" baseFrequency="0.8 0.84" numOctaves="1" seed="16"/><feColorMatrix type="matrix" values="0.6 0 0 0 0.38 0.6 0 0 0 0.38 0.6 0 0 0 0.38 0 0 0 0 1"/></filter>
<clipPath id="cc13"><rect x="205" y="400" width="61" height="62"/></clipPath>
<g clip-path="url(#cc13)"><rect x="189.5" y="385" width="92" height="92" fill="#acacac" filter="url(#n13)" transform="rotate(-10 235.5 431)"/></g>
<filter id="n14" x="0" y="0" width="100%" height="100%" color-interpolation-filters="sRGB"><feTurbulence type="fractalNoise" baseFrequency="0.74 0.7" numOctaves="1" seed="17"/><feColorMatrix type="matrix" values="0.62 0 0 0 0.37 0.62 0 0 0 0.37 0.62 0 0 0 0.37 0 0 0 0 1"/></filter>
<clipPath id="cc14"><rect x="266" y="400" width="61" height="62"/></clipPath>
<g clip-path="url(#cc14)"><rect x="250.5" y="385" width="92" height="92" fill="#acacac" filter="url(#n14)" transform="rotate(47 296.5 431)"/></g>
<path d="M17 278H331V462.2H17ZM22.1 280.1H80.8V338.7H22.1ZM83.6 280.1H142.1V338.7H83.6ZM144.7 280.1H203.0V338.7H144.7ZM206.0 280.1H263.8V338.7H206.0ZM267.0 280.1H325.6V338.7H267.0ZM22.1 341.3H80.8V399.5H22.1ZM83.6 341.3H142.1V399.5H83.6ZM144.7 341.3H203.0V399.5H144.7ZM206.0 341.3H263.8V399.5H206.0ZM267.0 341.3H325.6V399.5H267.0ZM22.1 401.9H80.8V460.8H22.1ZM83.6 401.9H142.1V460.8H83.6ZM144.7 401.9H203.0V460.8H144.7ZM206.0 401.9H263.8V460.8H206.0ZM267.0 401.9H325.6V460.8H267.0Z" fill="#fff" fill-rule="evenodd"/>
<rect x="62" y="333.8" width="15.9" height="1.9" fill="#2c2c2c"/>
<rect x="123.3" y="333.8" width="15.9" height="1.9" fill="#2c2c2c"/>
<rect x="184.2" y="333.8" width="15.9" height="1.9" fill="#2c2c2c"/>
<rect x="245" y="333.8" width="15.9" height="1.9" fill="#2c2c2c"/>
<rect x="306.8" y="333.8" width="15.9" height="1.9" fill="#2c2c2c"/>
<rect x="62" y="394.6" width="15.9" height="1.9" fill="#2c2c2c"/>
<rect x="123.3" y="394.6" width="15.9" height="1.9" fill="#2c2c2c"/>
<rect x="184.2" y="394.6" width="15.9" height="1.9" fill="#2c2c2c"/>
<rect x="245" y="394.6" width="15.9" height="1.9" fill="#2c2c2c"/>
<rect x="306.8" y="394.6" width="15.9" height="1.9" fill="#2c2c2c"/>
<rect x="62" y="455.9" width="15.9" height="1.9" fill="#2c2c2c"/>
<rect x="123.3" y="455.9" width="15.9" height="1.9" fill="#2c2c2c"/>
<rect x="184.2" y="455.9" width="15.9" height="1.9" fill="#2c2c2c"/>
<rect x="245" y="455.9" width="15.9" height="1.9" fill="#2c2c2c"/>
<rect x="306.8" y="455.9" width="15.9" height="1.9" fill="#2c2c2c"/>
<g filter="url(#soft2)">
<circle cx="30.58" cy="346.58" r="0.92" fill="#1a1a1a" fill-opacity="0.9"/>
<circle cx="39.53" cy="351.14" r="0.552" fill="#333" fill-opacity="0.9"/>
<circle cx="40.99" cy="358.62" r="0.7360000000000001" fill="#333" fill-opacity="0.9"/>
<circle cx="66.53" cy="358.44" r="0.7360000000000001" fill="#1a1a1a" fill-opacity="0.9"/>
<circle cx="74.74" cy="352.96" r="0.552" fill="#333" fill-opacity="0.9"/>
<circle cx="38.25" cy="371.39" r="0.552" fill="#333" fill-opacity="0.9"/>
<circle cx="43.72" cy="375.41" r="0.7360000000000001" fill="#333" fill-opacity="0.9"/>
<circle cx="28.58" cy="370.85" r="0.552" fill="#333" fill-opacity="0.9"/>
<circle cx="57.41" cy="384.53" r="0.552" fill="#333" fill-opacity="0.9"/>
<circle cx="70.18" cy="381.8" r="0.644" fill="#333" fill-opacity="0.9"/>
<circle cx="72.92" cy="387.27" r="0.644" fill="#333" fill-opacity="0.9"/>
<circle cx="79.31" cy="386.91" r="0.644" fill="#333" fill-opacity="0.9"/>
<circle cx="50.11" cy="392.38" r="0.644" fill="#333" fill-opacity="0.9"/>
<circle cx="25.47" cy="396.76" r="0.644" fill="#333" fill-opacity="0.9"/>
<circle cx="48.28" cy="359.35" r="0.46" fill="#333" fill-opacity="0.9"/>
<circle cx="63.8" cy="345.3" r="0.46" fill="#333" fill-opacity="0.9"/>
<circle cx="92.63" cy="348.58" r="0.644" fill="#333" fill-opacity="0.9"/>
<circle cx="110.33" cy="356.25" r="1.0120000000000002" fill="#1a1a1a" fill-opacity="0.9"/>
<circle cx="124.93" cy="349.86" r="0.7360000000000001" fill="#333" fill-opacity="0.9"/>
<circle cx="132.23" cy="346.58" r="1.0120000000000002" fill="#1a1a1a" fill-opacity="0.9"/>
<circle cx="134.96" cy="351.14" r="0.644" fill="#333" fill-opacity="0.9"/>
<circle cx="121.28" cy="362.09" r="0.7360000000000001" fill="#1a1a1a" fill-opacity="0.9"/>
<circle cx="126.39" cy="359.35" r="0.644" fill="#333" fill-opacity="0.9"/>
<circle cx="104.31" cy="370.3" r="0.92" fill="#1a1a1a" fill-opacity="0.9"/>
<circle cx="121.28" cy="380.88" r="0.644" fill="#333" fill-opacity="0.9"/>
<circle cx="128.03" cy="392.2" r="1.0120000000000002" fill="#1a1a1a" fill-opacity="0.9"/>
<circle cx="134.05" cy="390.92" r="0.644" fill="#333" fill-opacity="0.9"/>
<circle cx="138.61" cy="383.26" r="0.644" fill="#333" fill-opacity="0.9"/>
<circle cx="108.87" cy="397.31" r="1.0120000000000002" fill="#1a1a1a" fill-opacity="0.9"/>
<circle cx="107.59" cy="399.5" r="0.8280000000000001" fill="#1a1a1a" fill-opacity="0.9"/>
<circle cx="88.07" cy="386.91" r="0.552" fill="#333" fill-opacity="0.9"/>
<circle cx="129.49" cy="349.31" r="0.552" fill="#333" fill-opacity="0.9"/>
<circle cx="108.5" cy="349.31" r="0.552" fill="#333" fill-opacity="0.9"/>
<circle cx="86.61" cy="353.51" r="0.552" fill="#333" fill-opacity="0.9"/>
<circle cx="169.74" cy="346.21" r="1.1960000000000002" fill="#1a1a1a" fill-opacity="0.9"/>
<circle cx="174.48" cy="347.12" r="0.7360000000000001" fill="#1a1a1a" fill-opacity="0.9"/>
<circle cx="175.94" cy="347.12" r="0.644" fill="#1a1a1a" fill-opacity="0.9"/>
<circle cx="179.04" cy="344.39" r="0.8280000000000001" fill="#1a1a1a" fill-opacity="0.9"/>
<circle cx="193.46" cy="348.04" r="1.0120000000000002" fill="#1a1a1a" fill-opacity="0.9"/>
<circle cx="198.57" cy="352.6" r="0.644" fill="#333" fill-opacity="0.9"/>
<circle cx="148.39" cy="354.42" r="1.0120000000000002" fill="#1a1a1a" fill-opacity="0.9"/>
<circle cx="152.95" cy="357.16" r="0.8280000000000001" fill="#1a1a1a" fill-opacity="0.9"/>
<circle cx="168.09" cy="353.51" r="0.552" fill="#333" fill-opacity="0.9"/>
<circle cx="166.27" cy="359.9" r="0.644" fill="#1a1a1a" fill-opacity="0.9"/>
<circle cx="166.09" cy="363.18" r="1.104" fill="#1a1a1a" fill-opacity="0.9"/>
<circle cx="171.56" cy="362.09" r="0.644" fill="#1a1a1a" fill-opacity="0.9"/>
<circle cx="174.48" cy="361.72" r="0.644" fill="#1a1a1a" fill-opacity="0.9"/>
<circle cx="163.53" cy="366.83" r="1.4720000000000002" fill="#f4f4f4" fill-opacity="0.9"/>
<circle cx="164.08" cy="365.37" r="0.92" fill="#f4f4f4" fill-opacity="0.9"/>
<circle cx="165.72" cy="367.56" r="0.92" fill="#1a1a1a" fill-opacity="0.9"/>
<circle cx="165.72" cy="369.39" r="0.8280000000000001" fill="#1a1a1a" fill-opacity="0.9"/>
<circle cx="169.01" cy="370.48" r="0.7360000000000001" fill="#1a1a1a" fill-opacity="0.9"/>
<circle cx="171.56" cy="368.11" r="0.644" fill="#1a1a1a" fill-opacity="0.9"/>
<circle cx="168.46" cy="373.58" r="0.92" fill="#1a1a1a" fill-opacity="0.9"/>
<circle cx="180.32" cy="361.72" r="1.1960000000000002" fill="#d6d6d6" fill-opacity="0.8"/>
<circle cx="188.53" cy="365.37" r="0.8280000000000001" fill="#1a1a1a" fill-opacity="0.9"/>
<circle cx="193.09" cy="365.37" r="0.92" fill="#d6d6d6" fill-opacity="0.8"/>
<circle cx="194.01" cy="355.34" r="1.1960000000000002" fill="#d6d6d6" fill-opacity="0.8"/>
<circle cx="195.83" cy="371.39" r="1.0120000000000002" fill="#1a1a1a" fill-opacity="0.9"/>
<circle cx="201.31" cy="368.11" r="0.92" fill="#d6d6d6" fill-opacity="0.8"/>
<circle cx="146.93" cy="373.58" r="0.8280000000000001" fill="#1a1a1a" fill-opacity="0.9"/>
<circle cx="146.01" cy="376.32" r="0.8280000000000001" fill="#1a1a1a" fill-opacity="0.9"/>
<circle cx="148.02" cy="379.97" r="0.92" fill="#1a1a1a" fill-opacity="0.9"/>
<circle cx="189.81" cy="381.8" r="0.92" fill="#1a1a1a" fill-opacity="0.9"/>
<circle cx="187.99" cy="385.45" r="0.8280000000000001" fill="#1a1a1a" fill-opacity="0.9"/>
<circle cx="177.95" cy="383.99" r="0.644" fill="#333" fill-opacity="0.9"/>
<circle cx="173.39" cy="385.08" r="0.552" fill="#333" fill-opacity="0.9"/>
<circle cx="193.46" cy="388.73" r="1.0120000000000002" fill="#1a1a1a" fill-opacity="0.9"/>
<circle cx="163.53" cy="389.64" r="1.104" fill="#1a1a1a" fill-opacity="0.9"/>
<circle cx="179.04" cy="391.28" r="0.92" fill="#1a1a1a" fill-opacity="0.9"/>
<circle cx="174.85" cy="390.37" r="0.8280000000000001" fill="#d6d6d6" fill-opacity="0.8"/>
<circle cx="147.47" cy="396.76" r="0.8280000000000001" fill="#1a1a1a" fill-opacity="0.9"/>
<circle cx="148.02" cy="398.4" r="0.92" fill="#1a1a1a" fill-opacity="0.9"/>
<circle cx="152.04" cy="349.86" r="0.92" fill="#d6d6d6" fill-opacity="0.8"/>
<circle cx="160.25" cy="351.69" r="0.8280000000000001" fill="#d6d6d6" fill-opacity="0.8"/>
<circle cx="212.8" cy="355.88" r="1.0120000000000002" fill="#1a1a1a" fill-opacity="0.9"/>
<circle cx="234.7" cy="350.23" r="1.288" fill="#1a1a1a" fill-opacity="0.9"/>
<circle cx="239.63" cy="349.5" r="1.0120000000000002" fill="#1a1a1a" fill-opacity="0.9"/>
<circle cx="237.44" cy="349.5" r="0.7360000000000001" fill="#f4f4f4" fill-opacity="0.9"/>
<circle cx="244.19" cy="351.14" r="0.552" fill="#333" fill-opacity="0.9"/>
<circle cx="232.69" cy="354.79" r="0.92" fill="#1a1a1a" fill-opacity="0.9"/>
<circle cx="234.15" cy="357.16" r="1.0120000000000002" fill="#1a1a1a" fill-opacity="0.9"/>
<circle cx="221.74" cy="366.83" r="1.104" fill="#f4f4f4" fill-opacity="0.9"/>
<circle cx="241.45" cy="370.85" r="1.0120000000000002" fill="#f4f4f4" fill-opacity="0.9"/>
<circle cx="253.31" cy="370.85" r="0.552" fill="#1a1a1a" fill-opacity="0.9"/>
<circle cx="256.05" cy="372.67" r="1.0120000000000002" fill="#1a1a1a" fill-opacity="0.9"/>
<circle cx="217.73" cy="375.04" r="1.104" fill="#f4f4f4" fill-opacity="0.9"/>
<circle cx="216.64" cy="375.59" r="0.644" fill="#1a1a1a" fill-opacity="0.9"/>
<circle cx="219.19" cy="376.14" r="0.644" fill="#1a1a1a" fill-opacity="0.9"/>
<circle cx="212.8" cy="376.69" r="0.644" fill="#333" fill-opacity="0.9"/>
<circle cx="221.93" cy="379.97" r="0.8280000000000001" fill="#1a1a1a" fill-opacity="0.9"/>
<circle cx="244.55" cy="376.32" r="1.3800000000000001" fill="#f4f4f4" fill-opacity="0.9"/>
<circle cx="246.56" cy="377.23" r="0.8280000000000001" fill="#1a1a1a" fill-opacity="0.9"/>
<circle cx="243.64" cy="381.25" r="1.0120000000000002" fill="#f4f4f4" fill-opacity="0.9"/>
<circle cx="249.3" cy="384.17" r="1.104" fill="#f4f4f4" fill-opacity="0.9"/>
<circle cx="258.79" cy="379.06" r="0.552" fill="#333" fill-opacity="0.9"/>
<circle cx="262.44" cy="364.46" r="0.92" fill="#f4f4f4" fill-opacity="0.9"/>
<circle cx="263.53" cy="359.9" r="0.8280000000000001" fill="#f4f4f4" fill-opacity="0.9"/>
<circle cx="217.73" cy="398.22" r="1.1960000000000002" fill="#1a1a1a" fill-opacity="0.9"/>
<circle cx="213.72" cy="399.13" r="0.8280000000000001" fill="#1a1a1a" fill-opacity="0.9"/>
<circle cx="230.87" cy="393.66" r="0.644" fill="#333" fill-opacity="0.9"/>
<circle cx="260.61" cy="341.65" r="0.552" fill="#1a1a1a" fill-opacity="0.9"/>
<circle cx="223.2" cy="355.88" r="0.552" fill="#333" fill-opacity="0.9"/>
<circle cx="208.06" cy="398.22" r="0.8280000000000001" fill="#f4f4f4" fill-opacity="0.9"/>
<circle cx="282.1" cy="353.5" r="1.9" fill="#f6f6f6"/><circle cx="282.1" cy="353.5" r="0.75" fill="#111"/>
<circle cx="272.6" cy="344.3" r="0.5" fill="#444"/><circle cx="295.1" cy="381.6" r="0.5" fill="#444"/>
</g>
<rect x="22.1" y="462.3" width="242.4" height="4.5" fill="#2aabe0"/>
<rect x="267.1" y="462.3" width="58.5" height="4.5" fill="#f7941d"/>
<text x="50.05" y="478.2" font-size="8.4" text-anchor="middle" fill="#3b3a9c">30 nm</text>
<text x="111.55" y="478.2" font-size="8.4" text-anchor="middle" fill="#3f86d0">50 nm</text>
<text x="172.65" y="478.2" font-size="8.4" text-anchor="middle" fill="#1fb1ae">100 nm</text>
<text x="233.95" y="478.2" font-size="8.4" text-anchor="middle" fill="#2fae5e">200 nm</text>
<text x="294.95" y="478.2" font-size="8.4" text-anchor="middle" fill="#f7941d">Sonicated</text>
<text x="169" y="492.8" font-size="9.7" text-anchor="middle" fill="#000">Liposome preparation</text>
<text transform="translate(14.6,309.4) rotate(-90)" font-size="9.7" text-anchor="middle" fill="#000">PBS</text>
<text transform="translate(14.6,370.4) rotate(-90)" font-size="9.7" text-anchor="middle" fill="#000">Liposomes</text>
<text transform="translate(14.6,431.35) rotate(-90)" font-size="9.7" text-anchor="middle" fill="#000">Peptide</text>
</g>
<g id="panelE">
<clipPath id="ecl"><rect x="390" y="277.6" width="295" height="200"/></clipPath>
<text x="366.8" y="285" font-size="10.8" text-anchor="start" fill="#000" font-weight="bold">E</text>
<rect x="412.15" y="451.84" width="18.7" height="14.46" fill="#bfe3f3"/>
<rect x="435.75" y="423.5" width="18.7" height="42.8" fill="#bfe3f3"/>
<rect x="459.35" y="432.91" width="18.7" height="33.39" fill="#bfe3f3"/>
<rect x="482.85" y="446.03" width="18.7" height="20.27" fill="#bfe3f3"/>
<rect x="506.15" y="450.05" width="18.7" height="16.25" fill="#bfe3f3"/>
<path d="M421.5 449V455.18M419.2 455.18h4.6M419.2 449h4.6M445.1 406.92V439.71M442.8 439.71h4.6M442.8 406.92h4.6M468.7 420.91V445.28M466.4 445.28h4.6M466.4 420.91h4.6M492.2 436V456.11M489.9 456.11h4.6M489.9 436h4.6M515.5 442.99V457.04M513.2 457.04h4.6M513.2 442.99h4.6" stroke="#2b2b2b" stroke-width="0.8" fill="none"/>
<g fill="none" stroke="#333" stroke-width="0.65" clip-path="url(#ecl)"><circle cx="420.2" cy="392.4" r="1.55"/><circle cx="416.9" cy="411.1" r="1.55"/><circle cx="422" cy="416.9" r="1.55"/><circle cx="425.1" cy="415.3" r="1.55"/><circle cx="423.7" cy="441.9" r="1.55"/><circle cx="443.1" cy="448.4" r="1.55"/><circle cx="447.3" cy="447.7" r="1.55"/><circle cx="445.4" cy="455.9" r="1.55"/><circle cx="445.9" cy="459.9" r="1.55"/><circle cx="443.1" cy="463.6" r="1.55"/><circle cx="446.8" cy="463.6" r="1.55"/><circle cx="442.2" cy="364.9" r="1.55"/><circle cx="442.6" cy="358.1" r="1.55"/><circle cx="446.7" cy="351.6" r="1.55"/><circle cx="468.1" cy="403.8" r="1.55"/><circle cx="469.2" cy="409.9" r="1.55"/><circle cx="468.3" cy="428.4" r="1.55"/><circle cx="465.5" cy="462.5" r="1.55"/><circle cx="469.2" cy="462.5" r="1.55"/><circle cx="491.9" cy="411.5" r="1.55"/><circle cx="491.9" cy="434.7" r="1.55"/><circle cx="486.7" cy="460.1" r="1.55"/><circle cx="492.1" cy="464.1" r="1.55"/><circle cx="497.3" cy="461.5" r="1.55"/><circle cx="515.2" cy="426" r="1.55"/><circle cx="515.2" cy="429.5" r="1.55"/><circle cx="509.9" cy="463.4" r="1.55"/><circle cx="512.7" cy="461.3" r="1.55"/><circle cx="516.9" cy="460.1" r="1.55"/><circle cx="520.6" cy="461.5" r="1.55"/><circle cx="418.6" cy="461.7" r="1.55"/><circle cx="417.7" cy="462.57" r="1.55"/><circle cx="416.73" cy="457.1" r="1.55"/><circle cx="424.8" cy="459.47" r="1.55"/><circle cx="424.42" cy="464.32" r="1.55"/><circle cx="419.04" cy="459.8" r="1.55"/><circle cx="417.9" cy="462.84" r="1.55"/><circle cx="426.2" cy="463.37" r="1.55"/><circle cx="425.12" cy="462.48" r="1.55"/><circle cx="418.13" cy="457.73" r="1.55"/><circle cx="419.41" cy="460.2" r="1.55"/><circle cx="425.4" cy="460.07" r="1.55"/><circle cx="425.68" cy="460.05" r="1.55"/><circle cx="423.39" cy="462.12" r="1.55"/><circle cx="421.57" cy="463.07" r="1.55"/><circle cx="416.98" cy="460.72" r="1.55"/><circle cx="426.28" cy="461.54" r="1.55"/><circle cx="419.3" cy="461.06" r="1.55"/><circle cx="426" cy="456.94" r="1.55"/><circle cx="425.33" cy="461.21" r="1.55"/><circle cx="421.59" cy="460.08" r="1.55"/><circle cx="420.74" cy="462.17" r="1.55"/></g>
<rect x="398.4" y="277.5" width="141.1" height="190.3" fill="none" stroke="#111" stroke-width="1"/>
<path d="M398.4 465.7h-4M398.4 459.51h-1.6M398.4 453.33h-1.6M398.4 447.14h-1.6M398.4 440.95h-1.6M398.4 434.76h-2.8M398.4 428.58h-1.6M398.4 422.39h-1.6M398.4 416.2h-1.6M398.4 410.02h-1.6M398.4 403.83h-4M398.4 397.64h-1.6M398.4 391.46h-1.6M398.4 385.27h-1.6M398.4 379.08h-1.6M398.4 372.89h-2.8M398.4 366.71h-1.6M398.4 360.52h-1.6M398.4 354.33h-1.6M398.4 348.15h-1.6M398.4 341.96h-4M398.4 335.77h-1.6M398.4 329.59h-1.6M398.4 323.4h-1.6M398.4 317.21h-1.6M398.4 311.02h-2.8M398.4 304.84h-1.6M398.4 298.65h-1.6M398.4 292.46h-1.6M398.4 286.28h-1.6M398.4 280.09h-4" stroke="#111" stroke-width="0.7" fill="none"/>
<text x="469.2" y="292" font-size="9.7" text-anchor="middle" fill="#000">Background</text>
<text x="421.5" y="477.4" font-size="8.6" text-anchor="middle" fill="#000">30</text>
<text x="445.1" y="477.4" font-size="8.6" text-anchor="middle" fill="#000">50</text>
<text x="468.7" y="477.4" font-size="8.6" text-anchor="middle" fill="#000">100</text>
<text x="492.2" y="477.4" font-size="8.6" text-anchor="middle" fill="#000">200</text>
<text x="515.5" y="477.4" font-size="8.6" text-anchor="middle" fill="#000">Son.</text>
<rect x="558.85" y="458.89" width="18.7" height="7.41" fill="#2aabe0"/>
<rect x="581.75" y="440.95" width="18.7" height="25.35" fill="#2aabe0"/>
<rect x="605.15" y="418.37" width="18.7" height="47.93" fill="#2aabe0"/>
<rect x="628.35" y="453.94" width="18.7" height="12.36" fill="#2aabe0"/>
<rect x="651.35" y="396.41" width="18.7" height="69.89" fill="#2aabe0"/>
<path d="M568.2 457.35V460.44M565.9 460.44h4.6M565.9 457.35h4.6M591.1 429.2V452.34M588.8 452.34h4.6M588.8 429.2h4.6M614.5 390.22V446.52M612.2 446.52h4.6M612.2 390.22h4.6M637.7 448.38V459.51M635.4 459.51h4.6M635.4 448.38h4.6M660.7 337.32V455.37M658.4 455.37h4.6M658.4 337.32h4.6" stroke="#2b2b2b" stroke-width="0.8" fill="none"/>
<g fill="none" stroke="#333" stroke-width="0.65" clip-path="url(#ecl)"><circle cx="568" cy="437.5" r="1.55"/><circle cx="565.9" cy="448.7" r="1.55"/><circle cx="572" cy="450.3" r="1.55"/><circle cx="592.3" cy="409.2" r="1.55"/><circle cx="591.1" cy="419.2" r="1.55"/><circle cx="589.2" cy="450.8" r="1.55"/><circle cx="585.7" cy="464.8" r="1.55"/><circle cx="588.5" cy="464.8" r="1.55"/><circle cx="591.1" cy="465.3" r="1.55"/><circle cx="593.7" cy="463.6" r="1.55"/><circle cx="596.2" cy="464.6" r="1.55"/><circle cx="591.1" cy="366.6" r="1.55"/><circle cx="611.9" cy="422.3" r="1.55"/><circle cx="620.3" cy="432.6" r="1.55"/><circle cx="615.2" cy="462.5" r="1.55"/><circle cx="615.2" cy="465.3" r="1.55"/><circle cx="614.2" cy="311" r="1.55"/><circle cx="637.4" cy="432.6" r="1.55"/><circle cx="635" cy="452.9" r="1.55"/><circle cx="633.2" cy="459.7" r="1.55"/><circle cx="642.7" cy="460.6" r="1.55"/><circle cx="639.5" cy="465.7" r="1.55"/><circle cx="656.7" cy="436.5" r="1.55"/><circle cx="656.7" cy="460.8" r="1.55"/><circle cx="660" cy="459.7" r="1.55"/><circle cx="664" cy="457.8" r="1.55"/><circle cx="658.6" cy="465.5" r="1.55"/><circle cx="660.5" cy="278.3" r="1.55"/><circle cx="564.47" cy="463.25" r="1.55"/><circle cx="563.21" cy="458.85" r="1.55"/><circle cx="565.78" cy="461.26" r="1.55"/><circle cx="573.67" cy="464.23" r="1.55"/><circle cx="567.24" cy="463.56" r="1.55"/><circle cx="566.61" cy="459.85" r="1.55"/><circle cx="566.23" cy="458.68" r="1.55"/><circle cx="563.38" cy="462.46" r="1.55"/><circle cx="571.12" cy="463.04" r="1.55"/><circle cx="564.65" cy="463.05" r="1.55"/><circle cx="563.17" cy="461.65" r="1.55"/><circle cx="570.78" cy="457.42" r="1.55"/><circle cx="562.9" cy="462.12" r="1.55"/><circle cx="567.21" cy="455.81" r="1.55"/><circle cx="569.53" cy="463.91" r="1.55"/><circle cx="567.59" cy="462.67" r="1.55"/><circle cx="566.9" cy="462.5" r="1.55"/><circle cx="563.19" cy="464.36" r="1.55"/><circle cx="571.32" cy="463.43" r="1.55"/><circle cx="573.5" cy="462.65" r="1.55"/><circle cx="564.99" cy="464.04" r="1.55"/><circle cx="570.15" cy="464.68" r="1.55"/><circle cx="563.15" cy="461.39" r="1.55"/><circle cx="564.05" cy="464.36" r="1.55"/></g>
<rect x="544.4" y="277.5" width="139" height="190.3" fill="none" stroke="#111" stroke-width="1"/>
<path d="M544.4 465.7h-4M544.4 459.51h-1.6M544.4 453.33h-1.6M544.4 447.14h-1.6M544.4 440.95h-1.6M544.4 434.76h-2.8M544.4 428.58h-1.6M544.4 422.39h-1.6M544.4 416.2h-1.6M544.4 410.02h-1.6M544.4 403.83h-4M544.4 397.64h-1.6M544.4 391.46h-1.6M544.4 385.27h-1.6M544.4 379.08h-1.6M544.4 372.89h-2.8M544.4 366.71h-1.6M544.4 360.52h-1.6M544.4 354.33h-1.6M544.4 348.15h-1.6M544.4 341.96h-4M544.4 335.77h-1.6M544.4 329.59h-1.6M544.4 323.4h-1.6M544.4 317.21h-1.6M544.4 311.02h-2.8M544.4 304.84h-1.6M544.4 298.65h-1.6M544.4 292.46h-1.6M544.4 286.28h-1.6M544.4 280.09h-4" stroke="#111" stroke-width="0.7" fill="none"/>
<text x="616" y="292" font-size="9.7" text-anchor="middle" fill="#000">Signal</text>
<text x="568.2" y="477.4" font-size="8.6" text-anchor="middle" fill="#000">30</text>
<text x="591.1" y="477.4" font-size="8.6" text-anchor="middle" fill="#000">50</text>
<text x="614.5" y="477.4" font-size="8.6" text-anchor="middle" fill="#000">100</text>
<text x="637.7" y="477.4" font-size="8.6" text-anchor="middle" fill="#000">200</text>
<text x="660.7" y="477.4" font-size="8.6" text-anchor="middle" fill="#000">Son.</text>
<text x="394.9" y="468.9" font-size="9" text-anchor="end" fill="#000">0</text>
<text x="394.9" y="407.03" font-size="9" text-anchor="end" fill="#000">10</text>
<text x="394.9" y="345.16" font-size="9" text-anchor="end" fill="#000">20</text>
<text x="394.9" y="283.29" font-size="9" text-anchor="end" fill="#000">30</text>
<text transform="translate(377.9,375.6) rotate(-90)" font-size="9.7" text-anchor="middle" fill="#000">Counts per 10x10 µm<tspan font-size="5.8" dy="-3.4">2</tspan></text>
<text x="542.2" y="492.8" font-size="9.7" text-anchor="middle" fill="#000">Liposome preparation</text>
</g>
</svg></body></html>
